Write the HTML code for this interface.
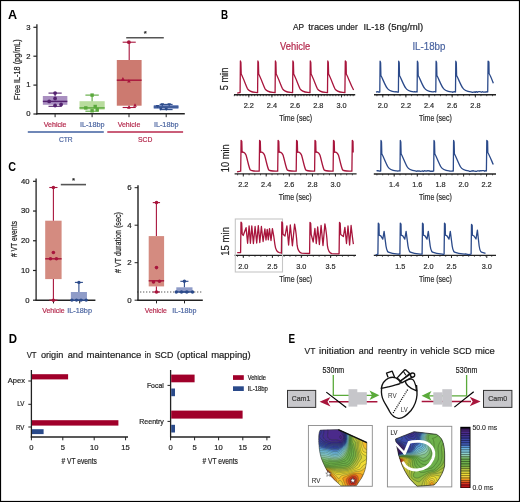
<!DOCTYPE html>
<html><head><meta charset="utf-8"><title>Figure</title>
<style>
html,body{margin:0;padding:0;background:#fff;width:520px;height:502px;overflow:hidden;}
svg{display:block;will-change:transform;}
text{font-family:"Liberation Sans",sans-serif;}
</style></head><body>
<svg width="520" height="502" viewBox="0 0 520 502">
<rect x="0" y="0" width="520" height="502" fill="#fff"/>
<text x="8" y="18.6" font-size="12.8" fill="#000" font-weight="bold" textLength="9.1" lengthAdjust="spacingAndGlyphs" >A</text>
<line x1="36.9" y1="24.3" x2="36.9" y2="114.4" stroke="#222" stroke-width="1.3" />
<line x1="33.4" y1="114" x2="36.9" y2="114" stroke="#222" stroke-width="1.2" />
<text x="30.6" y="116.3" font-size="7.7" fill="#222" stroke="#222" stroke-width="0.2" text-anchor="end" >0</text>
<line x1="33.4" y1="85.1" x2="36.9" y2="85.1" stroke="#222" stroke-width="1.2" />
<text x="30.6" y="87.4" font-size="7.7" fill="#222" stroke="#222" stroke-width="0.2" text-anchor="end" >1</text>
<line x1="33.4" y1="56.2" x2="36.9" y2="56.2" stroke="#222" stroke-width="1.2" />
<text x="30.6" y="58.5" font-size="7.7" fill="#222" stroke="#222" stroke-width="0.2" text-anchor="end" >2</text>
<line x1="33.4" y1="27.3" x2="36.9" y2="27.3" stroke="#222" stroke-width="1.2" />
<text x="30.6" y="29.6" font-size="7.7" fill="#222" stroke="#222" stroke-width="0.2" text-anchor="end" >3</text>
<text transform="translate(20.4,69.6) rotate(-90)" font-size="8.4" fill="#222" stroke="#222" stroke-width="0.2" text-anchor="middle" textLength="60.8" lengthAdjust="spacingAndGlyphs" >Free IL-18 (pg/mL)</text>
<line x1="36.2" y1="113.8" x2="184.8" y2="113.8" stroke="#222" stroke-width="1.5" />
<line x1="55.1" y1="113.8" x2="55.1" y2="117.2" stroke="#222" stroke-width="1" />
<line x1="92.1" y1="113.8" x2="92.1" y2="117.2" stroke="#222" stroke-width="1" />
<line x1="129" y1="113.8" x2="129" y2="117.2" stroke="#222" stroke-width="1" />
<line x1="166.2" y1="113.8" x2="166.2" y2="117.2" stroke="#222" stroke-width="1" />
<rect x="42.85" y="96" width="24.5" height="8.8" fill="#a98fc0" stroke="none" stroke-width="1" />
<line x1="55.1" y1="93.1" x2="55.1" y2="96" stroke="#54226f" stroke-width="1.1" />
<line x1="55.1" y1="104.8" x2="55.1" y2="106.3" stroke="#54226f" stroke-width="1.1" />
<line x1="48.5" y1="93.1" x2="61.7" y2="93.1" stroke="#54226f" stroke-width="1.1" />
<line x1="48.5" y1="106.3" x2="61.7" y2="106.3" stroke="#54226f" stroke-width="1.1" />
<line x1="42.85" y1="101.4" x2="67.35" y2="101.4" stroke="#54226f" stroke-width="1.43" />
<circle cx="55.1" cy="93.1" r="1.9" fill="#54226f"/>
<circle cx="55.1" cy="98.5" r="1.9" fill="#54226f"/>
<circle cx="49.2" cy="101.4" r="1.9" fill="#54226f"/>
<circle cx="55.1" cy="105.5" r="1.9" fill="#54226f"/>
<circle cx="61.1" cy="104.5" r="1.9" fill="#54226f"/>
<rect x="79.5" y="101.2" width="25.2" height="8.4" fill="#b9dc9e" stroke="none" stroke-width="1" />
<line x1="92.1" y1="95.1" x2="92.1" y2="101.2" stroke="#5aa83c" stroke-width="1.1" />
<line x1="92.1" y1="109.6" x2="92.1" y2="111.2" stroke="#5aa83c" stroke-width="1.1" />
<line x1="85.4" y1="95.1" x2="98.8" y2="95.1" stroke="#5aa83c" stroke-width="1.1" />
<line x1="85.4" y1="111.2" x2="98.8" y2="111.2" stroke="#5aa83c" stroke-width="1.1" />
<line x1="79.5" y1="107.9" x2="104.7" y2="107.9" stroke="#5aa83c" stroke-width="1.43" />
<rect x="90.4" y="93.4" width="3.4" height="3.4" fill="#5aa83c" stroke="none" stroke-width="1" />
<rect x="84.1" y="106.2" width="3.4" height="3.4" fill="#5aa83c" stroke="none" stroke-width="1" />
<rect x="93.5" y="104.8" width="3.4" height="3.4" fill="#5aa83c" stroke="none" stroke-width="1" />
<rect x="95.5" y="107.9" width="3.4" height="3.4" fill="#5aa83c" stroke="none" stroke-width="1" />
<rect x="90.4" y="109.1" width="3.4" height="3.4" fill="#5aa83c" stroke="none" stroke-width="1" />
<rect x="116.8" y="60" width="24.8" height="45.7" fill="#cc7a70" stroke="none" stroke-width="1" />
<line x1="129.2" y1="42.2" x2="129.2" y2="60" stroke="#a8153c" stroke-width="1.1" />
<line x1="129.2" y1="105.7" x2="129.2" y2="107.5" stroke="#a8153c" stroke-width="1.1" />
<line x1="122.65" y1="42.2" x2="135.75" y2="42.2" stroke="#a8153c" stroke-width="1.1" />
<line x1="122.65" y1="107.5" x2="135.75" y2="107.5" stroke="#a8153c" stroke-width="1.1" />
<line x1="116.8" y1="80.2" x2="141.6" y2="80.2" stroke="#a8153c" stroke-width="1.43" />
<circle cx="128.9" cy="42.2" r="1.9" fill="#a8153c"/>
<polygon points="121,80.51 124.8,80.51 122.9,77.09" fill="#a8153c"/>
<polygon points="133.1,106.71 136.9,106.71 135,103.29" fill="#a8153c"/>
<polygon points="127.1,82.42 130.7,82.42 128.9,79.18" fill="#a8153c"/>
<polygon points="127.1,108.72 130.7,108.72 128.9,105.48" fill="#a8153c"/>
<rect x="153.75" y="105" width="24.7" height="3.8" fill="#7b8fc4" stroke="none" stroke-width="1" />
<line x1="166.1" y1="104.4" x2="166.1" y2="105" stroke="#2b4a8a" stroke-width="1.1" />
<line x1="166.1" y1="108.8" x2="166.1" y2="109.6" stroke="#2b4a8a" stroke-width="1.1" />
<line x1="159.6" y1="104.4" x2="172.6" y2="104.4" stroke="#2b4a8a" stroke-width="1.1" />
<line x1="159.6" y1="109.6" x2="172.6" y2="109.6" stroke="#2b4a8a" stroke-width="1.1" />
<line x1="153.75" y1="107" x2="178.45" y2="107" stroke="#2b4a8a" stroke-width="1.43" />
<polygon points="160.5,103.18 164.1,103.18 162.3,106.42" fill="#2b4a8a"/>
<polygon points="167.4,103.18 171,103.18 169.2,106.42" fill="#2b4a8a"/>
<polygon points="155.7,104.98 159.3,104.98 157.5,108.22" fill="#2b4a8a"/>
<polygon points="159,107.58 162.6,107.58 160.8,110.82" fill="#2b4a8a"/>
<polygon points="164.4,107.78 168,107.78 166.2,111.02" fill="#2b4a8a"/>
<line x1="126.2" y1="37.7" x2="163.8" y2="37.7" stroke="#555" stroke-width="1.6" />
<text x="145.4" y="36.4" font-size="8" fill="#222" stroke="#222" stroke-width="0.2" text-anchor="middle" >*</text>
<text x="55.1" y="127.3" font-size="7.6" fill="#b4284c" stroke="#b4284c" stroke-width="0.2" text-anchor="middle" textLength="22.7" lengthAdjust="spacingAndGlyphs" >Vehicle</text>
<text x="92.2" y="127.3" font-size="7.6" fill="#4a64a0" stroke="#4a64a0" stroke-width="0.2" text-anchor="middle" textLength="24.6" lengthAdjust="spacingAndGlyphs" >IL-18bp</text>
<text x="129" y="127.3" font-size="7.6" fill="#b4284c" stroke="#b4284c" stroke-width="0.2" text-anchor="middle" textLength="22.7" lengthAdjust="spacingAndGlyphs" >Vehicle</text>
<text x="166.2" y="127.3" font-size="7.6" fill="#4a64a0" stroke="#4a64a0" stroke-width="0.2" text-anchor="middle" textLength="24.6" lengthAdjust="spacingAndGlyphs" >IL-18bp</text>
<line x1="27.8" y1="132" x2="103.8" y2="132" stroke="#3f5f9f" stroke-width="1.3" />
<line x1="107.3" y1="132" x2="183.1" y2="132" stroke="#b8284c" stroke-width="1.3" />
<text x="65.8" y="141.6" font-size="8" fill="#4a64a0" stroke="#4a64a0" stroke-width="0.2" text-anchor="middle" textLength="13.8" lengthAdjust="spacingAndGlyphs" >CTR</text>
<text x="145.2" y="141.6" font-size="8" fill="#b4284c" stroke="#b4284c" stroke-width="0.2" text-anchor="middle" textLength="14.3" lengthAdjust="spacingAndGlyphs" >SCD</text>
<text x="221" y="18.5" font-size="12.8" fill="#000" font-weight="bold" textLength="7.1" lengthAdjust="spacingAndGlyphs" >B</text>
<text x="293" y="29.8" font-size="9" fill="#222" stroke="#222" stroke-width="0.2" textLength="11.1" lengthAdjust="spacingAndGlyphs" >AP</text>
<text x="308.2" y="29.8" font-size="9" fill="#222" stroke="#222" stroke-width="0.2" textLength="25.5" lengthAdjust="spacingAndGlyphs" >traces</text>
<text x="336.4" y="29.8" font-size="9" fill="#222" stroke="#222" stroke-width="0.2" textLength="21.3" lengthAdjust="spacingAndGlyphs" >under</text>
<text x="363.5" y="29.8" font-size="9" fill="#222" stroke="#222" stroke-width="0.2" textLength="21.1" lengthAdjust="spacingAndGlyphs" >IL-18</text>
<text x="388" y="29.8" font-size="9" fill="#222" stroke="#222" stroke-width="0.2" textLength="35.2" lengthAdjust="spacingAndGlyphs" >(5ng/ml)</text>
<text x="295.1" y="50.4" font-size="10" fill="#b4284c" stroke="#b4284c" stroke-width="0.2" text-anchor="middle" textLength="30.1" lengthAdjust="spacingAndGlyphs" >Vehicle</text>
<text x="428.9" y="50.4" font-size="10" fill="#4a64a0" stroke="#4a64a0" stroke-width="0.2" text-anchor="middle" textLength="33" lengthAdjust="spacingAndGlyphs" >IL-18bp</text>
<text transform="translate(228.4,79) rotate(-90)" font-size="10.4" fill="#222" stroke="#222" stroke-width="0.2" text-anchor="middle" textLength="22.7" lengthAdjust="spacingAndGlyphs" >5 min</text>
<text transform="translate(228.5,158.3) rotate(-90)" font-size="10.4" fill="#222" stroke="#222" stroke-width="0.2" text-anchor="middle" textLength="27.9" lengthAdjust="spacingAndGlyphs" >10 min</text>
<text transform="translate(228.6,241.4) rotate(-90)" font-size="10.4" fill="#222" stroke="#222" stroke-width="0.2" text-anchor="middle" textLength="28.8" lengthAdjust="spacingAndGlyphs" >15 min</text>
<line x1="234" y1="94.8" x2="355.2" y2="94.8" stroke="#222" stroke-width="1.4" />
<line x1="234.3" y1="94.8" x2="234.3" y2="96.2" stroke="#222" stroke-width="0.75" />
<line x1="237.2" y1="94.8" x2="237.2" y2="96.2" stroke="#222" stroke-width="0.75" />
<line x1="240.1" y1="94.8" x2="240.1" y2="96.2" stroke="#222" stroke-width="0.75" />
<line x1="243" y1="94.8" x2="243" y2="96.2" stroke="#222" stroke-width="0.75" />
<line x1="245.9" y1="94.8" x2="245.9" y2="96.2" stroke="#222" stroke-width="0.75" />
<line x1="248.8" y1="94.8" x2="248.8" y2="96.2" stroke="#222" stroke-width="0.75" />
<line x1="251.7" y1="94.8" x2="251.7" y2="96.2" stroke="#222" stroke-width="0.75" />
<line x1="254.6" y1="94.8" x2="254.6" y2="96.2" stroke="#222" stroke-width="0.75" />
<line x1="257.5" y1="94.8" x2="257.5" y2="96.2" stroke="#222" stroke-width="0.75" />
<line x1="260.4" y1="94.8" x2="260.4" y2="96.2" stroke="#222" stroke-width="0.75" />
<line x1="263.3" y1="94.8" x2="263.3" y2="96.2" stroke="#222" stroke-width="0.75" />
<line x1="266.2" y1="94.8" x2="266.2" y2="96.2" stroke="#222" stroke-width="0.75" />
<line x1="269.1" y1="94.8" x2="269.1" y2="96.2" stroke="#222" stroke-width="0.75" />
<line x1="272" y1="94.8" x2="272" y2="96.2" stroke="#222" stroke-width="0.75" />
<line x1="274.9" y1="94.8" x2="274.9" y2="96.2" stroke="#222" stroke-width="0.75" />
<line x1="277.8" y1="94.8" x2="277.8" y2="96.2" stroke="#222" stroke-width="0.75" />
<line x1="280.7" y1="94.8" x2="280.7" y2="96.2" stroke="#222" stroke-width="0.75" />
<line x1="283.6" y1="94.8" x2="283.6" y2="96.2" stroke="#222" stroke-width="0.75" />
<line x1="286.5" y1="94.8" x2="286.5" y2="96.2" stroke="#222" stroke-width="0.75" />
<line x1="289.4" y1="94.8" x2="289.4" y2="96.2" stroke="#222" stroke-width="0.75" />
<line x1="292.3" y1="94.8" x2="292.3" y2="96.2" stroke="#222" stroke-width="0.75" />
<line x1="295.2" y1="94.8" x2="295.2" y2="96.2" stroke="#222" stroke-width="0.75" />
<line x1="298.1" y1="94.8" x2="298.1" y2="96.2" stroke="#222" stroke-width="0.75" />
<line x1="301" y1="94.8" x2="301" y2="96.2" stroke="#222" stroke-width="0.75" />
<line x1="303.9" y1="94.8" x2="303.9" y2="96.2" stroke="#222" stroke-width="0.75" />
<line x1="306.8" y1="94.8" x2="306.8" y2="96.2" stroke="#222" stroke-width="0.75" />
<line x1="309.7" y1="94.8" x2="309.7" y2="96.2" stroke="#222" stroke-width="0.75" />
<line x1="312.6" y1="94.8" x2="312.6" y2="96.2" stroke="#222" stroke-width="0.75" />
<line x1="315.5" y1="94.8" x2="315.5" y2="96.2" stroke="#222" stroke-width="0.75" />
<line x1="318.4" y1="94.8" x2="318.4" y2="96.2" stroke="#222" stroke-width="0.75" />
<line x1="321.3" y1="94.8" x2="321.3" y2="96.2" stroke="#222" stroke-width="0.75" />
<line x1="324.2" y1="94.8" x2="324.2" y2="96.2" stroke="#222" stroke-width="0.75" />
<line x1="327.1" y1="94.8" x2="327.1" y2="96.2" stroke="#222" stroke-width="0.75" />
<line x1="330" y1="94.8" x2="330" y2="96.2" stroke="#222" stroke-width="0.75" />
<line x1="332.9" y1="94.8" x2="332.9" y2="96.2" stroke="#222" stroke-width="0.75" />
<line x1="335.8" y1="94.8" x2="335.8" y2="96.2" stroke="#222" stroke-width="0.75" />
<line x1="338.7" y1="94.8" x2="338.7" y2="96.2" stroke="#222" stroke-width="0.75" />
<line x1="341.6" y1="94.8" x2="341.6" y2="96.2" stroke="#222" stroke-width="0.75" />
<line x1="344.5" y1="94.8" x2="344.5" y2="96.2" stroke="#222" stroke-width="0.75" />
<line x1="347.4" y1="94.8" x2="347.4" y2="96.2" stroke="#222" stroke-width="0.75" />
<line x1="350.3" y1="94.8" x2="350.3" y2="96.2" stroke="#222" stroke-width="0.75" />
<line x1="353.2" y1="94.8" x2="353.2" y2="96.2" stroke="#222" stroke-width="0.75" />
<line x1="248.8" y1="94.8" x2="248.8" y2="97.4" stroke="#222" stroke-width="0.9" />
<line x1="271.9" y1="94.8" x2="271.9" y2="97.4" stroke="#222" stroke-width="0.9" />
<line x1="295.1" y1="94.8" x2="295.1" y2="97.4" stroke="#222" stroke-width="0.9" />
<line x1="318.3" y1="94.8" x2="318.3" y2="97.4" stroke="#222" stroke-width="0.9" />
<line x1="341.5" y1="94.8" x2="341.5" y2="97.4" stroke="#222" stroke-width="0.9" />
<text x="248.8" y="108" font-size="8" fill="#2a2a2a" stroke="#2a2a2a" stroke-width="0.2" text-anchor="middle" textLength="10.2" lengthAdjust="spacingAndGlyphs" >2.2</text>
<text x="271.9" y="108" font-size="8" fill="#2a2a2a" stroke="#2a2a2a" stroke-width="0.2" text-anchor="middle" textLength="10.2" lengthAdjust="spacingAndGlyphs" >2.4</text>
<text x="295.1" y="108" font-size="8" fill="#2a2a2a" stroke="#2a2a2a" stroke-width="0.2" text-anchor="middle" textLength="10.2" lengthAdjust="spacingAndGlyphs" >2.6</text>
<text x="318.3" y="108" font-size="8" fill="#2a2a2a" stroke="#2a2a2a" stroke-width="0.2" text-anchor="middle" textLength="10.2" lengthAdjust="spacingAndGlyphs" >2.8</text>
<text x="341.5" y="108" font-size="8" fill="#2a2a2a" stroke="#2a2a2a" stroke-width="0.2" text-anchor="middle" textLength="10.2" lengthAdjust="spacingAndGlyphs" >3.0</text>
<text x="295.7" y="120.6" font-size="8.8" fill="#2a2a2a" stroke="#2a2a2a" stroke-width="0.2" text-anchor="middle" textLength="32.9" lengthAdjust="spacingAndGlyphs" >Time (sec)</text>
<line x1="374" y1="94.8" x2="496" y2="94.8" stroke="#222" stroke-width="1.4" />
<line x1="376.9" y1="94.8" x2="376.9" y2="96.2" stroke="#222" stroke-width="0.75" />
<line x1="382.68" y1="94.8" x2="382.68" y2="96.2" stroke="#222" stroke-width="0.75" />
<line x1="388.46" y1="94.8" x2="388.46" y2="96.2" stroke="#222" stroke-width="0.75" />
<line x1="394.24" y1="94.8" x2="394.24" y2="96.2" stroke="#222" stroke-width="0.75" />
<line x1="400.02" y1="94.8" x2="400.02" y2="96.2" stroke="#222" stroke-width="0.75" />
<line x1="405.8" y1="94.8" x2="405.8" y2="96.2" stroke="#222" stroke-width="0.75" />
<line x1="411.58" y1="94.8" x2="411.58" y2="96.2" stroke="#222" stroke-width="0.75" />
<line x1="417.36" y1="94.8" x2="417.36" y2="96.2" stroke="#222" stroke-width="0.75" />
<line x1="423.14" y1="94.8" x2="423.14" y2="96.2" stroke="#222" stroke-width="0.75" />
<line x1="428.92" y1="94.8" x2="428.92" y2="96.2" stroke="#222" stroke-width="0.75" />
<line x1="434.7" y1="94.8" x2="434.7" y2="96.2" stroke="#222" stroke-width="0.75" />
<line x1="440.48" y1="94.8" x2="440.48" y2="96.2" stroke="#222" stroke-width="0.75" />
<line x1="446.26" y1="94.8" x2="446.26" y2="96.2" stroke="#222" stroke-width="0.75" />
<line x1="452.04" y1="94.8" x2="452.04" y2="96.2" stroke="#222" stroke-width="0.75" />
<line x1="457.82" y1="94.8" x2="457.82" y2="96.2" stroke="#222" stroke-width="0.75" />
<line x1="463.6" y1="94.8" x2="463.6" y2="96.2" stroke="#222" stroke-width="0.75" />
<line x1="469.38" y1="94.8" x2="469.38" y2="96.2" stroke="#222" stroke-width="0.75" />
<line x1="475.16" y1="94.8" x2="475.16" y2="96.2" stroke="#222" stroke-width="0.75" />
<line x1="480.94" y1="94.8" x2="480.94" y2="96.2" stroke="#222" stroke-width="0.75" />
<line x1="486.72" y1="94.8" x2="486.72" y2="96.2" stroke="#222" stroke-width="0.75" />
<line x1="492.5" y1="94.8" x2="492.5" y2="96.2" stroke="#222" stroke-width="0.75" />
<line x1="382.8" y1="94.8" x2="382.8" y2="97.4" stroke="#222" stroke-width="0.9" />
<line x1="405.9" y1="94.8" x2="405.9" y2="97.4" stroke="#222" stroke-width="0.9" />
<line x1="429.1" y1="94.8" x2="429.1" y2="97.4" stroke="#222" stroke-width="0.9" />
<line x1="452.2" y1="94.8" x2="452.2" y2="97.4" stroke="#222" stroke-width="0.9" />
<line x1="475.4" y1="94.8" x2="475.4" y2="97.4" stroke="#222" stroke-width="0.9" />
<text x="382.8" y="108" font-size="8" fill="#2a2a2a" stroke="#2a2a2a" stroke-width="0.2" text-anchor="middle" textLength="10.2" lengthAdjust="spacingAndGlyphs" >2.0</text>
<text x="405.9" y="108" font-size="8" fill="#2a2a2a" stroke="#2a2a2a" stroke-width="0.2" text-anchor="middle" textLength="10.2" lengthAdjust="spacingAndGlyphs" >2.2</text>
<text x="429.1" y="108" font-size="8" fill="#2a2a2a" stroke="#2a2a2a" stroke-width="0.2" text-anchor="middle" textLength="10.2" lengthAdjust="spacingAndGlyphs" >2.4</text>
<text x="452.2" y="108" font-size="8" fill="#2a2a2a" stroke="#2a2a2a" stroke-width="0.2" text-anchor="middle" textLength="10.2" lengthAdjust="spacingAndGlyphs" >2.6</text>
<text x="475.4" y="108" font-size="8" fill="#2a2a2a" stroke="#2a2a2a" stroke-width="0.2" text-anchor="middle" textLength="10.2" lengthAdjust="spacingAndGlyphs" >2.8</text>
<text x="435.4" y="120.6" font-size="8.8" fill="#2a2a2a" stroke="#2a2a2a" stroke-width="0.2" text-anchor="middle" textLength="32.9" lengthAdjust="spacingAndGlyphs" >Time (sec)</text>
<line x1="234.6" y1="173.9" x2="356.6" y2="173.9" stroke="#222" stroke-width="1.4" />
<line x1="237.6" y1="173.9" x2="237.6" y2="175.3" stroke="#222" stroke-width="0.75" />
<line x1="243.34" y1="173.9" x2="243.34" y2="175.3" stroke="#222" stroke-width="0.75" />
<line x1="249.08" y1="173.9" x2="249.08" y2="175.3" stroke="#222" stroke-width="0.75" />
<line x1="254.82" y1="173.9" x2="254.82" y2="175.3" stroke="#222" stroke-width="0.75" />
<line x1="260.56" y1="173.9" x2="260.56" y2="175.3" stroke="#222" stroke-width="0.75" />
<line x1="266.3" y1="173.9" x2="266.3" y2="175.3" stroke="#222" stroke-width="0.75" />
<line x1="272.04" y1="173.9" x2="272.04" y2="175.3" stroke="#222" stroke-width="0.75" />
<line x1="277.78" y1="173.9" x2="277.78" y2="175.3" stroke="#222" stroke-width="0.75" />
<line x1="283.52" y1="173.9" x2="283.52" y2="175.3" stroke="#222" stroke-width="0.75" />
<line x1="289.26" y1="173.9" x2="289.26" y2="175.3" stroke="#222" stroke-width="0.75" />
<line x1="295" y1="173.9" x2="295" y2="175.3" stroke="#222" stroke-width="0.75" />
<line x1="300.74" y1="173.9" x2="300.74" y2="175.3" stroke="#222" stroke-width="0.75" />
<line x1="306.48" y1="173.9" x2="306.48" y2="175.3" stroke="#222" stroke-width="0.75" />
<line x1="312.22" y1="173.9" x2="312.22" y2="175.3" stroke="#222" stroke-width="0.75" />
<line x1="317.96" y1="173.9" x2="317.96" y2="175.3" stroke="#222" stroke-width="0.75" />
<line x1="323.7" y1="173.9" x2="323.7" y2="175.3" stroke="#222" stroke-width="0.75" />
<line x1="329.44" y1="173.9" x2="329.44" y2="175.3" stroke="#222" stroke-width="0.75" />
<line x1="335.18" y1="173.9" x2="335.18" y2="175.3" stroke="#222" stroke-width="0.75" />
<line x1="340.92" y1="173.9" x2="340.92" y2="175.3" stroke="#222" stroke-width="0.75" />
<line x1="346.66" y1="173.9" x2="346.66" y2="175.3" stroke="#222" stroke-width="0.75" />
<line x1="352.4" y1="173.9" x2="352.4" y2="175.3" stroke="#222" stroke-width="0.75" />
<line x1="243.3" y1="173.9" x2="243.3" y2="176.5" stroke="#222" stroke-width="0.9" />
<line x1="266.2" y1="173.9" x2="266.2" y2="176.5" stroke="#222" stroke-width="0.9" />
<line x1="289.3" y1="173.9" x2="289.3" y2="176.5" stroke="#222" stroke-width="0.9" />
<line x1="312.5" y1="173.9" x2="312.5" y2="176.5" stroke="#222" stroke-width="0.9" />
<line x1="335.5" y1="173.9" x2="335.5" y2="176.5" stroke="#222" stroke-width="0.9" />
<text x="243.3" y="186.9" font-size="8" fill="#2a2a2a" stroke="#2a2a2a" stroke-width="0.2" text-anchor="middle" textLength="10.2" lengthAdjust="spacingAndGlyphs" >2.2</text>
<text x="266.2" y="186.9" font-size="8" fill="#2a2a2a" stroke="#2a2a2a" stroke-width="0.2" text-anchor="middle" textLength="10.2" lengthAdjust="spacingAndGlyphs" >2.4</text>
<text x="289.3" y="186.9" font-size="8" fill="#2a2a2a" stroke="#2a2a2a" stroke-width="0.2" text-anchor="middle" textLength="10.2" lengthAdjust="spacingAndGlyphs" >2.6</text>
<text x="312.5" y="186.9" font-size="8" fill="#2a2a2a" stroke="#2a2a2a" stroke-width="0.2" text-anchor="middle" textLength="10.2" lengthAdjust="spacingAndGlyphs" >2.8</text>
<text x="335.5" y="186.9" font-size="8" fill="#2a2a2a" stroke="#2a2a2a" stroke-width="0.2" text-anchor="middle" textLength="10.2" lengthAdjust="spacingAndGlyphs" >3.0</text>
<text x="295.2" y="199.5" font-size="8.8" fill="#2a2a2a" stroke="#2a2a2a" stroke-width="0.2" text-anchor="middle" textLength="32.9" lengthAdjust="spacingAndGlyphs" >Time (sec)</text>
<line x1="373.8" y1="174" x2="496" y2="174" stroke="#222" stroke-width="1.4" />
<line x1="376.9" y1="174" x2="376.9" y2="175.4" stroke="#222" stroke-width="0.75" />
<line x1="382.68" y1="174" x2="382.68" y2="175.4" stroke="#222" stroke-width="0.75" />
<line x1="388.46" y1="174" x2="388.46" y2="175.4" stroke="#222" stroke-width="0.75" />
<line x1="394.24" y1="174" x2="394.24" y2="175.4" stroke="#222" stroke-width="0.75" />
<line x1="400.02" y1="174" x2="400.02" y2="175.4" stroke="#222" stroke-width="0.75" />
<line x1="405.8" y1="174" x2="405.8" y2="175.4" stroke="#222" stroke-width="0.75" />
<line x1="411.58" y1="174" x2="411.58" y2="175.4" stroke="#222" stroke-width="0.75" />
<line x1="417.36" y1="174" x2="417.36" y2="175.4" stroke="#222" stroke-width="0.75" />
<line x1="423.14" y1="174" x2="423.14" y2="175.4" stroke="#222" stroke-width="0.75" />
<line x1="428.92" y1="174" x2="428.92" y2="175.4" stroke="#222" stroke-width="0.75" />
<line x1="434.7" y1="174" x2="434.7" y2="175.4" stroke="#222" stroke-width="0.75" />
<line x1="440.48" y1="174" x2="440.48" y2="175.4" stroke="#222" stroke-width="0.75" />
<line x1="446.26" y1="174" x2="446.26" y2="175.4" stroke="#222" stroke-width="0.75" />
<line x1="452.04" y1="174" x2="452.04" y2="175.4" stroke="#222" stroke-width="0.75" />
<line x1="457.82" y1="174" x2="457.82" y2="175.4" stroke="#222" stroke-width="0.75" />
<line x1="463.6" y1="174" x2="463.6" y2="175.4" stroke="#222" stroke-width="0.75" />
<line x1="469.38" y1="174" x2="469.38" y2="175.4" stroke="#222" stroke-width="0.75" />
<line x1="475.16" y1="174" x2="475.16" y2="175.4" stroke="#222" stroke-width="0.75" />
<line x1="480.94" y1="174" x2="480.94" y2="175.4" stroke="#222" stroke-width="0.75" />
<line x1="486.72" y1="174" x2="486.72" y2="175.4" stroke="#222" stroke-width="0.75" />
<line x1="492.5" y1="174" x2="492.5" y2="175.4" stroke="#222" stroke-width="0.75" />
<line x1="394.2" y1="174" x2="394.2" y2="176.6" stroke="#222" stroke-width="0.9" />
<line x1="417.3" y1="174" x2="417.3" y2="176.6" stroke="#222" stroke-width="0.9" />
<line x1="440.6" y1="174" x2="440.6" y2="176.6" stroke="#222" stroke-width="0.9" />
<line x1="463.6" y1="174" x2="463.6" y2="176.6" stroke="#222" stroke-width="0.9" />
<line x1="486.5" y1="174" x2="486.5" y2="176.6" stroke="#222" stroke-width="0.9" />
<text x="394.2" y="186.9" font-size="8" fill="#2a2a2a" stroke="#2a2a2a" stroke-width="0.2" text-anchor="middle" textLength="10.2" lengthAdjust="spacingAndGlyphs" >1.4</text>
<text x="417.3" y="186.9" font-size="8" fill="#2a2a2a" stroke="#2a2a2a" stroke-width="0.2" text-anchor="middle" textLength="10.2" lengthAdjust="spacingAndGlyphs" >1.6</text>
<text x="440.6" y="186.9" font-size="8" fill="#2a2a2a" stroke="#2a2a2a" stroke-width="0.2" text-anchor="middle" textLength="10.2" lengthAdjust="spacingAndGlyphs" >1.8</text>
<text x="463.6" y="186.9" font-size="8" fill="#2a2a2a" stroke="#2a2a2a" stroke-width="0.2" text-anchor="middle" textLength="10.2" lengthAdjust="spacingAndGlyphs" >2.0</text>
<text x="486.5" y="186.9" font-size="8" fill="#2a2a2a" stroke="#2a2a2a" stroke-width="0.2" text-anchor="middle" textLength="10.2" lengthAdjust="spacingAndGlyphs" >2.2</text>
<text x="435.4" y="199.5" font-size="8.8" fill="#2a2a2a" stroke="#2a2a2a" stroke-width="0.2" text-anchor="middle" textLength="32.9" lengthAdjust="spacingAndGlyphs" >Time (sec)</text>
<line x1="234.6" y1="255.4" x2="356" y2="255.4" stroke="#222" stroke-width="1.4" />
<line x1="237.5" y1="255.4" x2="237.5" y2="256.8" stroke="#222" stroke-width="0.75" />
<line x1="243.33" y1="255.4" x2="243.33" y2="256.8" stroke="#222" stroke-width="0.75" />
<line x1="249.16" y1="255.4" x2="249.16" y2="256.8" stroke="#222" stroke-width="0.75" />
<line x1="254.99" y1="255.4" x2="254.99" y2="256.8" stroke="#222" stroke-width="0.75" />
<line x1="260.82" y1="255.4" x2="260.82" y2="256.8" stroke="#222" stroke-width="0.75" />
<line x1="266.65" y1="255.4" x2="266.65" y2="256.8" stroke="#222" stroke-width="0.75" />
<line x1="272.48" y1="255.4" x2="272.48" y2="256.8" stroke="#222" stroke-width="0.75" />
<line x1="278.31" y1="255.4" x2="278.31" y2="256.8" stroke="#222" stroke-width="0.75" />
<line x1="284.14" y1="255.4" x2="284.14" y2="256.8" stroke="#222" stroke-width="0.75" />
<line x1="289.97" y1="255.4" x2="289.97" y2="256.8" stroke="#222" stroke-width="0.75" />
<line x1="295.8" y1="255.4" x2="295.8" y2="256.8" stroke="#222" stroke-width="0.75" />
<line x1="301.63" y1="255.4" x2="301.63" y2="256.8" stroke="#222" stroke-width="0.75" />
<line x1="307.46" y1="255.4" x2="307.46" y2="256.8" stroke="#222" stroke-width="0.75" />
<line x1="313.29" y1="255.4" x2="313.29" y2="256.8" stroke="#222" stroke-width="0.75" />
<line x1="319.12" y1="255.4" x2="319.12" y2="256.8" stroke="#222" stroke-width="0.75" />
<line x1="324.95" y1="255.4" x2="324.95" y2="256.8" stroke="#222" stroke-width="0.75" />
<line x1="330.78" y1="255.4" x2="330.78" y2="256.8" stroke="#222" stroke-width="0.75" />
<line x1="336.61" y1="255.4" x2="336.61" y2="256.8" stroke="#222" stroke-width="0.75" />
<line x1="342.44" y1="255.4" x2="342.44" y2="256.8" stroke="#222" stroke-width="0.75" />
<line x1="348.27" y1="255.4" x2="348.27" y2="256.8" stroke="#222" stroke-width="0.75" />
<line x1="354.1" y1="255.4" x2="354.1" y2="256.8" stroke="#222" stroke-width="0.75" />
<line x1="243.3" y1="255.4" x2="243.3" y2="258" stroke="#222" stroke-width="0.9" />
<line x1="272.4" y1="255.4" x2="272.4" y2="258" stroke="#222" stroke-width="0.9" />
<line x1="301.3" y1="255.4" x2="301.3" y2="258" stroke="#222" stroke-width="0.9" />
<line x1="330.6" y1="255.4" x2="330.6" y2="258" stroke="#222" stroke-width="0.9" />
<text x="243.3" y="268.6" font-size="8" fill="#2a2a2a" stroke="#2a2a2a" stroke-width="0.2" text-anchor="middle" textLength="10.2" lengthAdjust="spacingAndGlyphs" >2.0</text>
<text x="272.4" y="268.6" font-size="8" fill="#2a2a2a" stroke="#2a2a2a" stroke-width="0.2" text-anchor="middle" textLength="10.2" lengthAdjust="spacingAndGlyphs" >2.5</text>
<text x="301.3" y="268.6" font-size="8" fill="#2a2a2a" stroke="#2a2a2a" stroke-width="0.2" text-anchor="middle" textLength="10.2" lengthAdjust="spacingAndGlyphs" >3.0</text>
<text x="330.6" y="268.6" font-size="8" fill="#2a2a2a" stroke="#2a2a2a" stroke-width="0.2" text-anchor="middle" textLength="10.2" lengthAdjust="spacingAndGlyphs" >3.5</text>
<text x="295.7" y="281.6" font-size="8.8" fill="#2a2a2a" stroke="#2a2a2a" stroke-width="0.2" text-anchor="middle" textLength="32.9" lengthAdjust="spacingAndGlyphs" >Time (sec)</text>
<line x1="373.8" y1="255.4" x2="496" y2="255.4" stroke="#222" stroke-width="1.4" />
<line x1="376.7" y1="255.4" x2="376.7" y2="256.8" stroke="#222" stroke-width="0.75" />
<line x1="382.45" y1="255.4" x2="382.45" y2="256.8" stroke="#222" stroke-width="0.75" />
<line x1="388.2" y1="255.4" x2="388.2" y2="256.8" stroke="#222" stroke-width="0.75" />
<line x1="393.95" y1="255.4" x2="393.95" y2="256.8" stroke="#222" stroke-width="0.75" />
<line x1="399.7" y1="255.4" x2="399.7" y2="256.8" stroke="#222" stroke-width="0.75" />
<line x1="405.45" y1="255.4" x2="405.45" y2="256.8" stroke="#222" stroke-width="0.75" />
<line x1="411.2" y1="255.4" x2="411.2" y2="256.8" stroke="#222" stroke-width="0.75" />
<line x1="416.95" y1="255.4" x2="416.95" y2="256.8" stroke="#222" stroke-width="0.75" />
<line x1="422.7" y1="255.4" x2="422.7" y2="256.8" stroke="#222" stroke-width="0.75" />
<line x1="428.45" y1="255.4" x2="428.45" y2="256.8" stroke="#222" stroke-width="0.75" />
<line x1="434.2" y1="255.4" x2="434.2" y2="256.8" stroke="#222" stroke-width="0.75" />
<line x1="439.95" y1="255.4" x2="439.95" y2="256.8" stroke="#222" stroke-width="0.75" />
<line x1="445.7" y1="255.4" x2="445.7" y2="256.8" stroke="#222" stroke-width="0.75" />
<line x1="451.45" y1="255.4" x2="451.45" y2="256.8" stroke="#222" stroke-width="0.75" />
<line x1="457.2" y1="255.4" x2="457.2" y2="256.8" stroke="#222" stroke-width="0.75" />
<line x1="462.95" y1="255.4" x2="462.95" y2="256.8" stroke="#222" stroke-width="0.75" />
<line x1="468.7" y1="255.4" x2="468.7" y2="256.8" stroke="#222" stroke-width="0.75" />
<line x1="474.45" y1="255.4" x2="474.45" y2="256.8" stroke="#222" stroke-width="0.75" />
<line x1="480.2" y1="255.4" x2="480.2" y2="256.8" stroke="#222" stroke-width="0.75" />
<line x1="485.95" y1="255.4" x2="485.95" y2="256.8" stroke="#222" stroke-width="0.75" />
<line x1="491.7" y1="255.4" x2="491.7" y2="256.8" stroke="#222" stroke-width="0.75" />
<line x1="400.3" y1="255.4" x2="400.3" y2="258" stroke="#222" stroke-width="0.9" />
<line x1="428.5" y1="255.4" x2="428.5" y2="258" stroke="#222" stroke-width="0.9" />
<line x1="451.5" y1="255.4" x2="451.5" y2="258" stroke="#222" stroke-width="0.9" />
<line x1="486.8" y1="255.4" x2="486.8" y2="258" stroke="#222" stroke-width="0.9" />
<text x="400.3" y="268.6" font-size="8" fill="#2a2a2a" stroke="#2a2a2a" stroke-width="0.2" text-anchor="middle" textLength="10.2" lengthAdjust="spacingAndGlyphs" >1.5</text>
<text x="428.5" y="268.6" font-size="8" fill="#2a2a2a" stroke="#2a2a2a" stroke-width="0.2" text-anchor="middle" textLength="10.2" lengthAdjust="spacingAndGlyphs" >2.0</text>
<text x="451.5" y="268.6" font-size="8" fill="#2a2a2a" stroke="#2a2a2a" stroke-width="0.2" text-anchor="middle" textLength="10.2" lengthAdjust="spacingAndGlyphs" >2.5</text>
<text x="486.8" y="268.6" font-size="8" fill="#2a2a2a" stroke="#2a2a2a" stroke-width="0.2" text-anchor="middle" textLength="10.2" lengthAdjust="spacingAndGlyphs" >3.0</text>
<text x="435.4" y="281.6" font-size="8.8" fill="#2a2a2a" stroke="#2a2a2a" stroke-width="0.2" text-anchor="middle" textLength="32.9" lengthAdjust="spacingAndGlyphs" >Time (sec)</text>
<rect x="235.3" y="219" width="47.2" height="53" fill="none" stroke="#c6c6c6" stroke-width="1.1" />
<path d="M237.2,93.2 L239.5,92.6 L240.1,92.6 L240.4,61 L240.9,62.5 L241.2,74 C242.9,77 245.4,84 247.4,88.6 C248.9,91.4 250.9,92 255.4,92.4 L257.6,92.6 L257.9,61 L258.4,62.5 L258.7,74 C260.4,77 262.9,84 264.9,88.6 C266.4,91.4 268.4,92 272.9,92.4 L275.1,92.6 L275.4,61 L275.9,62.5 L276.2,74 C277.9,77 280.4,84 282.4,88.6 C283.9,91.4 285.9,92 290.4,92.4 L292.6,92.6 L292.9,61 L293.4,62.5 L293.7,74 C295.4,77 297.9,84 299.9,88.6 C301.4,91.4 303.4,92 307.9,92.4 L310,92.6 L310.3,61 L310.8,62.5 L311.1,74 C312.8,77 315.3,84 317.3,88.6 C318.8,91.4 320.8,92 325.3,92.4 L327.5,92.6 L327.8,61 L328.3,62.5 L328.6,74 C330.3,77 332.8,84 334.8,88.6 C336.3,91.4 338.3,92 342.8,92.4 L344.9,92.6 L345.3,61 L346.1,62 L346.3,74 C348.3,77.5 350.3,84 353.6,90" stroke="#a8153c" stroke-width="1.3" fill="none" stroke-linejoin="round"/>
<path d="M376,92 L376.9,91.84 L377.8,91.69 L378.7,92.14 L379.8,92 L380.1,61.1 L380.6,62.6 L380.9,75.5 C382.6,78.5 385.1,85.5 387.1,88 C388.6,90.8 390.6,91.4 395.1,91.8 L396,91.62 L396.9,92.03 L397.8,91.88 L398.4,92 L398.7,61.1 L399.2,62.6 L399.5,75.5 C401.2,78.5 403.7,85.5 405.7,88 C407.2,90.8 409.2,91.4 413.7,91.8 L414.6,91.6 L415.5,92.01 L416.4,91.58 L417.1,92 L417.4,61.1 L417.9,62.6 L418.2,75.5 C419.9,78.5 422.4,85.5 424.4,88 C425.9,90.8 427.9,91.4 432.4,91.8 L433.3,91.94 L434.2,91.61 L435.1,91.63 L435.8,92 L436.1,61.1 L436.6,62.6 L436.9,75.5 C438.6,78.5 441.1,85.5 443.1,88 C444.6,90.8 446.6,91.4 451.1,91.8 L452,91.93 L452.9,92.29 L453.8,91.66 L454.7,91.75 L455.5,92 L455.8,61.1 L456.3,62.6 L456.6,75.5 C458.3,78.5 460.8,85.5 462.8,88 C464.3,90.8 466.3,91.4 470.8,91.8 L471.7,92.11 L472.6,92.4 L473.5,92.07 L474.4,91.91 L475.3,92.43 L476.2,91.59 L477.1,92.32 L478,91.81 L478.9,91.68 L479.8,91.66 L480.7,91.83 L481.6,92.28 L482.5,91.71 L483.4,92.07 L484.3,92.13 L485.2,91.89 L486.1,92.04 L487,91.61 L487.7,92 L488.1,61.1 L488.9,62 L489.1,73.5 C490.6,76 492.1,80 493.4,83.3" stroke="#2b4a8a" stroke-width="1.3" fill="none" stroke-linejoin="round"/>
<path d="M237.0,171.8 L240.7,171.2 L240.7,171.2 L241.1,140.3 L241.8,141.3 L242.1,152.3 C243.6,151.8 245.1,152.8 246.1,155.3 C247.6,160.3 248.6,166.2 250.1,169.7 C251.1,170.8 253.1,171 257.1,171.2 L259.2,171.2 L259.6,140.3 L260.3,141.3 L260.6,152.3 C262.1,151.8 263.6,152.8 264.6,155.3 C266.1,160.3 267.1,166.2 268.6,169.7 C269.6,170.8 271.6,171 275.6,171.2 L277.7,171.2 L278.1,140.3 L278.8,141.3 L279.1,152.3 C280.6,151.8 282.1,152.8 283.1,155.3 C284.6,160.3 285.6,166.2 287.1,169.7 C288.1,170.8 290.1,171 294.1,171.2 L296.2,171.2 L296.6,140.3 L297.3,141.3 L297.6,152.3 C299.1,151.8 300.6,152.8 301.6,155.3 C303.1,160.3 304.1,166.2 305.6,169.7 C306.6,170.8 308.6,171 312.6,171.2 L314.6,171.2 L315,140.3 L315.7,141.3 L316,152.3 C317.5,151.8 319,152.8 320,155.3 C321.5,160.3 322.5,166.2 324,169.7 C325,170.8 327,171 331,171.2 L333.1,171.2 L333.5,140.3 L334.2,141.3 L334.5,152.3 C336,151.8 337.5,152.8 338.5,155.3 C340,160.3 341,166.2 342.5,169.7 C343.5,170.8 345.5,171 349.5,171.2 L351.9,171.2 L352.3,140.4 L353,141.4 L353.2,152.5" stroke="#a8153c" stroke-width="1.3" fill="none" stroke-linejoin="round"/>
<path d="M376.5,171 L377.4,170.6 L378.3,170.74 L379.2,171.16 L380.1,170.93 L380.7,171 L381,140.4 L381.5,141.9 L381.8,153.8 C383.5,156.8 386,163.8 388,167 C389.5,169.8 391.5,170.4 396,170.8 L396.9,170.83 L397.8,171.08 L398.7,170.96 L399.6,170.82 L400,171 L400.3,140.4 L400.8,141.9 L401.1,153.8 C402.8,156.8 405.3,163.8 407.3,167 C408.8,169.8 410.8,170.4 415.3,170.8 L416.2,171.26 L417.1,171.18 L418,170.77 L418.9,171.07 L419.8,171.02 L420.7,171.34 L421.6,171.21 L422.5,170.81 L423.4,171.43 L424.3,170.66 L425.2,170.93 L426.1,171.23 L427,170.69 L427.9,170.99 L428.8,170.59 L429.7,171.15 L430.6,171.24 L431.5,171.07 L432.4,171.34 L433.3,170.83 L433.7,171 L434,140.4 L434.5,141.9 L434.8,153.8 C436.5,156.8 439,163.8 441,167 C442.5,169.8 444.5,170.4 449,170.8 L449.9,171.18 L450.8,171.08 L451.7,171.07 L452.6,170.96 L453.3,171 L453.6,140.4 L454.1,141.9 L454.4,153.8 C456.1,156.8 458.6,163.8 460.6,167 C462.1,169.8 464.1,170.4 468.6,170.8 L469.5,171.31 L470.4,171.4 L471.3,170.98 L472.2,171.15 L473.1,170.6 L474,171.18 L474.9,171.13 L475.8,171.44 L476.7,171.29 L477.6,170.81 L478.5,170.9 L479.4,171.15 L480.3,170.57 L481.2,170.97 L482.1,170.7 L483,170.66 L483.9,170.6 L484.8,171.24 L485.7,170.67 L486.4,171 L486.8,140.4 L487.6,141.4 L487.8,152.5 C489.3,155 491.3,160 493.3,164.6" stroke="#2b4a8a" stroke-width="1.3" fill="none" stroke-linejoin="round"/>
<path d="M237.2,252.6 L240.6,252.4 L240.6,252.6 L241,222.2 L241.7,223.2 L242.2,234 L243.2,235.5 L246.1,227.7 L247.6,243.3 L249.1,226 L250.4,243.3 L251.8,226 L253.4,243.5 L255.1,226.5 L256.7,243 L258.3,225.6 L259.8,242.5 L261.4,226.5 L263.1,241.5 L264.9,228.8 L266,240 L267.2,229.4 L268.3,239.8 L269.5,228.6 L271,240.5 L272.4,228.6 C273.4,233.6 274.2,238.6 274.9,244.6 C275.7,250.6 276.9,252.1 279.4,252.6 L281.2,252.9 L281.4,253.2 L281.8,221.9 L282.5,222.9 L283,234.2 L285,236 L286.9,225.8 L288.6,245 L290.3,225 L292.4,245.8 L294.6,224.2 C295.6,229.2 296.4,234.2 297.1,245.2 C297.9,251.2 299.1,252.7 301.6,253.2 L309.6,253.5 L309.6,253.6 L310,222.4 L310.7,223.4 L311.2,234.5 L313.2,242 L314.9,228.5 L316.3,243.5 L317.7,227 L319.4,244.5 L321.1,225.5 L323,245.5 L324.9,223.9 C325.9,228.9 326.7,233.9 327.4,245.6 C328.2,251.6 329.4,253.1 331.9,253.6 L338.9,253.9 L339.1,253.6 L339.5,222.4 L340.2,223.4 L340.7,234.5 L343.4,236.5 L344.9,227.3 L346.5,243.5 L348.0,226.0 L349.6,245 L351.1,225.5 C351.8,232 352.6,239 353.4,244.2" stroke="#a8153c" stroke-width="1.3" fill="none" stroke-linejoin="round"/>
<path d="M375.5,255 L377.9,254.2 L377.9,254.2 L378.3,223.1 L379,224.1 L379.2,235.1 L380.8,235.9 L382.8,239.1 L384.1,231.4 L385.5,242.1 C386.1,248.2 386.8,251.2 388.3,252.2 C390.3,253 393.3,253.7 398.3,254.2 L399.2,253.97 L399.9,254.2 L400.3,223.1 L401,224.1 L401.2,235.1 L402.8,235.9 L404.8,239.1 L406.1,231.4 L407.5,242.1 C408.1,248.2 408.8,251.2 410.3,252.2 C412.3,253 415.3,253.7 420.3,254.2 L421.2,254.1 L422.1,254.2 L422.5,223.1 L423.2,224.1 L423.4,235.1 L425,235.9 L427,239.1 L428.3,231.4 L429.7,242.1 C430.3,248.2 431,251.2 432.5,252.2 C434.5,253 437.5,253.7 442.5,254.2 L443.4,254.53 L444.1,254.2 L444.5,223.1 L445.2,224.1 L445.4,235.1 L447,235.9 L449,239.1 L450.3,231.4 L451.7,242.1 C452.3,248.2 453,251.2 454.5,252.2 C456.5,253 459.5,253.7 464.5,254.2 L465.4,253.82 L466.3,254.15 L467.2,254.24 L468.1,254.55 L469,254.49 L469.9,254.53 L470.8,254 L471.1,254 L471.5,224.4 L472.2,225.4 L472.4,235.2 L474,236 L476,239 L477.4,230.1 L478.7,242 C479.3,249 480,251.5 481.5,252.2 L485.5,253.4" stroke="#2b4a8a" stroke-width="1.3" fill="none" stroke-linejoin="round"/>
<text x="8.2" y="170.8" font-size="12.8" fill="#000" font-weight="bold" textLength="7.8" lengthAdjust="spacingAndGlyphs" >C</text>
<line x1="36.1" y1="178.4" x2="36.1" y2="300.8" stroke="#222" stroke-width="1.3" />
<line x1="33" y1="300.2" x2="36.1" y2="300.2" stroke="#222" stroke-width="1.2" />
<text x="29.6" y="302.6" font-size="7.7" fill="#222" stroke="#222" stroke-width="0.2" text-anchor="end" >0</text>
<line x1="33" y1="270.48" x2="36.1" y2="270.48" stroke="#222" stroke-width="1.2" />
<text x="29.6" y="272.88" font-size="7.7" fill="#222" stroke="#222" stroke-width="0.2" text-anchor="end" >10</text>
<line x1="33" y1="240.76" x2="36.1" y2="240.76" stroke="#222" stroke-width="1.2" />
<text x="29.6" y="243.16" font-size="7.7" fill="#222" stroke="#222" stroke-width="0.2" text-anchor="end" >20</text>
<line x1="33" y1="211.04" x2="36.1" y2="211.04" stroke="#222" stroke-width="1.2" />
<text x="29.6" y="213.44" font-size="7.7" fill="#222" stroke="#222" stroke-width="0.2" text-anchor="end" >30</text>
<line x1="33" y1="181.32" x2="36.1" y2="181.32" stroke="#222" stroke-width="1.2" />
<text x="29.6" y="183.72" font-size="7.7" fill="#222" stroke="#222" stroke-width="0.2" text-anchor="end" >40</text>
<text transform="translate(16.5,239.1) rotate(-90)" font-size="8.5" fill="#222" stroke="#222" stroke-width="0.2" text-anchor="middle" textLength="36" lengthAdjust="spacingAndGlyphs" ># VT events</text>
<line x1="35.5" y1="300.2" x2="95.4" y2="300.2" stroke="#222" stroke-width="1.4" />
<line x1="53.5" y1="300.2" x2="53.5" y2="303.4" stroke="#222" stroke-width="1" />
<line x1="79.7" y1="300.2" x2="79.7" y2="303.4" stroke="#222" stroke-width="1" />
<rect x="45.2" y="220.7" width="16.4" height="58.4" fill="#d48b80" stroke="none" stroke-width="1" />
<line x1="53.4" y1="187.5" x2="53.4" y2="220.7" stroke="#a8153c" stroke-width="1.1" />
<line x1="53.4" y1="279.1" x2="53.4" y2="300.2" stroke="#a8153c" stroke-width="1.1" />
<line x1="49.3" y1="187.5" x2="57.5" y2="187.5" stroke="#a8153c" stroke-width="1.1" />
<line x1="49.3" y1="300.2" x2="57.5" y2="300.2" stroke="#a8153c" stroke-width="1.1" />
<line x1="45.2" y1="258.8" x2="61.6" y2="258.8" stroke="#a8153c" stroke-width="1.43" />
<circle cx="53.4" cy="187.5" r="1.8" fill="#a8153c"/>
<circle cx="53.4" cy="252.5" r="1.8" fill="#a8153c"/>
<circle cx="50.5" cy="258.8" r="1.8" fill="#a8153c"/>
<circle cx="56.4" cy="258.8" r="1.8" fill="#a8153c"/>
<circle cx="53.4" cy="300.2" r="1.8" fill="#a8153c"/>
<rect x="70.85" y="292" width="16.1" height="8.2" fill="#8f9cc8" stroke="none" stroke-width="1" />
<line x1="78.9" y1="282.4" x2="78.9" y2="292" stroke="#2b4a8a" stroke-width="1.1" />
<line x1="78.9" y1="300.2" x2="78.9" y2="300.2" stroke="#2b4a8a" stroke-width="1.1" />
<line x1="74.9" y1="282.4" x2="82.9" y2="282.4" stroke="#2b4a8a" stroke-width="1.1" />
<line x1="74.9" y1="300.2" x2="82.9" y2="300.2" stroke="#2b4a8a" stroke-width="1.1" />
<line x1="70.85" y1="300.2" x2="86.95" y2="300.2" stroke="#2b4a8a" stroke-width="1.43" />
<circle cx="78.9" cy="282.4" r="1.7" fill="#2b4a8a"/>
<circle cx="71.9" cy="300.1" r="1.7" fill="#2b4a8a"/>
<circle cx="76.5" cy="300.1" r="1.7" fill="#2b4a8a"/>
<circle cx="81" cy="300.1" r="1.7" fill="#2b4a8a"/>
<circle cx="86.2" cy="300.1" r="1.7" fill="#2b4a8a"/>
<line x1="60.8" y1="184.6" x2="86" y2="184.6" stroke="#555" stroke-width="1.6" />
<text x="73.6" y="183.4" font-size="8" fill="#222" stroke="#222" stroke-width="0.2" text-anchor="middle" >*</text>
<text x="53.4" y="313.3" font-size="7.6" fill="#b4284c" stroke="#b4284c" stroke-width="0.2" text-anchor="middle" textLength="22.3" lengthAdjust="spacingAndGlyphs" >Vehicle</text>
<text x="79.6" y="313.3" font-size="7.6" fill="#4a64a0" stroke="#4a64a0" stroke-width="0.2" text-anchor="middle" textLength="24.7" lengthAdjust="spacingAndGlyphs" >IL-18bp</text>
<line x1="138" y1="185.2" x2="138" y2="300.8" stroke="#222" stroke-width="1.4" />
<line x1="134.6" y1="300.2" x2="138" y2="300.2" stroke="#222" stroke-width="1" />
<text x="131.6" y="302.9" font-size="7.9" fill="#222" stroke="#222" stroke-width="0.2" text-anchor="end" >0</text>
<line x1="134.6" y1="262.7" x2="138" y2="262.7" stroke="#222" stroke-width="1" />
<text x="131.6" y="265.4" font-size="7.9" fill="#222" stroke="#222" stroke-width="0.2" text-anchor="end" >2</text>
<line x1="134.6" y1="225.2" x2="138" y2="225.2" stroke="#222" stroke-width="1" />
<text x="131.6" y="227.9" font-size="7.9" fill="#222" stroke="#222" stroke-width="0.2" text-anchor="end" >4</text>
<line x1="134.6" y1="187.7" x2="138" y2="187.7" stroke="#222" stroke-width="1" />
<text x="131.6" y="190.4" font-size="7.9" fill="#222" stroke="#222" stroke-width="0.2" text-anchor="end" >6</text>
<text transform="translate(121.3,242.5) rotate(-90)" font-size="8.5" fill="#222" stroke="#222" stroke-width="0.2" text-anchor="middle" textLength="60.8" lengthAdjust="spacingAndGlyphs" ># VT duration (sec)</text>
<line x1="137.4" y1="300.2" x2="202.8" y2="300.2" stroke="#222" stroke-width="1.4" />
<line x1="156.5" y1="300.2" x2="156.5" y2="303.4" stroke="#222" stroke-width="1" />
<line x1="184.5" y1="300.2" x2="184.5" y2="303.4" stroke="#222" stroke-width="1" />
<line x1="137.1" y1="292" x2="202.8" y2="292" stroke="#333" stroke-width="0.9" stroke-dasharray="1.2,1.8"/>
<rect x="148.7" y="236.1" width="15.4" height="50.3" fill="#d48b80" stroke="none" stroke-width="1" />
<line x1="156.4" y1="202.6" x2="156.4" y2="236.1" stroke="#a8153c" stroke-width="1.1" />
<line x1="156.4" y1="286.4" x2="156.4" y2="292" stroke="#a8153c" stroke-width="1.1" />
<line x1="152.75" y1="202.6" x2="160.05" y2="202.6" stroke="#a8153c" stroke-width="1.1" />
<line x1="152.75" y1="292" x2="160.05" y2="292" stroke="#a8153c" stroke-width="1.1" />
<line x1="148.7" y1="280.8" x2="164.1" y2="280.8" stroke="#a8153c" stroke-width="1.43" />
<circle cx="156.5" cy="202.6" r="1.8" fill="#a8153c"/>
<circle cx="156.5" cy="267.6" r="1.8" fill="#a8153c"/>
<circle cx="153.5" cy="282" r="1.8" fill="#a8153c"/>
<circle cx="159.5" cy="281.2" r="1.8" fill="#a8153c"/>
<circle cx="156.5" cy="292" r="1.8" fill="#a8153c"/>
<rect x="176.3" y="287.3" width="16.2" height="4.7" fill="#8f9cc8" stroke="none" stroke-width="1" />
<line x1="184.4" y1="281.3" x2="184.4" y2="287.3" stroke="#2b4a8a" stroke-width="1.1" />
<line x1="184.4" y1="292" x2="184.4" y2="292" stroke="#2b4a8a" stroke-width="1.1" />
<line x1="180.35" y1="281.3" x2="188.45" y2="281.3" stroke="#2b4a8a" stroke-width="1.1" />
<line x1="180.35" y1="292" x2="188.45" y2="292" stroke="#2b4a8a" stroke-width="1.1" />
<line x1="176.3" y1="292" x2="192.5" y2="292" stroke="#2b4a8a" stroke-width="1.43" />
<circle cx="184.4" cy="281.3" r="1.7" fill="#2b4a8a"/>
<circle cx="176.3" cy="292" r="1.7" fill="#2b4a8a"/>
<circle cx="181.5" cy="292" r="1.7" fill="#2b4a8a"/>
<circle cx="186.8" cy="292" r="1.7" fill="#2b4a8a"/>
<circle cx="192.5" cy="292" r="1.7" fill="#2b4a8a"/>
<text x="155.8" y="313.4" font-size="7.6" fill="#b4284c" stroke="#b4284c" stroke-width="0.2" text-anchor="middle" textLength="22.2" lengthAdjust="spacingAndGlyphs" >Vehicle</text>
<text x="184.4" y="313.4" font-size="7.6" fill="#4a64a0" stroke="#4a64a0" stroke-width="0.2" text-anchor="middle" textLength="24.2" lengthAdjust="spacingAndGlyphs" >IL-18bp</text>
<text x="8.8" y="343" font-size="12.8" fill="#000" font-weight="bold" textLength="8.3" lengthAdjust="spacingAndGlyphs" >D</text>
<text x="26.7" y="357.8" font-size="9.4" fill="#222" stroke="#222" stroke-width="0.2" textLength="9.9" lengthAdjust="spacingAndGlyphs" >VT</text>
<text x="40.9" y="357.8" font-size="9.4" fill="#222" stroke="#222" stroke-width="0.2" textLength="22.4" lengthAdjust="spacingAndGlyphs" >origin</text>
<text x="67.7" y="357.8" font-size="9.4" fill="#222" stroke="#222" stroke-width="0.2" textLength="15.4" lengthAdjust="spacingAndGlyphs" >and</text>
<text x="86.6" y="357.8" font-size="9.4" fill="#222" stroke="#222" stroke-width="0.2" textLength="54.7" lengthAdjust="spacingAndGlyphs" >maintenance</text>
<text x="144.8" y="357.8" font-size="9.4" fill="#222" stroke="#222" stroke-width="0.2" textLength="6.4" lengthAdjust="spacingAndGlyphs" >in</text>
<text x="154.7" y="357.8" font-size="9.4" fill="#222" stroke="#222" stroke-width="0.2" textLength="18.6" lengthAdjust="spacingAndGlyphs" >SCD</text>
<text x="176.8" y="357.8" font-size="9.4" fill="#222" stroke="#222" stroke-width="0.2" textLength="30.8" lengthAdjust="spacingAndGlyphs" >(optical</text>
<text x="211.2" y="357.8" font-size="9.4" fill="#222" stroke="#222" stroke-width="0.2" textLength="39.5" lengthAdjust="spacingAndGlyphs" >mapping)</text>
<line x1="31.4" y1="370" x2="31.4" y2="437.6" stroke="#222" stroke-width="1.3" />
<line x1="30.8" y1="437" x2="128" y2="437" stroke="#222" stroke-width="1.3" />
<line x1="28.3" y1="381" x2="31.4" y2="381" stroke="#222" stroke-width="1" />
<text x="25.1" y="382.9" font-size="7.4" fill="#222" stroke="#222" stroke-width="0.2" text-anchor="end" textLength="17.3" lengthAdjust="spacingAndGlyphs" >Apex</text>
<line x1="28.3" y1="404.3" x2="31.4" y2="404.3" stroke="#222" stroke-width="1" />
<text x="24.4" y="406.2" font-size="7.4" fill="#222" stroke="#222" stroke-width="0.2" text-anchor="end" textLength="7.1" lengthAdjust="spacingAndGlyphs" >LV</text>
<line x1="28.3" y1="427" x2="31.4" y2="427" stroke="#222" stroke-width="1" />
<text x="24.4" y="429.5" font-size="7.4" fill="#222" stroke="#222" stroke-width="0.2" text-anchor="end" textLength="8.4" lengthAdjust="spacingAndGlyphs" >RV</text>
<line x1="31.4" y1="437" x2="31.4" y2="440.3" stroke="#222" stroke-width="1" />
<text x="31.4" y="450" font-size="7.6" fill="#222" stroke="#222" stroke-width="0.2" text-anchor="middle" >0</text>
<line x1="62.8" y1="437" x2="62.8" y2="440.3" stroke="#222" stroke-width="1" />
<text x="62.8" y="450" font-size="7.6" fill="#222" stroke="#222" stroke-width="0.2" text-anchor="middle" >5</text>
<line x1="94.2" y1="437" x2="94.2" y2="440.3" stroke="#222" stroke-width="1" />
<text x="94.2" y="450" font-size="7.6" fill="#222" stroke="#222" stroke-width="0.2" text-anchor="middle" >10</text>
<line x1="125.6" y1="437" x2="125.6" y2="440.3" stroke="#222" stroke-width="1" />
<text x="125.6" y="450" font-size="7.6" fill="#222" stroke="#222" stroke-width="0.2" text-anchor="middle" >15</text>
<text x="79.2" y="463.6" font-size="8.8" fill="#222" stroke="#222" stroke-width="0.2" text-anchor="middle" textLength="35.3" lengthAdjust="spacingAndGlyphs" ># VT events</text>
<rect x="32" y="374.2" width="36.1" height="5.2" fill="#a0002a" stroke="none" stroke-width="1" />
<rect x="32" y="420.2" width="86.4" height="5.4" fill="#a0002a" stroke="none" stroke-width="1" />
<rect x="32" y="429.2" width="11.6" height="4.9" fill="#2a4a8a" stroke="none" stroke-width="1" />
<line x1="170.6" y1="370" x2="170.6" y2="437.6" stroke="#222" stroke-width="1.3" />
<line x1="170" y1="437" x2="270.2" y2="437" stroke="#222" stroke-width="1.3" />
<line x1="167.5" y1="385.4" x2="170.6" y2="385.4" stroke="#222" stroke-width="1" />
<text x="163.8" y="387.6" font-size="7.4" fill="#222" stroke="#222" stroke-width="0.2" text-anchor="end" textLength="16.9" lengthAdjust="spacingAndGlyphs" >Focal</text>
<line x1="167.5" y1="421.4" x2="170.6" y2="421.4" stroke="#222" stroke-width="1" />
<text x="163.8" y="423.8" font-size="7.4" fill="#222" stroke="#222" stroke-width="0.2" text-anchor="end" textLength="24.5" lengthAdjust="spacingAndGlyphs" >Reentry</text>
<line x1="170.6" y1="437" x2="170.6" y2="440.3" stroke="#222" stroke-width="1" />
<text x="170.6" y="450.1" font-size="7.6" fill="#222" stroke="#222" stroke-width="0.2" text-anchor="middle" >0</text>
<line x1="194.6" y1="437" x2="194.6" y2="440.3" stroke="#222" stroke-width="1" />
<text x="194.6" y="450.1" font-size="7.6" fill="#222" stroke="#222" stroke-width="0.2" text-anchor="middle" >5</text>
<line x1="218.6" y1="437" x2="218.6" y2="440.3" stroke="#222" stroke-width="1" />
<text x="218.6" y="450.1" font-size="7.6" fill="#222" stroke="#222" stroke-width="0.2" text-anchor="middle" >10</text>
<line x1="242.8" y1="437" x2="242.8" y2="440.3" stroke="#222" stroke-width="1" />
<text x="242.8" y="450.1" font-size="7.6" fill="#222" stroke="#222" stroke-width="0.2" text-anchor="middle" >15</text>
<line x1="266.9" y1="437" x2="266.9" y2="440.3" stroke="#222" stroke-width="1" />
<text x="266.9" y="450.1" font-size="7.6" fill="#222" stroke="#222" stroke-width="0.2" text-anchor="middle" >20</text>
<text x="220.2" y="463.6" font-size="8.8" fill="#222" stroke="#222" stroke-width="0.2" text-anchor="middle" textLength="35.3" lengthAdjust="spacingAndGlyphs" ># VT events</text>
<rect x="171.2" y="374.6" width="23.4" height="7.7" fill="#a0002a" stroke="none" stroke-width="1" />
<rect x="171.2" y="388.5" width="3.8" height="7.7" fill="#2a4a8a" stroke="none" stroke-width="1" />
<rect x="171.2" y="410.6" width="71.4" height="8" fill="#a0002a" stroke="none" stroke-width="1" />
<rect x="171.2" y="424.8" width="3.8" height="7.7" fill="#2a4a8a" stroke="none" stroke-width="1" />
<rect x="233" y="375.2" width="10.8" height="4.7" fill="#a0002a" stroke="none" stroke-width="1" />
<rect x="233" y="386.3" width="10.8" height="4.7" fill="#2a4a8a" stroke="none" stroke-width="1" />
<text x="247.7" y="380.1" font-size="6.6" fill="#222" stroke="#222" stroke-width="0.2" textLength="18.3" lengthAdjust="spacingAndGlyphs" >Vehicle</text>
<text x="247.7" y="391.2" font-size="6.6" fill="#222" stroke="#222" stroke-width="0.2" textLength="20.2" lengthAdjust="spacingAndGlyphs" >IL-18bp</text>
<text x="288.4" y="342.9" font-size="12.8" fill="#000" font-weight="bold" textLength="6.6" lengthAdjust="spacingAndGlyphs" >E</text>
<text x="304.6" y="354.4" font-size="9.6" fill="#222" stroke="#222" stroke-width="0.2" textLength="10.8" lengthAdjust="spacingAndGlyphs" >VT</text>
<text x="319" y="354.4" font-size="9.6" fill="#222" stroke="#222" stroke-width="0.2" textLength="35.8" lengthAdjust="spacingAndGlyphs" >initiation</text>
<text x="358.7" y="354.4" font-size="9.6" fill="#222" stroke="#222" stroke-width="0.2" textLength="14.9" lengthAdjust="spacingAndGlyphs" >and</text>
<text x="377.9" y="354.4" font-size="9.6" fill="#222" stroke="#222" stroke-width="0.2" textLength="29.3" lengthAdjust="spacingAndGlyphs" >reentry</text>
<text x="410.6" y="354.4" font-size="9.6" fill="#222" stroke="#222" stroke-width="0.2" textLength="6.4" lengthAdjust="spacingAndGlyphs" >in</text>
<text x="420.2" y="354.4" font-size="9.6" fill="#222" stroke="#222" stroke-width="0.2" textLength="29.5" lengthAdjust="spacingAndGlyphs" >vehicle</text>
<text x="453.1" y="354.4" font-size="9.6" fill="#222" stroke="#222" stroke-width="0.2" textLength="18.5" lengthAdjust="spacingAndGlyphs" >SCD</text>
<text x="474.9" y="354.4" font-size="9.6" fill="#222" stroke="#222" stroke-width="0.2" textLength="19.9" lengthAdjust="spacingAndGlyphs" >mice</text>
<text x="333.4" y="373.1" font-size="8.2" fill="#222" stroke="#222" stroke-width="0.2" text-anchor="middle" textLength="21.6" lengthAdjust="spacingAndGlyphs" >530nm</text>
<text x="466.6" y="373.1" font-size="8.2" fill="#222" stroke="#222" stroke-width="0.2" text-anchor="middle" textLength="21.6" lengthAdjust="spacingAndGlyphs" >530nm</text>
<rect x="287.5" y="390.4" width="28.2" height="17" fill="#c8c8cc" stroke="#333" stroke-width="1" />
<text x="301" y="400.9" font-size="6.9" fill="#3a3a3a" stroke="#3a3a3a" stroke-width="0.2" text-anchor="middle" textLength="18.5" lengthAdjust="spacingAndGlyphs" >Cam1</text>
<rect x="483.5" y="390.4" width="28.4" height="17" fill="#c8c8cc" stroke="#333" stroke-width="1" />
<text x="497.7" y="400.9" font-size="6.9" fill="#3a3a3a" stroke="#3a3a3a" stroke-width="0.2" text-anchor="middle" textLength="19" lengthAdjust="spacingAndGlyphs" >Cam0</text>
<line x1="333.3" y1="375" x2="333.3" y2="395.3" stroke="#5aaa3a" stroke-width="1.3" />
<line x1="332.7" y1="395.3" x2="372" y2="395.3" stroke="#5aaa3a" stroke-width="1.3" />
<polygon points="379.4,395.3 369.5,390.6 372,395.3 369.5,400" fill="#5aaa3a"/>
<line x1="329" y1="401.7" x2="377.4" y2="401.7" stroke="#a8153c" stroke-width="1.6" />
<polygon points="319.6,401.7 330.5,397 327.5,401.7 330.5,406.4" fill="#a8153c"/>
<rect x="348.5" y="389.2" width="8.8" height="17.4" fill="#c6c6ca" stroke="none" stroke-width="1" />
<rect x="357" y="392.2" width="9.8" height="12.4" fill="#c6c6ca" stroke="none" stroke-width="1" />
<line x1="326.3" y1="392.1" x2="346.2" y2="407.5" stroke="#000" stroke-width="1.2" />
<line x1="466.6" y1="375" x2="466.6" y2="395.8" stroke="#5aaa3a" stroke-width="1.3" />
<line x1="467.2" y1="395.8" x2="428" y2="395.8" stroke="#5aaa3a" stroke-width="1.3" />
<polygon points="421.6,395.8 431.5,391.1 429,395.8 431.5,400.5" fill="#5aaa3a"/>
<line x1="421.7" y1="401.5" x2="471" y2="401.5" stroke="#a8153c" stroke-width="1.6" />
<polygon points="480.6,401.5 469.7,396.8 472.7,401.5 469.7,406.2" fill="#a8153c"/>
<rect x="442.3" y="389.2" width="9.6" height="17.5" fill="#c6c6ca" stroke="none" stroke-width="1" />
<rect x="433.3" y="392.3" width="9.2" height="12.3" fill="#c6c6ca" stroke="none" stroke-width="1" />
<line x1="454.4" y1="407.1" x2="473.7" y2="391.7" stroke="#000" stroke-width="1.2" />
<path d="M381.6,388.4 C381.2,392 381.4,396.5 383.6,400.8 C385.5,404.5 387.8,407.5 389.6,411.5 C391.3,414.8 394.5,417.6 398.5,418.3 C403,418.8 407.5,414.5 411,410.5 C414.5,406 416.6,400.5 417,395 C417.2,391 416.8,388 416.5,385" stroke="#111" stroke-width="1.35" fill="#fff" stroke-linejoin="round"/>
<path d="M388,377.2 L386.5,373.1 L392.2,371.2 L394.6,377.2" stroke="#111" stroke-width="1.35" fill="#fff" stroke-linejoin="round"/>
<path d="M381.3,388.4 C382,384 385,380 388.5,378.2 C392,376.8 396,377.3 398.5,379.8 C400,381.2 400.6,382.8 399.9,383.7 C397,384.9 392,386 388,386.9 C385.5,387.5 383.5,388 381.3,388.4 Z" stroke="#111" stroke-width="1.35" fill="#fff" stroke-linejoin="round"/>
<path d="M397.2,377.9 L404.2,370.2 Q405,369.3 405.9,370 L409.7,373.4 L400.8,381.2 Z" stroke="#111" stroke-width="1.35" fill="#fff" stroke-linejoin="round"/>
<path d="M403.3,371.3 L405.9,375.3" stroke="#111" stroke-width="1.1" fill="none"/>
<path d="M400.6,380.9 L411.2,373.4 L413.3,376.6 L401.7,382.8 Z" stroke="#111" stroke-width="1.35" fill="#fff" stroke-linejoin="round"/>
<circle cx="412.6" cy="375.1" r="2.1" stroke="#111" stroke-width="1.35" fill="#fff" stroke-linejoin="round"/>
<path d="M405.3,381.3 C407,380 409,379 411,378.8 C413.5,378.8 415.7,383 416.6,390.8 C413,389.6 410,388 407.8,385.8 C406.5,384.5 405.6,383 405.3,381.3 Z" stroke="#111" stroke-width="1.35" fill="#fff" stroke-linejoin="round"/>
<path d="M407.6,389.6 L392.8,413.6" stroke="#111" stroke-width="1.3" stroke-dasharray="1.1,1.1" fill="none"/>
<text x="392.3" y="397.7" font-size="7.6" fill="#333" text-anchor="middle" textLength="8.6" lengthAdjust="spacingAndGlyphs" >RV</text>
<text x="404.3" y="411.7" font-size="7.6" fill="#333" text-anchor="middle" textLength="6.9" lengthAdjust="spacingAndGlyphs" >LV</text>
<rect x="308.4" y="425.5" width="63.9" height="60.8" fill="#fff" stroke="#8a8a8a" stroke-width="0.9" />
<clipPath id="clipL"><path d="M320.2,430.1 L338.3,429.6 L366.9,442.6 L366.6,460 C366.3,467 364.5,473 361.7,477.8 L356.5,485.6 L340.9,485.8 C336.5,481.5 332.5,478.5 330.5,475.8 C326.5,470.5 323,463 321.2,458 C319.3,452 318.6,444 318.7,437 C318.8,434 319.3,431.5 320.2,430.1 Z"/></clipPath>
<g clip-path="url(#clipL)">
<path d="M320.2,430.1 L338.3,429.6 L366.9,442.6 L366.6,460 C366.3,467 364.5,473 361.7,477.8 L356.5,485.6 L340.9,485.8 C336.5,481.5 332.5,478.5 330.5,475.8 C326.5,470.5 323,463 321.2,458 C319.3,452 318.6,444 318.7,437 C318.8,434 319.3,431.5 320.2,430.1 Z" fill="#6fb04a"/>
<path d="M324.7,471.2L325.6,470.9L326.6,470.8L327.3,471.4L327.6,471.8L327.9,472.5L328.1,473.6L328.1,474.7L327.8,475.8L327.6,476.2L326.9,476.9L326.6,477.1L325.6,477.4L324.7,477.3L323.7,476.9L323.7,476.9L322.7,476.2L322.3,475.8L321.8,475.1L321.5,474.7L321.4,473.6L321.8,473.1L322.3,472.5L322.7,472.2L323.7,471.7L324.2,471.4ZM352.6,479.8L353.6,480.1L353.7,480.2L353.7,481.3L353.6,481.5L352.6,481.9L351.9,481.3L352.1,480.2Z" fill="#bd151a" stroke="#7c0d11" stroke-width="0.45"/>
<path d="M325.6,470.2L326.6,470.1L327.0,470.3L327.6,470.7L328.2,471.4L328.5,472.0L328.8,472.5L329.1,473.6L329.2,474.7L329.2,475.8L329.1,476.9L328.7,478.0L328.5,478.4L327.6,479.1L327.6,479.2L326.6,479.4L325.6,479.3L324.9,479.1L324.7,479.1L323.7,478.7L322.7,478.1L322.6,478.0L321.8,477.4L321.2,476.9L320.8,476.5L320.1,475.8L319.9,475.5L319.2,474.7L318.9,473.8L318.8,473.6L318.9,473.4L319.4,472.5L319.9,472.3L320.8,471.9L321.8,471.5L322.0,471.4L322.7,471.2L323.7,470.9L324.7,470.5L325.4,470.3ZM324.2,471.4L323.7,471.7L322.7,472.2L322.3,472.5L321.8,473.1L321.4,473.6L321.5,474.7L321.8,475.1L322.3,475.8L322.7,476.2L323.7,476.9L323.7,476.9L324.7,477.3L325.6,477.4L326.6,477.1L326.9,476.9L327.6,476.2L327.8,475.8L328.1,474.7L328.1,473.6L327.9,472.5L327.6,471.8L327.3,471.4L326.6,470.8L325.6,470.9L324.7,471.2ZM351.7,478.0L352.6,477.7L353.6,477.6L354.4,478.0L354.5,478.1L355.2,479.1L355.5,480.2L355.4,481.3L355.0,482.5L354.5,483.2L354.2,483.6L353.6,484.0L352.6,484.2L351.7,484.0L351.1,483.6L350.7,483.2L350.2,482.5L349.9,481.3L349.9,480.2L350.4,479.1L350.7,478.8L351.6,478.0ZM352.1,480.2L351.9,481.3L352.6,481.9L353.6,481.5L353.7,481.3L353.7,480.2L353.6,480.1L352.6,479.8Z" fill="#c61e1f" stroke="#821314" stroke-width="0.45"/>
<path d="M323.7,470.2L324.7,470.1L325.6,469.9L326.6,469.8L327.6,470.1L327.8,470.3L328.5,471.0L328.9,471.4L329.5,472.4L329.6,472.5L330.0,473.6L330.3,474.7L330.5,475.7L330.5,475.8L330.7,476.9L331.1,478.0L331.4,479.1L331.3,480.2L330.5,481.1L330.1,481.3L329.5,481.5L328.5,481.7L327.6,481.7L326.6,481.6L325.8,481.3L325.6,481.3L324.7,480.9L323.7,480.4L323.5,480.2L322.7,479.8L321.9,479.1L321.8,479.1L320.8,478.3L320.5,478.0L319.9,477.5L319.1,476.9L318.9,476.7L317.9,476.0L317.6,475.8L317.0,475.2L316.2,474.7L316.0,474.4L316.0,473.6L316.0,472.5L316.0,471.4L316.0,471.0L317.0,470.8L317.9,470.8L318.9,470.8L319.9,470.8L320.8,470.7L321.8,470.6L322.7,470.5L323.6,470.3ZM325.4,470.3L324.7,470.5L323.7,470.9L322.7,471.2L322.0,471.4L321.8,471.5L320.8,471.9L319.9,472.3L319.4,472.5L318.9,473.4L318.8,473.6L318.9,473.8L319.2,474.7L319.9,475.5L320.1,475.8L320.8,476.5L321.2,476.9L321.8,477.4L322.6,478.0L322.7,478.1L323.7,478.7L324.7,479.1L324.9,479.1L325.6,479.3L326.6,479.4L327.6,479.2L327.6,479.1L328.5,478.4L328.7,478.0L329.1,476.9L329.2,475.8L329.2,474.7L329.1,473.6L328.8,472.5L328.5,472.0L328.2,471.4L327.6,470.7L327.0,470.3L326.6,470.1L325.6,470.2ZM350.7,476.8L351.7,476.4L352.6,476.1L353.6,476.0L354.5,476.1L355.5,476.6L355.9,476.9L356.5,477.8L356.6,478.0L356.9,479.1L356.9,480.2L356.8,481.3L356.5,482.5L356.5,482.6L356.1,483.6L355.6,484.7L355.5,484.9L354.7,485.8L354.5,486.0L353.6,486.4L352.6,486.5L351.7,486.3L350.7,485.8L350.6,485.8L349.7,484.9L349.6,484.7L348.9,483.6L348.8,483.2L348.5,482.5L348.2,481.3L348.2,480.2L348.5,479.1L348.8,478.8L349.3,478.0L349.7,477.6L350.6,476.9ZM351.6,478.0L350.7,478.8L350.4,479.1L349.9,480.2L349.9,481.3L350.2,482.5L350.7,483.2L351.1,483.6L351.7,484.0L352.6,484.2L353.6,484.0L354.2,483.6L354.5,483.2L355.0,482.5L355.4,481.3L355.5,480.2L355.2,479.1L354.5,478.1L354.4,478.0L353.6,477.6L352.6,477.7L351.7,478.0Z" fill="#d53920" stroke="#8c2515" stroke-width="0.45"/>
<path d="M317.0,469.4L317.9,469.5L318.9,469.7L319.9,469.8L320.8,469.9L321.8,469.9L322.7,469.9L323.7,469.8L324.7,469.7L325.6,469.5L326.6,469.4L327.6,469.7L328.5,470.3L328.5,470.3L329.5,471.3L329.6,471.4L330.4,472.5L330.5,472.6L331.0,473.6L331.4,474.6L331.5,474.7L332.0,475.8L332.4,476.4L332.8,476.9L333.3,477.6L333.7,478.0L334.3,479.1L334.3,479.1L334.7,480.2L334.9,481.3L334.4,482.5L334.3,482.6L333.3,483.3L332.9,483.6L332.4,483.8L331.4,484.1L330.5,484.2L329.5,484.3L328.5,484.2L327.6,484.1L326.6,483.8L326.0,483.6L325.6,483.4L324.7,482.9L323.9,482.5L323.7,482.3L322.7,481.6L322.4,481.3L321.8,480.8L321.2,480.2L320.8,479.9L319.9,479.1L319.9,479.1L318.9,478.3L318.4,478.0L317.9,477.7L317.0,477.2L316.3,476.9L316.0,476.8L316.0,475.8L316.0,474.7L316.0,474.4L316.2,474.7L317.0,475.2L317.6,475.8L317.9,476.0L318.9,476.7L319.1,476.9L319.9,477.5L320.5,478.0L320.8,478.3L321.8,479.1L321.9,479.1L322.7,479.8L323.5,480.2L323.7,480.4L324.7,480.9L325.6,481.3L325.8,481.3L326.6,481.6L327.6,481.7L328.5,481.7L329.5,481.5L330.1,481.3L330.5,481.1L331.3,480.2L331.4,479.1L331.1,478.0L330.7,476.9L330.5,475.8L330.5,475.7L330.3,474.7L330.0,473.6L329.6,472.5L329.5,472.4L328.9,471.4L328.5,471.0L327.8,470.3L327.6,470.1L326.6,469.8L325.6,469.9L324.7,470.1L323.7,470.2L323.6,470.3L322.7,470.5L321.8,470.6L320.8,470.7L319.9,470.8L318.9,470.8L317.9,470.8L317.0,470.8L316.0,471.0L316.0,470.3L316.0,469.3ZM353.6,474.5L354.5,474.5L355.5,474.6L355.7,474.7L356.5,475.0L357.4,475.7L357.5,475.8L358.1,476.9L358.4,478.0L358.4,478.5L358.5,479.1L358.5,480.2L358.4,480.9L358.3,481.3L358.1,482.5L357.9,483.6L357.8,484.7L357.7,485.8L357.4,486.7L357.4,486.9L356.9,488.0L356.5,488.0L355.5,488.0L354.5,488.0L353.6,488.0L352.6,488.0L351.7,488.0L350.7,488.0L349.7,488.0L349.7,488.0L348.8,487.0L348.7,486.9L347.9,485.8L347.8,485.5L347.4,484.7L346.9,483.6L346.8,483.5L346.4,482.5L346.1,481.3L346.0,480.2L346.3,479.1L346.8,478.4L347.1,478.0L347.8,477.4L348.2,476.9L348.8,476.5L349.7,475.9L349.9,475.8L350.7,475.4L351.7,475.0L352.6,474.7L352.8,474.7ZM350.6,476.9L349.7,477.6L349.3,478.0L348.8,478.8L348.5,479.1L348.2,480.2L348.2,481.3L348.5,482.5L348.8,483.2L348.9,483.6L349.6,484.7L349.7,484.9L350.6,485.8L350.7,485.8L351.7,486.3L352.6,486.5L353.6,486.4L354.5,486.0L354.7,485.8L355.5,484.9L355.6,484.7L356.1,483.6L356.5,482.6L356.5,482.5L356.8,481.3L356.9,480.2L356.9,479.1L356.6,478.0L356.5,477.8L355.9,476.9L355.5,476.6L354.5,476.1L353.6,476.0L352.6,476.1L351.7,476.4L350.7,476.8ZM369.0,486.8L369.0,486.9L369.0,488.0L368.2,488.0L368.9,486.9Z" fill="#e36020" stroke="#953f15" stroke-width="0.45"/>
<path d="M317.0,468.3L317.9,468.6L318.9,468.8L319.9,469.0L320.6,469.1L320.8,469.2L321.8,469.3L322.7,469.4L323.7,469.4L324.7,469.3L325.6,469.2L325.8,469.1L326.6,469.1L327.0,469.1L327.6,469.3L328.5,469.8L329.1,470.3L329.5,470.6L330.3,471.4L330.5,471.5L331.3,472.5L331.4,472.7L332.1,473.6L332.4,474.0L333.0,474.7L333.3,475.2L333.9,475.8L334.3,476.2L334.9,476.9L335.3,477.4L335.7,478.0L336.2,479.1L336.2,479.1L336.7,480.2L336.9,481.3L336.7,482.5L336.2,483.4L336.1,483.6L335.3,484.6L335.2,484.7L334.3,485.3L333.5,485.8L333.3,485.9L332.4,486.3L331.4,486.6L330.5,486.7L329.5,486.7L328.5,486.6L327.6,486.4L326.6,486.1L325.8,485.8L325.6,485.7L324.7,485.2L323.9,484.7L323.7,484.6L322.7,483.8L322.5,483.6L321.8,482.9L321.3,482.5L320.8,482.0L320.3,481.3L319.9,480.9L319.2,480.2L318.9,480.0L317.9,479.3L317.6,479.1L317.0,478.9L316.0,478.5L316.0,478.0L316.0,476.9L316.0,476.8L316.3,476.9L317.0,477.2L317.9,477.7L318.4,478.0L318.9,478.3L319.9,479.1L319.9,479.1L320.8,479.9L321.2,480.2L321.8,480.8L322.4,481.3L322.7,481.6L323.7,482.3L323.9,482.5L324.7,482.9L325.6,483.4L326.0,483.6L326.6,483.8L327.6,484.1L328.5,484.2L329.5,484.3L330.5,484.2L331.4,484.1L332.4,483.8L332.9,483.6L333.3,483.3L334.3,482.6L334.4,482.5L334.9,481.3L334.7,480.2L334.3,479.1L334.3,479.1L333.7,478.0L333.3,477.6L332.8,476.9L332.4,476.4L332.0,475.8L331.5,474.7L331.4,474.6L331.0,473.6L330.5,472.6L330.4,472.5L329.6,471.4L329.5,471.3L328.5,470.3L328.5,470.3L327.6,469.7L326.6,469.4L325.6,469.5L324.7,469.7L323.7,469.8L322.7,469.9L321.8,469.9L320.8,469.9L319.9,469.8L318.9,469.7L317.9,469.5L317.0,469.4L316.0,469.3L316.0,469.1L316.0,468.2ZM352.6,473.5L353.6,473.2L354.5,473.1L355.5,473.1L356.5,473.1L357.4,473.2L358.4,473.3L359.4,473.4L360.3,473.5L360.7,473.6L361.3,473.9L362.3,474.4L363.2,474.7L363.2,474.7L363.2,474.7L363.1,475.8L362.3,476.5L362.1,476.9L361.5,478.0L361.5,479.1L361.7,480.2L362.0,481.3L362.3,481.9L363.2,482.0L364.2,481.3L364.2,481.3L364.8,480.2L365.1,479.4L365.2,479.1L365.3,478.0L365.2,476.9L365.1,476.7L364.6,475.8L365.1,474.7L365.1,474.7L366.1,474.5L367.1,474.3L368.0,474.0L369.0,473.8L369.0,474.7L369.0,475.8L369.0,476.9L369.0,478.0L369.0,479.1L369.0,480.2L369.0,481.3L369.0,482.5L369.0,483.6L369.0,484.7L369.0,485.8L369.0,486.8L368.9,486.9L368.2,488.0L368.0,488.0L367.1,488.0L366.1,488.0L365.1,488.0L364.2,488.0L363.2,488.0L362.3,488.0L361.3,488.0L360.3,488.0L359.4,488.0L358.4,488.0L357.4,488.0L356.9,488.0L357.4,486.9L357.4,486.7L357.7,485.8L357.8,484.7L357.9,483.6L358.1,482.5L358.3,481.3L358.4,480.9L358.5,480.2L358.5,479.1L358.4,478.5L358.4,478.0L358.1,476.9L357.5,475.8L357.4,475.7L356.5,475.0L355.7,474.7L355.5,474.6L354.5,474.5L353.6,474.5L352.8,474.7L352.6,474.7L351.7,475.0L350.7,475.4L349.9,475.8L349.7,475.9L348.8,476.5L348.2,476.9L347.8,477.4L347.1,478.0L346.8,478.4L346.3,479.1L346.0,480.2L346.1,481.3L346.4,482.5L346.8,483.5L346.9,483.6L347.4,484.7L347.8,485.5L347.9,485.8L348.7,486.9L348.8,487.0L349.7,488.0L348.8,488.0L347.8,488.0L346.8,488.0L346.7,488.0L346.1,486.9L345.9,486.5L345.6,485.8L345.0,484.7L344.9,484.4L344.5,483.6L344.1,482.5L343.9,482.1L343.7,481.3L343.2,480.2L343.0,479.7L342.7,479.1L342.7,478.0L343.0,477.8L343.9,477.2L344.5,476.9L344.9,476.8L345.9,476.4L346.8,475.9L347.1,475.8L347.8,475.5L348.8,475.0L349.4,474.7L349.7,474.5L350.7,474.1L351.7,473.8L352.2,473.6Z" fill="#f19520" stroke="#9f6215" stroke-width="0.45"/>
<path d="M368.0,436.6L369.0,436.3L369.0,437.0L369.0,438.1L369.0,439.2L369.0,440.3L369.0,441.4L369.0,442.5L369.0,443.6L369.0,444.7L369.0,445.9L369.0,447.0L369.0,448.1L369.0,449.2L369.0,450.3L369.0,450.5L368.5,450.3L368.0,450.1L367.1,449.8L366.1,449.5L365.6,449.2L365.1,448.9L364.4,448.1L364.2,447.8L363.8,447.0L363.3,445.9L363.2,445.6L362.9,444.7L362.6,443.6L362.4,442.5L362.5,441.4L362.9,440.3L363.2,439.9L363.8,439.2L364.2,438.8L365.0,438.1L365.1,438.0L366.1,437.4L367.1,437.0L367.1,437.0ZM369.0,466.9L369.0,466.9L369.0,468.0L369.0,469.1L369.0,470.3L369.0,471.4L369.0,472.5L369.0,473.6L369.0,473.8L368.0,474.0L367.1,474.3L366.1,474.5L365.1,474.7L365.1,474.7L364.6,475.8L365.1,476.7L365.2,476.9L365.3,478.0L365.2,479.1L365.1,479.4L364.8,480.2L364.2,481.3L364.2,481.3L363.2,482.0L362.3,481.9L362.0,481.3L361.7,480.2L361.5,479.1L361.5,478.0L362.1,476.9L362.3,476.5L363.1,475.8L363.2,474.7L363.2,474.7L363.2,474.7L362.3,474.4L361.3,473.9L360.7,473.6L360.3,473.5L359.4,473.4L358.4,473.3L357.4,473.2L356.5,473.1L355.5,473.1L354.5,473.1L353.6,473.2L352.6,473.5L352.2,473.6L351.7,473.8L350.7,474.1L349.7,474.5L349.4,474.7L348.8,475.0L347.8,475.5L347.1,475.8L346.8,475.9L345.9,476.4L344.9,476.8L344.5,476.9L343.9,477.2L343.0,477.8L342.7,478.0L342.7,479.1L343.0,479.7L343.2,480.2L343.7,481.3L343.9,482.1L344.1,482.5L344.5,483.6L344.9,484.4L345.0,484.7L345.6,485.8L345.9,486.5L346.1,486.9L346.7,488.0L345.9,488.0L344.9,488.0L343.9,488.0L343.8,488.0L343.5,486.9L343.1,485.8L343.0,485.2L342.8,484.7L342.5,483.6L342.0,482.5L342.0,482.4L341.2,481.3L341.1,481.1L340.1,480.5L339.1,480.6L338.8,481.3L338.3,482.5L338.2,482.9L337.9,483.6L337.5,484.7L337.2,485.3L336.9,485.8L336.2,486.6L335.9,486.9L335.3,487.4L334.4,488.0L334.3,488.0L333.3,488.0L332.4,488.0L331.4,488.0L330.5,488.0L329.5,488.0L328.5,488.0L327.6,488.0L326.6,488.0L325.6,488.0L324.9,488.0L324.7,487.9L323.7,487.3L323.2,486.9L322.7,486.6L321.9,485.8L321.8,485.7L320.8,484.7L320.8,484.7L319.9,483.6L319.8,483.6L318.9,482.5L318.9,482.5L317.9,481.5L317.8,481.3L317.0,480.8L316.0,480.5L316.0,480.2L316.0,479.1L316.0,478.5L317.0,478.9L317.6,479.1L317.9,479.3L318.9,480.0L319.2,480.2L319.9,480.9L320.3,481.3L320.8,482.0L321.3,482.5L321.8,482.9L322.5,483.6L322.7,483.8L323.7,484.6L323.9,484.7L324.7,485.2L325.6,485.7L325.8,485.8L326.6,486.1L327.6,486.4L328.5,486.6L329.5,486.7L330.5,486.7L331.4,486.6L332.4,486.3L333.3,485.9L333.5,485.8L334.3,485.3L335.2,484.7L335.3,484.6L336.1,483.6L336.2,483.4L336.7,482.5L336.9,481.3L336.7,480.2L336.2,479.1L336.2,479.1L335.7,478.0L335.3,477.4L334.9,476.9L334.3,476.2L333.9,475.8L333.3,475.2L333.0,474.7L332.4,474.0L332.1,473.6L331.4,472.7L331.3,472.5L330.5,471.5L330.3,471.4L329.5,470.6L329.1,470.3L328.5,469.8L327.6,469.3L327.0,469.1L326.6,469.1L325.8,469.1L325.6,469.2L324.7,469.3L323.7,469.4L322.7,469.4L321.8,469.3L320.8,469.2L320.6,469.1L319.9,469.0L318.9,468.8L317.9,468.6L317.0,468.3L316.0,468.2L316.0,468.0L316.0,467.2L317.0,467.4L317.9,467.7L318.9,468.0L319.0,468.0L319.9,468.3L320.8,468.5L321.8,468.7L322.7,468.9L323.7,468.9L324.7,469.0L325.6,468.9L326.6,468.8L327.6,469.0L328.0,469.1L328.5,469.4L329.5,470.0L329.9,470.3L330.5,470.8L331.2,471.4L331.4,471.6L332.4,472.5L332.4,472.5L333.3,473.4L333.6,473.6L334.3,474.3L334.9,474.7L335.3,475.1L336.1,475.8L336.2,476.0L337.1,476.9L337.2,477.1L337.9,478.0L338.2,478.4L339.1,478.5L339.3,478.0L340.1,476.9L340.1,476.9L341.1,476.1L341.4,475.8L342.0,475.5L343.0,475.2L343.9,475.0L344.9,474.8L345.5,474.7L345.9,474.6L346.8,474.4L347.8,474.1L348.8,473.7L349.0,473.6L349.7,473.3L350.7,472.9L351.7,472.6L351.9,472.5L352.6,472.2L353.6,472.0L354.5,471.8L355.5,471.6L356.5,471.5L357.4,471.4L357.7,471.4L358.4,471.3L359.4,471.1L360.3,470.9L361.3,470.6L361.9,470.3L362.3,470.0L363.2,469.3L363.4,469.1L364.2,468.4L364.9,468.0L365.1,467.9L366.1,467.6L367.1,467.3L368.0,467.1L368.7,466.9Z" fill="#f4bb2b" stroke="#a17b1c" stroke-width="0.45"/>
<path d="M368.0,432.4L369.0,431.9L369.0,432.5L369.0,433.7L369.0,434.8L369.0,435.9L369.0,436.3L368.0,436.6L367.1,437.0L367.1,437.0L366.1,437.4L365.1,438.0L365.0,438.1L364.2,438.8L363.8,439.2L363.2,439.9L362.9,440.3L362.5,441.4L362.4,442.5L362.6,443.6L362.9,444.7L363.2,445.6L363.3,445.9L363.8,447.0L364.2,447.8L364.4,448.1L365.1,448.9L365.6,449.2L366.1,449.5L367.1,449.8L368.0,450.1L368.5,450.3L369.0,450.5L369.0,451.4L369.0,452.5L369.0,453.6L369.0,454.3L368.1,453.6L368.0,453.6L367.1,453.1L366.1,452.7L365.6,452.5L365.1,452.4L364.2,452.0L363.2,451.4L363.2,451.4L362.6,450.3L362.3,449.5L362.2,449.2L361.9,448.1L361.6,447.0L361.4,445.9L361.3,445.5L361.1,444.7L360.9,443.6L360.8,442.5L360.8,441.4L360.9,440.3L361.2,439.2L361.3,439.0L361.7,438.1L362.3,437.1L362.4,437.0L363.2,435.9L363.3,435.9L364.2,435.0L364.5,434.8L365.1,434.2L366.0,433.7L366.1,433.6L367.1,433.0L367.8,432.5ZM369.0,462.0L369.0,462.5L369.0,463.6L369.0,464.7L369.0,465.8L369.0,466.9L368.7,466.9L368.0,467.1L367.1,467.3L366.1,467.6L365.1,467.9L364.9,468.0L364.2,468.4L363.4,469.1L363.2,469.3L362.3,470.0L361.9,470.3L361.3,470.6L360.3,470.9L359.4,471.1L358.4,471.3L357.7,471.4L357.4,471.4L356.5,471.5L355.5,471.6L354.5,471.8L353.6,472.0L352.6,472.2L351.9,472.5L351.7,472.6L350.7,472.9L349.7,473.3L349.0,473.6L348.8,473.7L347.8,474.1L346.8,474.4L345.9,474.6L345.5,474.7L344.9,474.8L343.9,475.0L343.0,475.2L342.0,475.5L341.4,475.8L341.1,476.1L340.1,476.9L340.1,476.9L339.3,478.0L339.1,478.5L338.2,478.4L337.9,478.0L337.2,477.1L337.1,476.9L336.2,476.0L336.1,475.8L335.3,475.1L334.9,474.7L334.3,474.3L333.6,473.6L333.3,473.4L332.4,472.5L332.4,472.5L331.4,471.6L331.2,471.4L330.5,470.8L329.9,470.3L329.5,470.0L328.5,469.4L328.0,469.1L327.6,469.0L326.6,468.8L325.6,468.9L324.7,469.0L323.7,468.9L322.7,468.9L321.8,468.7L320.8,468.5L319.9,468.3L319.0,468.0L318.9,468.0L317.9,467.7L317.0,467.4L316.0,467.2L316.0,466.9L316.0,466.3L317.0,466.6L317.9,466.9L318.1,466.9L318.9,467.2L319.9,467.6L320.8,467.9L321.3,468.0L321.8,468.2L322.7,468.4L323.7,468.5L324.7,468.6L325.6,468.7L326.6,468.6L327.6,468.7L328.5,469.0L328.8,469.1L329.5,469.5L330.5,470.1L330.7,470.3L331.4,470.8L332.3,471.4L332.4,471.4L333.3,472.1L333.9,472.5L334.3,472.8L335.3,473.4L335.7,473.6L336.2,473.9L337.2,474.3L338.2,474.5L339.1,474.5L340.1,474.3L341.1,474.0L342.0,473.7L343.0,473.6L343.0,473.6L343.9,473.5L344.9,473.4L345.9,473.2L346.8,473.1L347.8,472.8L348.8,472.5L348.8,472.5L349.7,472.1L350.7,471.8L351.7,471.4L351.7,471.4L352.6,471.0L353.6,470.7L354.5,470.5L355.4,470.3L355.5,470.2L356.5,470.0L357.4,469.7L358.4,469.5L359.4,469.3L359.7,469.1L360.3,468.8L361.3,468.0L361.3,468.0L362.0,466.9L362.3,466.6L362.9,465.8L363.2,465.4L364.2,464.7L364.2,464.7L365.1,464.2L366.1,463.7L366.4,463.6L367.1,463.3L368.0,462.7L368.4,462.5ZM317.0,480.8L317.8,481.3L317.9,481.5L318.9,482.5L318.9,482.5L319.8,483.6L319.9,483.6L320.8,484.7L320.8,484.7L321.8,485.7L321.9,485.8L322.7,486.6L323.2,486.9L323.7,487.3L324.7,487.9L324.9,488.0L324.7,488.0L323.7,488.0L322.7,488.0L321.8,488.0L320.8,488.0L320.4,488.0L319.9,487.4L319.4,486.9L318.9,486.4L318.3,485.8L317.9,485.3L317.3,484.7L317.0,484.4L316.0,483.7L316.0,483.6L316.0,482.5L316.0,481.3L316.0,480.5ZM339.1,480.6L340.1,480.5L341.1,481.1L341.2,481.3L342.0,482.4L342.0,482.5L342.5,483.6L342.8,484.7L343.0,485.2L343.1,485.8L343.5,486.9L343.8,488.0L343.0,488.0L342.0,488.0L341.1,488.0L340.1,488.0L339.1,488.0L338.2,488.0L337.2,488.0L336.2,488.0L335.3,488.0L334.4,488.0L335.3,487.4L335.9,486.9L336.2,486.6L336.9,485.8L337.2,485.3L337.5,484.7L337.9,483.6L338.2,482.9L338.3,482.5L338.8,481.3Z" fill="#ecd040" stroke="#9b892a" stroke-width="0.45"/>
<path d="M368.0,429.1L369.0,428.5L369.0,429.2L369.0,430.3L369.0,431.4L369.0,431.9L368.0,432.4L367.8,432.5L367.1,433.0L366.1,433.6L366.0,433.7L365.1,434.2L364.5,434.8L364.2,435.0L363.3,435.9L363.2,435.9L362.4,437.0L362.3,437.1L361.7,438.1L361.3,439.0L361.2,439.2L360.9,440.3L360.8,441.4L360.8,442.5L360.9,443.6L361.1,444.7L361.3,445.5L361.4,445.9L361.6,447.0L361.9,448.1L362.2,449.2L362.3,449.5L362.6,450.3L363.2,451.4L363.2,451.4L364.2,452.0L365.1,452.4L365.6,452.5L366.1,452.7L367.1,453.1L368.0,453.6L368.1,453.6L369.0,454.3L369.0,454.7L369.0,455.8L369.0,456.9L369.0,458.1L369.0,459.2L369.0,460.3L369.0,461.4L369.0,462.0L368.4,462.5L368.0,462.7L367.1,463.3L366.4,463.6L366.1,463.7L365.1,464.2L364.2,464.7L364.2,464.7L363.2,465.4L362.9,465.8L362.3,466.6L362.0,466.9L361.3,468.0L361.3,468.0L360.3,468.8L359.7,469.1L359.4,469.3L358.4,469.5L357.4,469.7L356.5,470.0L355.5,470.2L355.4,470.3L354.5,470.5L353.6,470.7L352.6,471.0L351.7,471.4L351.7,471.4L350.7,471.8L349.7,472.1L348.8,472.5L348.8,472.5L347.8,472.8L346.8,473.1L345.9,473.2L344.9,473.4L343.9,473.5L343.0,473.6L343.0,473.6L342.0,473.7L341.1,474.0L340.1,474.3L339.1,474.5L338.2,474.5L337.2,474.3L336.2,473.9L335.7,473.6L335.3,473.4L334.3,472.8L333.9,472.5L333.3,472.1L332.4,471.4L332.3,471.4L331.4,470.8L330.7,470.3L330.5,470.1L329.5,469.5L328.8,469.1L328.5,469.0L327.6,468.7L326.6,468.6L325.6,468.7L324.7,468.6L323.7,468.5L322.7,468.4L321.8,468.2L321.3,468.0L320.8,467.9L319.9,467.6L318.9,467.2L318.1,466.9L317.9,466.9L317.0,466.6L316.0,466.3L316.0,465.8L316.0,465.5L317.0,465.7L317.2,465.8L317.9,466.1L318.9,466.5L319.9,466.9L320.0,466.9L320.8,467.2L321.8,467.6L322.7,467.9L323.2,468.0L323.7,468.2L324.7,468.3L325.6,468.4L326.6,468.4L327.6,468.4L328.5,468.6L329.5,469.1L329.7,469.1L330.5,469.6L331.4,470.1L331.9,470.3L332.4,470.6L333.3,471.1L334.0,471.4L334.3,471.6L335.3,472.0L336.2,472.4L336.7,472.5L337.2,472.6L338.2,472.8L339.1,472.8L340.1,472.6L341.1,472.5L341.1,472.5L342.0,472.3L343.0,472.3L343.9,472.2L344.9,472.1L345.9,472.0L346.8,471.8L347.8,471.6L348.5,471.4L348.8,471.3L349.7,470.9L350.7,470.6L351.5,470.3L351.7,470.2L352.6,469.8L353.6,469.4L354.3,469.1L354.5,469.1L355.5,468.7L356.5,468.3L357.0,468.0L357.4,467.8L358.4,467.2L358.8,466.9L359.4,466.1L359.5,465.8L359.9,464.7L360.3,463.6L360.3,463.6L361.3,462.5L361.3,462.5L362.3,461.9L363.1,461.4L363.2,461.3L364.2,460.7L364.9,460.3L365.1,460.1L366.1,459.2L366.2,459.2L366.7,458.1L366.6,456.9L366.1,456.3L365.6,455.8L365.1,455.6L364.2,455.1L363.7,454.7L363.2,454.5L362.3,453.7L362.2,453.6L361.3,452.5L361.3,452.5L360.9,451.4L360.6,450.3L360.4,449.2L360.3,448.7L360.2,448.1L360.1,447.0L359.9,445.9L359.8,444.7L359.7,443.6L359.6,442.5L359.5,441.4L359.5,440.3L359.5,439.2L359.6,438.1L359.9,437.0L360.3,436.1L360.4,435.9L361.1,434.8L361.3,434.5L362.0,433.7L362.3,433.4L363.1,432.5L363.2,432.5L364.2,431.7L364.5,431.4L365.1,431.0L366.1,430.3L366.1,430.3L367.1,429.7L367.8,429.2ZM317.0,484.4L317.3,484.7L317.9,485.3L318.3,485.8L318.9,486.4L319.4,486.9L319.9,487.4L320.4,488.0L319.9,488.0L318.9,488.0L317.9,488.0L317.0,488.0L316.0,488.0L316.0,486.9L316.0,485.8L316.0,484.7L316.0,483.7Z" fill="#f2dc34" stroke="#9f9122" stroke-width="0.45"/>
<path d="M366.1,427.6L366.9,427.0L367.1,427.0L368.0,427.0L369.0,427.0L369.0,428.1L369.0,428.5L368.0,429.1L367.8,429.2L367.1,429.7L366.1,430.3L366.1,430.3L365.1,431.0L364.5,431.4L364.2,431.7L363.2,432.5L363.1,432.5L362.3,433.4L362.0,433.7L361.3,434.5L361.1,434.8L360.4,435.9L360.3,436.1L359.9,437.0L359.6,438.1L359.5,439.2L359.5,440.3L359.5,441.4L359.6,442.5L359.7,443.6L359.8,444.7L359.9,445.9L360.1,447.0L360.2,448.1L360.3,448.7L360.4,449.2L360.6,450.3L360.9,451.4L361.3,452.5L361.3,452.5L362.2,453.6L362.3,453.7L363.2,454.5L363.7,454.7L364.2,455.1L365.1,455.6L365.6,455.8L366.1,456.3L366.6,456.9L366.7,458.1L366.2,459.2L366.1,459.2L365.1,460.1L364.9,460.3L364.2,460.7L363.2,461.3L363.1,461.4L362.3,461.9L361.3,462.5L361.3,462.5L360.3,463.6L360.3,463.6L359.9,464.7L359.5,465.8L359.4,466.1L358.8,466.9L358.4,467.2L357.4,467.8L357.0,468.0L356.5,468.3L355.5,468.7L354.5,469.1L354.3,469.1L353.6,469.4L352.6,469.8L351.7,470.2L351.5,470.3L350.7,470.6L349.7,470.9L348.8,471.3L348.5,471.4L347.8,471.6L346.8,471.8L345.9,472.0L344.9,472.1L343.9,472.2L343.0,472.3L342.0,472.3L341.1,472.5L341.1,472.5L340.1,472.6L339.1,472.8L338.2,472.8L337.2,472.6L336.7,472.5L336.2,472.4L335.3,472.0L334.3,471.6L334.0,471.4L333.3,471.1L332.4,470.6L331.9,470.3L331.4,470.1L330.5,469.6L329.7,469.1L329.5,469.1L328.5,468.6L327.6,468.4L326.6,468.4L325.6,468.4L324.7,468.3L323.7,468.2L323.2,468.0L322.7,467.9L321.8,467.6L320.8,467.2L320.0,466.9L319.9,466.9L318.9,466.5L317.9,466.1L317.2,465.8L317.0,465.7L316.0,465.5L316.0,464.7L316.0,464.6L316.4,464.7L317.0,464.9L317.9,465.3L318.9,465.7L319.2,465.8L319.9,466.1L320.8,466.6L321.6,466.9L321.8,467.0L322.7,467.4L323.7,467.7L324.7,468.0L324.9,468.0L325.6,468.1L326.6,468.1L327.6,468.1L328.5,468.3L329.5,468.6L330.5,469.0L330.8,469.1L331.4,469.4L332.4,469.8L333.3,470.1L333.7,470.3L334.3,470.5L335.3,470.8L336.2,471.1L337.2,471.2L338.2,471.3L339.1,471.3L340.1,471.3L341.1,471.2L342.0,471.1L343.0,471.1L343.9,471.0L344.9,470.9L345.9,470.8L346.8,470.6L347.8,470.4L348.3,470.3L348.8,470.1L349.7,469.7L350.7,469.3L351.1,469.1L351.7,468.9L352.6,468.4L353.4,468.0L353.6,467.9L354.5,467.3L355.2,466.9L355.5,466.6L356.4,465.8L356.5,465.7L357.2,464.7L357.4,464.2L357.7,463.6L358.3,462.5L358.4,462.3L359.1,461.4L359.4,460.9L359.9,460.3L360.3,459.7L360.8,459.2L361.3,458.1L361.3,458.1L361.4,456.9L361.3,456.6L361.1,455.8L360.6,454.7L360.3,454.2L360.1,453.6L359.7,452.5L359.4,451.4L359.4,451.2L359.2,450.3L359.0,449.2L358.8,448.1L358.7,447.0L358.6,445.9L358.5,444.7L358.5,443.6L358.4,442.5L358.4,442.1L358.3,441.4L358.1,440.3L357.8,439.2L357.5,438.1L357.5,437.0L357.7,435.9L358.2,434.8L358.4,434.6L359.0,433.7L359.4,433.3L360.0,432.5L360.3,432.2L361.1,431.4L361.3,431.3L362.3,430.5L362.4,430.3L363.2,429.7L363.8,429.2L364.2,429.0L365.1,428.3L365.4,428.1Z" fill="#ded438" stroke="#928b24" stroke-width="0.45"/>
<path d="M362.3,428.1L363.2,427.3L363.6,427.0L364.2,427.0L365.1,427.0L366.1,427.0L366.9,427.0L366.1,427.6L365.4,428.1L365.1,428.3L364.2,429.0L363.8,429.2L363.2,429.7L362.4,430.3L362.3,430.5L361.3,431.3L361.1,431.4L360.3,432.2L360.0,432.5L359.4,433.3L359.0,433.7L358.4,434.6L358.2,434.8L357.7,435.9L357.5,437.0L357.5,438.1L357.8,439.2L358.1,440.3L358.3,441.4L358.4,442.1L358.4,442.5L358.5,443.6L358.5,444.7L358.6,445.9L358.7,447.0L358.8,448.1L359.0,449.2L359.2,450.3L359.4,451.2L359.4,451.4L359.7,452.5L360.1,453.6L360.3,454.2L360.6,454.7L361.1,455.8L361.3,456.6L361.4,456.9L361.3,458.1L361.3,458.1L360.8,459.2L360.3,459.7L359.9,460.3L359.4,460.9L359.1,461.4L358.4,462.3L358.3,462.5L357.7,463.6L357.4,464.2L357.2,464.7L356.5,465.7L356.4,465.8L355.5,466.6L355.2,466.9L354.5,467.3L353.6,467.9L353.4,468.0L352.6,468.4L351.7,468.9L351.1,469.1L350.7,469.3L349.7,469.7L348.8,470.1L348.3,470.3L347.8,470.4L346.8,470.6L345.9,470.8L344.9,470.9L343.9,471.0L343.0,471.1L342.0,471.1L341.1,471.2L340.1,471.3L339.1,471.3L338.2,471.3L337.2,471.2L336.2,471.1L335.3,470.8L334.3,470.5L333.7,470.3L333.3,470.1L332.4,469.8L331.4,469.4L330.8,469.1L330.5,469.0L329.5,468.6L328.5,468.3L327.6,468.1L326.6,468.1L325.6,468.1L324.9,468.0L324.7,468.0L323.7,467.7L322.7,467.4L321.8,467.0L321.6,466.9L320.8,466.6L319.9,466.1L319.2,465.8L318.9,465.7L317.9,465.3L317.0,464.9L316.4,464.7L316.0,464.6L316.0,463.7L317.0,464.0L317.9,464.4L318.6,464.7L318.9,464.9L319.9,465.3L320.7,465.8L320.8,465.9L321.8,466.4L322.7,466.8L322.9,466.9L323.7,467.2L324.7,467.6L325.6,467.8L326.6,467.8L327.6,467.7L328.5,467.9L329.0,468.0L329.5,468.2L330.5,468.5L331.4,468.8L332.4,469.0L332.8,469.1L333.3,469.3L334.3,469.5L335.3,469.7L336.2,469.9L337.2,470.0L338.2,470.0L339.1,470.1L340.1,470.0L341.1,470.0L342.0,469.9L343.0,469.9L343.9,469.8L344.9,469.7L345.9,469.6L346.8,469.4L347.8,469.2L347.9,469.1L348.8,468.9L349.7,468.4L350.6,468.0L350.7,468.0L351.7,467.4L352.4,466.9L352.6,466.8L353.6,466.0L353.8,465.8L354.5,465.0L354.8,464.7L355.5,463.6L355.5,463.6L356.2,462.5L356.5,462.0L356.9,461.4L357.4,460.4L357.5,460.3L358.2,459.2L358.4,458.7L358.7,458.1L358.9,456.9L358.9,455.8L358.8,454.7L358.5,453.6L358.4,453.1L358.3,452.5L358.0,451.4L357.8,450.3L357.6,449.2L357.4,448.1L357.4,448.1L357.3,447.0L357.2,445.9L357.2,444.7L357.3,443.6L357.2,442.5L357.0,441.4L356.5,440.3L356.5,440.3L355.7,439.2L355.5,438.9L355.0,438.1L354.8,437.0L355.1,435.9L355.5,435.0L355.6,434.8L356.4,433.7L356.5,433.6L357.4,432.5L357.4,432.5L358.4,431.5L358.5,431.4L359.4,430.6L359.7,430.3L360.3,429.7L360.9,429.2L361.3,428.9L362.2,428.1Z" fill="#c2c640" stroke="#80822a" stroke-width="0.45"/>
<path d="M360.3,427.6L361.1,427.0L361.3,427.0L362.3,427.0L363.2,427.0L363.6,427.0L363.2,427.3L362.3,428.1L362.2,428.1L361.3,428.9L360.9,429.2L360.3,429.7L359.7,430.3L359.4,430.6L358.5,431.4L358.4,431.5L357.4,432.5L357.4,432.5L356.5,433.6L356.4,433.7L355.6,434.8L355.5,435.0L355.1,435.9L354.8,437.0L355.0,438.1L355.5,438.9L355.7,439.2L356.5,440.3L356.5,440.3L357.0,441.4L357.2,442.5L357.3,443.6L357.2,444.7L357.2,445.9L357.3,447.0L357.4,448.1L357.4,448.1L357.6,449.2L357.8,450.3L358.0,451.4L358.3,452.5L358.4,453.1L358.5,453.6L358.8,454.7L358.9,455.8L358.9,456.9L358.7,458.1L358.4,458.7L358.2,459.2L357.5,460.3L357.4,460.4L356.9,461.4L356.5,462.0L356.2,462.5L355.5,463.6L355.5,463.6L354.8,464.7L354.5,465.0L353.8,465.8L353.6,466.0L352.6,466.8L352.4,466.9L351.7,467.4L350.7,468.0L350.6,468.0L349.7,468.4L348.8,468.9L347.9,469.1L347.8,469.2L346.8,469.4L345.9,469.6L344.9,469.7L343.9,469.8L343.0,469.9L342.0,469.9L341.1,470.0L340.1,470.0L339.1,470.1L338.2,470.0L337.2,470.0L336.2,469.9L335.3,469.7L334.3,469.5L333.3,469.3L332.8,469.1L332.4,469.0L331.4,468.8L330.5,468.5L329.5,468.2L329.0,468.0L328.5,467.9L327.6,467.7L326.6,467.8L325.6,467.8L324.7,467.6L323.7,467.2L322.9,466.9L322.7,466.8L321.8,466.4L320.8,465.9L320.7,465.8L319.9,465.3L318.9,464.9L318.6,464.7L317.9,464.4L317.0,464.0L316.0,463.7L316.0,463.6L316.0,462.7L317.0,463.1L317.9,463.5L318.1,463.6L318.9,464.0L319.9,464.5L320.2,464.7L320.8,465.1L321.8,465.6L322.0,465.8L322.7,466.2L323.7,466.7L324.1,466.9L324.7,467.1L325.6,467.4L326.6,467.4L327.6,467.3L328.5,467.4L329.5,467.7L330.5,468.0L330.9,468.0L331.4,468.1L332.4,468.3L333.3,468.4L334.3,468.5L335.3,468.6L336.2,468.7L337.2,468.7L338.2,468.8L339.1,468.8L340.1,468.8L341.1,468.7L342.0,468.7L343.0,468.6L343.9,468.5L344.9,468.4L345.9,468.3L346.8,468.1L347.2,468.0L347.8,467.9L348.8,467.5L349.7,467.0L349.8,466.9L350.7,466.3L351.4,465.8L351.7,465.6L352.5,464.7L352.6,464.6L353.4,463.6L353.6,463.3L354.1,462.5L354.5,461.8L354.8,461.4L355.5,460.3L355.5,460.3L356.1,459.2L356.5,458.5L356.7,458.1L357.0,456.9L357.1,455.8L357.1,454.7L357.0,453.6L356.9,452.5L356.7,451.4L356.5,450.5L356.4,450.3L356.2,449.2L355.9,448.1L355.8,447.0L355.7,445.9L355.6,444.7L355.7,443.6L355.6,442.5L355.5,442.2L354.9,441.4L354.5,441.1L353.7,440.3L353.6,440.1L353.1,439.2L352.9,438.1L352.9,437.0L353.2,435.9L353.6,435.2L353.8,434.8L354.5,433.7L354.5,433.6L355.4,432.5L355.5,432.4L356.4,431.4L356.5,431.4L357.4,430.4L357.5,430.3L358.4,429.4L358.6,429.2L359.4,428.5L359.8,428.1Z" fill="#b1c040" stroke="#747e2a" stroke-width="0.45"/>
<path d="M358.4,427.6L359.0,427.0L359.4,427.0L360.3,427.0L361.1,427.0L360.3,427.6L359.8,428.1L359.4,428.5L358.6,429.2L358.4,429.4L357.5,430.3L357.4,430.4L356.5,431.4L356.4,431.4L355.5,432.4L355.4,432.5L354.5,433.6L354.5,433.7L353.8,434.8L353.6,435.2L353.2,435.9L352.9,437.0L352.9,438.1L353.1,439.2L353.6,440.1L353.7,440.3L354.5,441.1L354.9,441.4L355.5,442.2L355.6,442.5L355.7,443.6L355.6,444.7L355.7,445.9L355.8,447.0L355.9,448.1L356.2,449.2L356.4,450.3L356.5,450.5L356.7,451.4L356.9,452.5L357.0,453.6L357.1,454.7L357.1,455.8L357.0,456.9L356.7,458.1L356.5,458.5L356.1,459.2L355.5,460.3L355.5,460.3L354.8,461.4L354.5,461.8L354.1,462.5L353.6,463.3L353.4,463.6L352.6,464.6L352.5,464.7L351.7,465.6L351.4,465.8L350.7,466.3L349.8,466.9L349.7,467.0L348.8,467.5L347.8,467.9L347.2,468.0L346.8,468.1L345.9,468.3L344.9,468.4L343.9,468.5L343.0,468.6L342.0,468.7L341.1,468.7L340.1,468.8L339.1,468.8L338.2,468.8L337.2,468.7L336.2,468.7L335.3,468.6L334.3,468.5L333.3,468.4L332.4,468.3L331.4,468.1L330.9,468.0L330.5,468.0L329.5,467.7L328.5,467.4L327.6,467.3L326.6,467.4L325.6,467.4L324.7,467.1L324.1,466.9L323.7,466.7L322.7,466.2L322.0,465.8L321.8,465.6L320.8,465.1L320.2,464.7L319.9,464.5L318.9,464.0L318.1,463.6L317.9,463.5L317.0,463.1L316.0,462.7L316.0,462.5L316.0,461.8L317.0,462.2L317.7,462.5L317.9,462.6L318.9,463.1L319.8,463.6L319.9,463.6L320.8,464.2L321.6,464.7L321.8,464.8L322.7,465.5L323.2,465.8L323.7,466.1L324.7,466.6L325.4,466.9L325.6,467.0L326.6,467.0L327.6,467.0L328.5,467.0L329.5,467.1L330.5,467.3L331.4,467.3L332.4,467.4L333.3,467.4L334.3,467.4L335.3,467.4L336.2,467.4L337.2,467.4L338.2,467.4L339.1,467.4L340.1,467.4L341.1,467.3L342.0,467.3L343.0,467.2L343.9,467.1L344.9,467.0L345.3,466.9L345.9,466.8L346.8,466.6L347.8,466.3L348.8,465.8L348.8,465.8L349.7,465.2L350.3,464.7L350.7,464.3L351.3,463.6L351.7,463.1L352.1,462.5L352.6,461.7L352.8,461.4L353.5,460.3L353.6,460.1L354.1,459.2L354.5,458.3L354.7,458.1L355.1,456.9L355.3,455.8L355.4,454.7L355.4,453.6L355.3,452.5L355.1,451.4L354.8,450.3L354.6,449.2L354.5,449.1L354.3,448.1L354.1,447.0L353.8,445.9L353.6,444.9L353.6,444.7L353.2,443.6L352.6,442.5L352.6,442.5L352.2,441.4L351.9,440.3L351.7,439.2L351.7,438.5L351.6,438.1L351.7,437.4L351.7,437.0L352.0,435.9L352.5,434.8L352.6,434.6L353.2,433.7L353.6,433.0L353.9,432.5L354.5,431.7L354.8,431.4L355.5,430.6L355.8,430.3L356.5,429.5L356.8,429.2L357.4,428.5L357.9,428.1Z" fill="#92b840" stroke="#60792a" stroke-width="0.45"/>
<path d="M356.5,427.9L357.3,427.0L357.4,427.0L358.4,427.0L359.0,427.0L358.4,427.6L357.9,428.1L357.4,428.5L356.8,429.2L356.5,429.5L355.8,430.3L355.5,430.6L354.8,431.4L354.5,431.7L353.9,432.5L353.6,433.0L353.2,433.7L352.6,434.6L352.5,434.8L352.0,435.9L351.7,437.0L351.7,437.4L351.6,438.1L351.7,438.5L351.7,439.2L351.9,440.3L352.2,441.4L352.6,442.5L352.6,442.5L353.2,443.6L353.6,444.7L353.6,444.9L353.8,445.9L354.1,447.0L354.3,448.1L354.5,449.1L354.6,449.2L354.8,450.3L355.1,451.4L355.3,452.5L355.4,453.6L355.4,454.7L355.3,455.8L355.1,456.9L354.7,458.1L354.5,458.3L354.1,459.2L353.6,460.1L353.5,460.3L352.8,461.4L352.6,461.7L352.1,462.5L351.7,463.1L351.3,463.6L350.7,464.3L350.3,464.7L349.7,465.2L348.8,465.8L348.8,465.8L347.8,466.3L346.8,466.6L345.9,466.8L345.3,466.9L344.9,467.0L343.9,467.1L343.0,467.2L342.0,467.3L341.1,467.3L340.1,467.4L339.1,467.4L338.2,467.4L337.2,467.4L336.2,467.4L335.3,467.4L334.3,467.4L333.3,467.4L332.4,467.4L331.4,467.3L330.5,467.3L329.5,467.1L328.5,467.0L327.6,467.0L326.6,467.0L325.6,467.0L325.4,466.9L324.7,466.6L323.7,466.1L323.2,465.8L322.7,465.5L321.8,464.8L321.6,464.7L320.8,464.2L319.9,463.6L319.8,463.6L318.9,463.1L317.9,462.6L317.7,462.5L317.0,462.2L316.0,461.8L316.0,461.4L316.0,460.8L317.0,461.2L317.4,461.4L317.9,461.6L318.9,462.1L319.6,462.5L319.9,462.6L320.8,463.2L321.4,463.6L321.8,463.9L322.7,464.6L322.9,464.7L323.7,465.2L324.5,465.8L324.7,465.9L325.6,466.3L326.6,466.4L327.6,466.3L328.5,466.3L329.5,466.3L330.5,466.4L331.4,466.4L332.4,466.3L333.3,466.3L334.3,466.2L335.3,466.1L336.2,466.1L337.2,466.0L338.2,465.9L339.1,465.8L339.4,465.8L340.1,465.8L341.1,465.7L342.0,465.6L343.0,465.5L343.9,465.4L344.9,465.2L345.9,465.1L346.8,464.8L347.1,464.7L347.8,464.4L348.8,463.8L349.0,463.6L349.7,462.8L350.0,462.5L350.7,461.5L350.7,461.4L351.4,460.3L351.7,459.7L351.9,459.2L352.5,458.1L352.6,457.7L352.9,456.9L353.2,455.8L353.4,454.7L353.5,453.6L353.5,452.5L353.3,451.4L353.1,450.3L352.9,449.2L352.6,448.1L352.6,448.0L352.4,447.0L352.2,445.9L351.9,444.7L351.7,444.1L351.5,443.6L351.2,442.5L351.0,441.4L351.0,440.3L350.9,439.2L350.8,438.1L350.9,437.0L351.2,435.9L351.6,434.8L351.7,434.6L352.2,433.7L352.6,432.8L352.8,432.5L353.5,431.4L353.6,431.4L354.4,430.3L354.5,430.1L355.3,429.2L355.5,429.0L356.3,428.1Z" fill="#7ab247" stroke="#50752e" stroke-width="0.45"/>
<path d="M355.5,427.4L355.8,427.0L356.5,427.0L357.3,427.0L356.5,427.9L356.3,428.1L355.5,429.0L355.3,429.2L354.5,430.1L354.4,430.3L353.6,431.4L353.5,431.4L352.8,432.5L352.6,432.8L352.2,433.7L351.7,434.6L351.6,434.8L351.2,435.9L350.9,437.0L350.8,438.1L350.9,439.2L351.0,440.3L351.0,441.4L351.2,442.5L351.5,443.6L351.7,444.1L351.9,444.7L352.2,445.9L352.4,447.0L352.6,448.0L352.6,448.1L352.9,449.2L353.1,450.3L353.3,451.4L353.5,452.5L353.5,453.6L353.4,454.7L353.2,455.8L352.9,456.9L352.6,457.7L352.5,458.1L351.9,459.2L351.7,459.7L351.4,460.3L350.7,461.4L350.7,461.5L350.0,462.5L349.7,462.8L349.0,463.6L348.8,463.8L347.8,464.4L347.1,464.7L346.8,464.8L345.9,465.1L344.9,465.2L343.9,465.4L343.0,465.5L342.0,465.6L341.1,465.7L340.1,465.8L339.4,465.8L339.1,465.8L338.2,465.9L337.2,466.0L336.2,466.1L335.3,466.1L334.3,466.2L333.3,466.3L332.4,466.3L331.4,466.4L330.5,466.4L329.5,466.3L328.5,466.3L327.6,466.3L326.6,466.4L325.6,466.3L324.7,465.9L324.5,465.8L323.7,465.2L322.9,464.7L322.7,464.6L321.8,463.9L321.4,463.6L320.8,463.2L319.9,462.6L319.6,462.5L318.9,462.1L317.9,461.6L317.4,461.4L317.0,461.2L316.0,460.8L316.0,460.3L316.0,459.7L317.0,460.1L317.3,460.3L317.9,460.6L318.9,461.0L319.5,461.4L319.9,461.5L320.8,462.1L321.4,462.5L321.8,462.7L322.7,463.4L323.0,463.6L323.7,464.2L324.4,464.7L324.7,464.9L325.6,465.4L326.6,465.6L327.6,465.5L328.5,465.4L329.5,465.2L330.5,465.1L331.4,465.0L332.4,464.9L333.3,464.8L334.3,464.7L334.5,464.7L335.3,464.6L336.2,464.5L337.2,464.4L338.2,464.3L339.1,464.2L340.1,464.0L341.1,463.8L341.9,463.6L342.0,463.6L343.0,463.5L343.9,463.4L344.9,463.2L345.9,463.0L346.8,462.6L347.1,462.5L347.8,461.9L348.3,461.4L348.8,460.8L349.1,460.3L349.7,459.2L349.7,459.1L350.2,458.1L350.7,456.9L350.7,456.9L351.1,455.8L351.4,454.7L351.5,453.6L351.6,452.5L351.6,451.4L351.5,450.3L351.4,449.2L351.2,448.1L351.1,447.0L350.9,445.9L350.7,444.7L350.7,444.6L350.5,443.6L350.3,442.5L350.3,441.4L350.3,440.3L350.3,439.2L350.2,438.1L350.3,437.0L350.5,435.9L350.7,435.2L350.9,434.8L351.3,433.7L351.7,432.9L351.9,432.5L352.5,431.4L352.6,431.3L353.3,430.3L353.6,429.9L354.1,429.2L354.5,428.6L354.9,428.1Z" fill="#6fb04a" stroke="#497430" stroke-width="0.45"/>
<path d="M354.5,427.1L354.6,427.0L355.5,427.0L355.8,427.0L355.5,427.4L354.9,428.1L354.5,428.6L354.1,429.2L353.6,429.9L353.3,430.3L352.6,431.3L352.5,431.4L351.9,432.5L351.7,432.9L351.3,433.7L350.9,434.8L350.7,435.2L350.5,435.9L350.3,437.0L350.2,438.1L350.3,439.2L350.3,440.3L350.3,441.4L350.3,442.5L350.5,443.6L350.7,444.6L350.7,444.7L350.9,445.9L351.1,447.0L351.2,448.1L351.4,449.2L351.5,450.3L351.6,451.4L351.6,452.5L351.5,453.6L351.4,454.7L351.1,455.8L350.7,456.9L350.7,456.9L350.2,458.1L349.7,459.1L349.7,459.2L349.1,460.3L348.8,460.8L348.3,461.4L347.8,461.9L347.1,462.5L346.8,462.6L345.9,463.0L344.9,463.2L343.9,463.4L343.0,463.5L342.0,463.6L341.9,463.6L341.1,463.8L340.1,464.0L339.1,464.2L338.2,464.3L337.2,464.4L336.2,464.5L335.3,464.6L334.5,464.7L334.3,464.7L333.3,464.8L332.4,464.9L331.4,465.0L330.5,465.1L329.5,465.2L328.5,465.4L327.6,465.5L326.6,465.6L325.6,465.4L324.7,464.9L324.4,464.7L323.7,464.2L323.0,463.6L322.7,463.4L321.8,462.7L321.4,462.5L320.8,462.1L319.9,461.5L319.5,461.4L318.9,461.0L317.9,460.6L317.3,460.3L317.0,460.1L316.0,459.7L316.0,459.2L316.0,458.6L317.0,459.1L317.2,459.2L317.9,459.5L318.9,459.9L319.6,460.3L319.9,460.4L320.8,460.9L321.7,461.4L321.8,461.5L322.7,462.1L323.4,462.5L323.7,462.7L324.7,463.4L324.9,463.6L325.6,464.0L326.6,464.2L327.6,464.1L328.5,463.8L328.9,463.6L329.5,463.3L330.5,463.0L331.4,463.0L332.4,463.1L333.3,463.1L334.3,463.1L335.3,463.0L336.2,462.9L337.2,462.8L338.2,462.7L339.1,462.5L339.2,462.5L340.1,462.3L341.1,462.0L342.0,461.8L343.0,461.6L343.7,461.4L343.9,461.3L344.9,461.0L345.9,460.5L346.1,460.3L346.8,459.6L347.2,459.2L347.8,458.3L347.9,458.1L348.5,456.9L348.8,456.3L349.0,455.8L349.4,454.7L349.7,453.6L349.7,453.3L349.9,452.5L350.0,451.4L350.0,450.3L350.0,449.2L350.0,448.1L350.0,447.0L350.0,445.9L349.9,444.7L349.8,443.6L349.7,443.2L349.7,442.5L349.7,441.4L349.7,440.3L349.7,439.2L349.7,438.1L349.7,437.0L349.7,436.9L350.0,435.9L350.3,434.8L350.6,433.7L350.7,433.5L351.1,432.5L351.6,431.4L351.7,431.4L352.3,430.3L352.6,429.8L353.0,429.2L353.6,428.4L353.8,428.1Z" fill="#6eb04b" stroke="#487431" stroke-width="0.45"/>
<path d="M353.6,427.0L354.5,427.0L354.6,427.0L354.5,427.1L353.8,428.1L353.6,428.4L353.0,429.2L352.6,429.8L352.3,430.3L351.7,431.4L351.6,431.4L351.1,432.5L350.7,433.5L350.6,433.7L350.3,434.8L350.0,435.9L349.7,436.9L349.7,437.0L349.7,438.1L349.7,439.2L349.7,440.3L349.7,441.4L349.7,442.5L349.7,443.2L349.8,443.6L349.9,444.7L350.0,445.9L350.0,447.0L350.0,448.1L350.0,449.2L350.0,450.3L350.0,451.4L349.9,452.5L349.7,453.3L349.7,453.6L349.4,454.7L349.0,455.8L348.8,456.3L348.5,456.9L347.9,458.1L347.8,458.3L347.2,459.2L346.8,459.6L346.1,460.3L345.9,460.5L344.9,461.0L343.9,461.3L343.7,461.4L343.0,461.6L342.0,461.8L341.1,462.0L340.1,462.3L339.2,462.5L339.1,462.5L338.2,462.7L337.2,462.8L336.2,462.9L335.3,463.0L334.3,463.1L333.3,463.1L332.4,463.1L331.4,463.0L330.5,463.0L329.5,463.3L328.9,463.6L328.5,463.8L327.6,464.1L326.6,464.2L325.6,464.0L324.9,463.6L324.7,463.4L323.7,462.7L323.4,462.5L322.7,462.1L321.8,461.5L321.7,461.4L320.8,460.9L319.9,460.4L319.6,460.3L318.9,459.9L317.9,459.5L317.2,459.2L317.0,459.1L316.0,458.6L316.0,458.1L316.0,457.5L317.0,457.9L317.3,458.1L317.9,458.3L318.9,458.7L319.9,459.2L319.9,459.2L320.8,459.6L321.8,460.0L322.2,460.3L322.7,460.5L323.7,461.0L324.4,461.4L324.7,461.5L325.6,461.9L326.6,462.1L327.6,462.0L328.5,461.7L329.5,461.4L329.8,461.4L330.5,461.3L331.4,461.3L332.1,461.4L332.4,461.4L333.3,461.5L334.3,461.5L335.3,461.5L336.2,461.4L336.7,461.4L337.2,461.3L338.2,461.2L339.1,461.0L340.1,460.7L341.1,460.4L341.6,460.3L342.0,460.1L343.0,459.7L343.9,459.3L344.1,459.2L344.9,458.6L345.5,458.1L345.9,457.6L346.3,456.9L346.8,456.1L347.0,455.8L347.5,454.7L347.8,453.9L347.9,453.6L348.3,452.5L348.5,451.4L348.7,450.3L348.8,450.1L348.9,449.2L349.0,448.1L349.1,447.0L349.2,445.9L349.2,444.7L349.2,443.6L349.2,442.5L349.2,441.4L349.2,440.3L349.3,439.2L349.3,438.1L349.3,437.0L349.5,435.9L349.7,434.8L349.7,434.8L350.1,433.7L350.4,432.5L350.7,431.9L350.9,431.4L351.5,430.3L351.7,430.0L352.1,429.2L352.6,428.4L352.8,428.1L353.5,427.0Z" fill="#6cb04c" stroke="#477432" stroke-width="0.45"/>
<path d="M352.6,427.0L353.5,427.0L352.8,428.1L352.6,428.4L352.1,429.2L351.7,430.0L351.5,430.3L350.9,431.4L350.7,431.9L350.4,432.5L350.1,433.7L349.7,434.8L349.7,434.8L349.5,435.9L349.3,437.0L349.3,438.1L349.3,439.2L349.2,440.3L349.2,441.4L349.2,442.5L349.2,443.6L349.2,444.7L349.2,445.9L349.1,447.0L349.0,448.1L348.9,449.2L348.8,450.1L348.7,450.3L348.5,451.4L348.3,452.5L347.9,453.6L347.8,453.9L347.5,454.7L347.0,455.8L346.8,456.1L346.3,456.9L345.9,457.6L345.5,458.1L344.9,458.6L344.1,459.2L343.9,459.3L343.0,459.7L342.0,460.1L341.6,460.3L341.1,460.4L340.1,460.7L339.1,461.0L338.2,461.2L337.2,461.3L336.7,461.4L336.2,461.4L335.3,461.5L334.3,461.5L333.3,461.5L332.4,461.4L332.1,461.4L331.4,461.3L330.5,461.3L329.8,461.4L329.5,461.4L328.5,461.7L327.6,462.0L326.6,462.1L325.6,461.9L324.7,461.5L324.4,461.4L323.7,461.0L322.7,460.5L322.2,460.3L321.8,460.0L320.8,459.6L319.9,459.2L319.9,459.2L318.9,458.7L317.9,458.3L317.3,458.1L317.0,457.9L316.0,457.5L316.0,456.9L316.0,456.3L317.0,456.7L317.6,456.9L317.9,457.1L318.9,457.5L319.9,457.9L320.4,458.1L320.8,458.2L321.8,458.6L322.7,458.9L323.5,459.2L323.7,459.2L324.7,459.5L325.6,459.7L326.6,459.9L327.6,459.9L328.5,459.8L329.5,459.8L330.5,459.8L331.4,459.8L332.4,459.9L333.3,460.0L334.3,460.0L335.3,460.1L336.2,460.0L337.2,459.9L338.2,459.8L339.1,459.5L340.1,459.2L340.3,459.2L341.1,458.9L342.0,458.4L342.6,458.1L343.0,457.8L343.9,457.0L344.0,456.9L344.9,455.9L345.0,455.8L345.7,454.7L345.9,454.3L346.2,453.6L346.7,452.5L346.8,452.3L347.2,451.4L347.5,450.3L347.8,449.4L347.8,449.2L348.1,448.1L348.3,447.0L348.5,445.9L348.6,444.7L348.6,443.6L348.7,442.5L348.7,441.4L348.8,440.8L348.8,440.3L348.8,439.2L348.9,438.1L348.9,437.0L349.1,435.9L349.3,434.8L349.5,433.7L349.7,432.9L349.8,432.5L350.2,431.4L350.7,430.4L350.7,430.3L351.3,429.2L351.7,428.5L351.9,428.1L352.5,427.0Z" fill="#74b55e" stroke="#4c773e" stroke-width="0.45"/>
<path d="M351.7,427.0L351.7,427.0L352.5,427.0L351.9,428.1L351.7,428.5L351.3,429.2L350.7,430.3L350.7,430.4L350.2,431.4L349.8,432.5L349.7,432.9L349.5,433.7L349.3,434.8L349.1,435.9L348.9,437.0L348.9,438.1L348.8,439.2L348.8,440.3L348.8,440.8L348.7,441.4L348.7,442.5L348.6,443.6L348.6,444.7L348.5,445.9L348.3,447.0L348.1,448.1L347.8,449.2L347.8,449.4L347.5,450.3L347.2,451.4L346.8,452.3L346.7,452.5L346.2,453.6L345.9,454.3L345.7,454.7L345.0,455.8L344.9,455.9L344.0,456.9L343.9,457.0L343.0,457.8L342.6,458.1L342.0,458.4L341.1,458.9L340.3,459.2L340.1,459.2L339.1,459.5L338.2,459.8L337.2,459.9L336.2,460.0L335.3,460.1L334.3,460.0L333.3,460.0L332.4,459.9L331.4,459.8L330.5,459.8L329.5,459.8L328.5,459.8L327.6,459.9L326.6,459.9L325.6,459.7L324.7,459.5L323.7,459.2L323.5,459.2L322.7,458.9L321.8,458.6L320.8,458.2L320.4,458.1L319.9,457.9L318.9,457.5L317.9,457.1L317.6,456.9L317.0,456.7L316.0,456.3L316.0,455.8L316.0,455.0L317.0,455.4L317.9,455.8L318.0,455.8L318.9,456.2L319.9,456.5L320.8,456.8L321.5,456.9L321.8,457.0L322.7,457.2L323.7,457.4L324.7,457.5L325.6,457.7L326.6,457.8L327.6,457.9L328.5,458.1L328.5,458.1L329.5,458.2L330.5,458.3L331.4,458.4L332.4,458.5L333.3,458.6L334.3,458.7L335.3,458.7L336.2,458.7L337.2,458.6L338.2,458.4L339.1,458.1L339.3,458.1L340.1,457.7L341.1,457.2L341.5,456.9L342.0,456.6L342.9,455.8L343.0,455.8L343.8,454.7L343.9,454.6L344.6,453.6L344.9,453.1L345.2,452.5L345.8,451.4L345.9,451.3L346.4,450.3L346.8,449.2L346.8,449.2L347.2,448.1L347.5,447.0L347.8,445.9L347.8,445.9L348.0,444.7L348.1,443.6L348.2,442.5L348.3,441.4L348.4,440.3L348.5,439.2L348.5,438.1L348.5,437.0L348.7,435.9L348.8,435.1L348.8,434.8L349.1,433.7L349.3,432.5L349.6,431.4L349.7,431.1L350.1,430.3L350.5,429.2L350.7,428.9L351.1,428.1Z" fill="#84c083" stroke="#577e56" stroke-width="0.45"/>
<path d="M350.7,427.3L350.8,427.0L351.7,427.0L351.7,427.0L351.7,427.0L351.1,428.1L350.7,428.9L350.5,429.2L350.1,430.3L349.7,431.1L349.6,431.4L349.3,432.5L349.1,433.7L348.8,434.8L348.8,435.1L348.7,435.9L348.5,437.0L348.5,438.1L348.5,439.2L348.4,440.3L348.3,441.4L348.2,442.5L348.1,443.6L348.0,444.7L347.8,445.9L347.8,445.9L347.5,447.0L347.2,448.1L346.8,449.2L346.8,449.2L346.4,450.3L345.9,451.3L345.8,451.4L345.2,452.5L344.9,453.1L344.6,453.6L343.9,454.6L343.8,454.7L343.0,455.8L342.9,455.8L342.0,456.6L341.5,456.9L341.1,457.2L340.1,457.7L339.3,458.1L339.1,458.1L338.2,458.4L337.2,458.6L336.2,458.7L335.3,458.7L334.3,458.7L333.3,458.6L332.4,458.5L331.4,458.4L330.5,458.3L329.5,458.2L328.5,458.1L328.5,458.1L327.6,457.9L326.6,457.8L325.6,457.7L324.7,457.5L323.7,457.4L322.7,457.2L321.8,457.0L321.5,456.9L320.8,456.8L319.9,456.5L318.9,456.2L318.0,455.8L317.9,455.8L317.0,455.4L316.0,455.0L316.0,454.7L316.0,453.6L316.0,453.6L316.0,453.6L317.0,454.0L317.9,454.4L318.7,454.7L318.9,454.8L319.9,455.1L320.8,455.3L321.8,455.4L322.7,455.5L323.7,455.6L324.7,455.6L325.6,455.7L326.3,455.8L326.6,455.9L327.6,456.1L328.5,456.3L329.5,456.5L330.5,456.8L331.4,456.9L331.4,457.0L332.4,457.1L333.3,457.2L334.3,457.3L335.3,457.3L336.2,457.3L337.2,457.2L338.2,457.0L338.3,456.9L339.1,456.7L340.1,456.2L340.6,455.8L341.1,455.5L342.0,454.7L342.0,454.7L342.9,453.6L343.0,453.6L343.7,452.5L343.9,452.2L344.5,451.4L344.9,450.8L345.2,450.3L345.8,449.2L345.9,449.1L346.4,448.1L346.8,447.0L346.8,446.9L347.2,445.9L347.4,444.7L347.6,443.6L347.8,442.5L347.8,442.5L347.9,441.4L348.0,440.3L348.1,439.2L348.1,438.1L348.2,437.0L348.3,435.9L348.4,434.8L348.6,433.7L348.8,432.7L348.8,432.5L349.1,431.4L349.4,430.3L349.7,429.5L349.8,429.2L350.3,428.1Z" fill="#90cbb0" stroke="#5f8574" stroke-width="0.45"/>
<path d="M349.7,427.8L350.1,427.0L350.7,427.0L350.8,427.0L350.7,427.3L350.3,428.1L349.8,429.2L349.7,429.5L349.4,430.3L349.1,431.4L348.8,432.5L348.8,432.7L348.6,433.7L348.4,434.8L348.3,435.9L348.2,437.0L348.1,438.1L348.1,439.2L348.0,440.3L347.9,441.4L347.8,442.5L347.8,442.5L347.6,443.6L347.4,444.7L347.2,445.9L346.8,446.9L346.8,447.0L346.4,448.1L345.9,449.1L345.8,449.2L345.2,450.3L344.9,450.8L344.5,451.4L343.9,452.2L343.7,452.5L343.0,453.6L342.9,453.6L342.0,454.7L342.0,454.7L341.1,455.5L340.6,455.8L340.1,456.2L339.1,456.7L338.3,456.9L338.2,457.0L337.2,457.2L336.2,457.3L335.3,457.3L334.3,457.3L333.3,457.2L332.4,457.1L331.4,457.0L331.4,456.9L330.5,456.8L329.5,456.5L328.5,456.3L327.6,456.1L326.6,455.9L326.3,455.8L325.6,455.7L324.7,455.6L323.7,455.6L322.7,455.5L321.8,455.4L320.8,455.3L319.9,455.1L318.9,454.8L318.7,454.7L317.9,454.4L317.0,454.0L316.0,453.6L316.0,453.6L316.0,452.5L316.0,452.1L316.9,452.5L317.0,452.6L317.9,453.0L318.9,453.3L319.9,453.6L319.9,453.6L320.8,453.8L321.8,453.8L322.7,453.8L323.7,453.8L324.7,453.8L325.6,453.9L326.6,454.0L327.6,454.3L328.5,454.6L328.9,454.7L329.5,454.9L330.5,455.2L331.4,455.5L332.4,455.7L333.3,455.8L333.4,455.8L334.3,455.9L335.3,456.0L336.2,455.9L336.9,455.8L337.2,455.8L338.2,455.5L339.1,455.1L339.8,454.7L340.1,454.6L341.1,453.8L341.2,453.6L342.0,452.8L342.2,452.5L343.0,451.6L343.1,451.4L343.9,450.4L344.0,450.3L344.8,449.2L344.9,449.0L345.5,448.1L345.9,447.4L346.1,447.0L346.5,445.9L346.8,445.0L346.9,444.7L347.2,443.6L347.4,442.5L347.5,441.4L347.6,440.3L347.7,439.2L347.8,438.1L347.8,437.7L347.8,437.0L347.9,435.9L348.0,434.8L348.1,433.7L348.3,432.5L348.5,431.4L348.8,430.6L348.8,430.3L349.2,429.2L349.6,428.1Z" fill="#8ccecc" stroke="#5c8786" stroke-width="0.45"/>
<path d="M349.7,427.0L350.1,427.0L349.7,427.8L349.6,428.1L349.2,429.2L348.8,430.3L348.8,430.6L348.5,431.4L348.3,432.5L348.1,433.7L348.0,434.8L347.9,435.9L347.8,437.0L347.8,437.7L347.8,438.1L347.7,439.2L347.6,440.3L347.5,441.4L347.4,442.5L347.2,443.6L346.9,444.7L346.8,445.0L346.5,445.9L346.1,447.0L345.9,447.4L345.5,448.1L344.9,449.0L344.8,449.2L344.0,450.3L343.9,450.4L343.1,451.4L343.0,451.6L342.2,452.5L342.0,452.8L341.2,453.6L341.1,453.8L340.1,454.6L339.8,454.7L339.1,455.1L338.2,455.5L337.2,455.8L336.9,455.8L336.2,455.9L335.3,456.0L334.3,455.9L333.4,455.8L333.3,455.8L332.4,455.7L331.4,455.5L330.5,455.2L329.5,454.9L328.9,454.7L328.5,454.6L327.6,454.3L326.6,454.0L325.6,453.9L324.7,453.8L323.7,453.8L322.7,453.8L321.8,453.8L320.8,453.8L319.9,453.6L319.9,453.6L318.9,453.3L317.9,453.0L317.0,452.6L316.9,452.5L316.0,452.1L316.0,451.4L316.0,450.5L317.0,450.9L317.9,451.3L318.0,451.4L318.9,451.7L319.9,452.0L320.8,452.2L321.8,452.2L322.7,452.2L323.7,452.2L324.7,452.1L325.6,452.1L326.6,452.3L327.3,452.5L327.6,452.6L328.5,453.0L329.5,453.3L330.3,453.6L330.5,453.7L331.4,454.0L332.4,454.2L333.3,454.4L334.3,454.5L335.3,454.5L336.2,454.5L337.2,454.4L338.2,454.1L339.1,453.6L339.1,453.6L340.1,452.9L340.6,452.5L341.1,452.1L341.7,451.4L342.0,451.1L342.7,450.3L343.0,450.0L343.7,449.2L343.9,448.9L344.5,448.1L344.9,447.6L345.3,447.0L345.9,445.9L345.9,445.9L346.4,444.7L346.7,443.6L346.8,443.1L347.0,442.5L347.1,441.4L347.3,440.3L347.4,439.2L347.4,438.1L347.5,437.0L347.5,435.9L347.6,434.8L347.7,433.7L347.8,432.8L347.8,432.5L348.0,431.4L348.3,430.3L348.6,429.2L348.8,428.6L348.9,428.1L349.3,427.0Z" fill="#7fc7d9" stroke="#53838f" stroke-width="0.45"/>
<path d="M348.8,427.0L349.3,427.0L348.9,428.1L348.8,428.6L348.6,429.2L348.3,430.3L348.0,431.4L347.8,432.5L347.8,432.8L347.7,433.7L347.6,434.8L347.5,435.9L347.5,437.0L347.4,438.1L347.4,439.2L347.3,440.3L347.1,441.4L347.0,442.5L346.8,443.1L346.7,443.6L346.4,444.7L345.9,445.9L345.9,445.9L345.3,447.0L344.9,447.6L344.5,448.1L343.9,448.9L343.7,449.2L343.0,450.0L342.7,450.3L342.0,451.1L341.7,451.4L341.1,452.1L340.6,452.5L340.1,452.9L339.1,453.6L339.1,453.6L338.2,454.1L337.2,454.4L336.2,454.5L335.3,454.5L334.3,454.5L333.3,454.4L332.4,454.2L331.4,454.0L330.5,453.7L330.3,453.6L329.5,453.3L328.5,453.0L327.6,452.6L327.3,452.5L326.6,452.3L325.6,452.1L324.7,452.1L323.7,452.2L322.7,452.2L321.8,452.2L320.8,452.2L319.9,452.0L318.9,451.7L318.0,451.4L317.9,451.3L317.0,450.9L316.0,450.5L316.0,450.3L316.0,449.2L316.0,448.7L317.0,449.1L317.1,449.2L317.9,449.5L318.9,449.9L319.9,450.2L320.1,450.3L320.8,450.4L321.8,450.6L322.7,450.6L323.7,450.6L324.7,450.7L325.6,450.7L326.6,450.9L327.6,451.1L328.4,451.4L328.5,451.4L329.5,451.8L330.5,452.1L331.4,452.5L331.5,452.5L332.4,452.7L333.3,452.9L334.3,453.0L335.3,453.1L336.2,453.0L337.2,452.9L338.2,452.6L338.3,452.5L339.1,452.0L340.0,451.4L340.1,451.3L341.1,450.5L341.3,450.3L342.0,449.7L342.5,449.2L343.0,448.7L343.5,448.1L343.9,447.6L344.4,447.0L344.9,446.3L345.2,445.9L345.8,444.7L345.9,444.6L346.2,443.6L346.5,442.5L346.8,441.4L346.8,440.9L346.9,440.3L347.0,439.2L347.1,438.1L347.2,437.0L347.2,435.9L347.2,434.8L347.3,433.7L347.4,432.5L347.5,431.4L347.7,430.3L347.8,429.9L348.0,429.2L348.3,428.1L348.6,427.0Z" fill="#7ac2de" stroke="#508092" stroke-width="0.45"/>
<path d="M347.8,427.4L347.9,427.0L348.6,427.0L348.3,428.1L348.0,429.2L347.8,429.9L347.7,430.3L347.5,431.4L347.4,432.5L347.3,433.7L347.2,434.8L347.2,435.9L347.2,437.0L347.1,438.1L347.0,439.2L346.9,440.3L346.8,440.9L346.8,441.4L346.5,442.5L346.2,443.6L345.9,444.6L345.8,444.7L345.2,445.9L344.9,446.3L344.4,447.0L343.9,447.6L343.5,448.1L343.0,448.7L342.5,449.2L342.0,449.7L341.3,450.3L341.1,450.5L340.1,451.3L340.0,451.4L339.1,452.0L338.3,452.5L338.2,452.6L337.2,452.9L336.2,453.0L335.3,453.1L334.3,453.0L333.3,452.9L332.4,452.7L331.5,452.5L331.4,452.5L330.5,452.1L329.5,451.8L328.5,451.4L328.4,451.4L327.6,451.1L326.6,450.9L325.6,450.7L324.7,450.7L323.7,450.6L322.7,450.6L321.8,450.6L320.8,450.4L320.1,450.3L319.9,450.2L318.9,449.9L317.9,449.5L317.1,449.2L317.0,449.1L316.0,448.7L316.0,448.1L316.0,447.0L316.0,446.9L316.0,447.0L317.0,447.3L317.9,447.7L318.9,448.0L319.0,448.1L319.9,448.4L320.8,448.7L321.8,448.9L322.7,449.1L323.4,449.2L323.7,449.2L324.7,449.4L325.6,449.5L326.6,449.6L327.6,449.9L328.5,450.1L329.2,450.3L329.5,450.4L330.5,450.7L331.4,451.0L332.4,451.2L333.3,451.4L333.3,451.4L334.3,451.5L335.3,451.6L336.2,451.5L337.0,451.4L337.2,451.4L338.2,451.0L339.1,450.5L339.4,450.3L340.1,449.9L341.0,449.2L341.1,449.2L342.0,448.4L342.3,448.1L343.0,447.5L343.5,447.0L343.9,446.5L344.5,445.9L344.9,445.2L345.2,444.7L345.7,443.6L345.9,443.3L346.1,442.5L346.4,441.4L346.5,440.3L346.7,439.2L346.8,438.1L346.8,437.0L346.8,435.9L346.8,435.9L346.8,434.8L346.9,433.7L346.9,432.5L347.0,431.4L347.1,430.3L347.4,429.2L347.6,428.1Z" fill="#6bb3e0" stroke="#467693" stroke-width="0.45"/>
<path d="M347.8,427.0L347.9,427.0L347.8,427.4L347.6,428.1L347.4,429.2L347.1,430.3L347.0,431.4L346.9,432.5L346.9,433.7L346.8,434.8L346.8,435.9L346.8,435.9L346.8,437.0L346.8,438.1L346.7,439.2L346.5,440.3L346.4,441.4L346.1,442.5L345.9,443.3L345.7,443.6L345.2,444.7L344.9,445.2L344.5,445.9L343.9,446.5L343.5,447.0L343.0,447.5L342.3,448.1L342.0,448.4L341.1,449.2L341.0,449.2L340.1,449.9L339.4,450.3L339.1,450.5L338.2,451.0L337.2,451.4L337.0,451.4L336.2,451.5L335.3,451.6L334.3,451.5L333.3,451.4L333.3,451.4L332.4,451.2L331.4,451.0L330.5,450.7L329.5,450.4L329.2,450.3L328.5,450.1L327.6,449.9L326.6,449.6L325.6,449.5L324.7,449.4L323.7,449.2L323.4,449.2L322.7,449.1L321.8,448.9L320.8,448.7L319.9,448.4L319.0,448.1L318.9,448.0L317.9,447.7L317.0,447.3L316.0,447.0L316.0,446.9L316.0,445.9L316.0,445.2L317.0,445.6L317.5,445.9L317.9,446.0L318.9,446.4L319.9,446.7L320.6,447.0L320.8,447.0L321.8,447.4L322.7,447.7L323.7,447.9L324.5,448.1L324.7,448.1L325.6,448.3L326.6,448.5L327.6,448.6L328.5,448.8L329.5,449.0L330.2,449.2L330.5,449.2L331.4,449.5L332.4,449.7L333.3,449.9L334.3,450.0L335.3,450.0L336.2,450.0L337.2,449.8L338.2,449.5L338.8,449.2L339.1,449.0L340.1,448.5L340.8,448.1L341.1,447.9L342.0,447.3L342.4,447.0L343.0,446.5L343.6,445.9L343.9,445.5L344.5,444.7L344.9,444.2L345.2,443.6L345.7,442.5L345.9,441.8L346.0,441.4L346.2,440.3L346.3,439.2L346.4,438.1L346.5,437.0L346.5,435.9L346.4,434.8L346.4,433.7L346.4,432.5L346.5,431.4L346.6,430.3L346.7,429.2L346.8,428.7L347.0,428.1L347.2,427.0Z" fill="#5893d4" stroke="#3a618b" stroke-width="0.45"/>
<path d="M346.8,427.0L347.2,427.0L347.0,428.1L346.8,428.7L346.7,429.2L346.6,430.3L346.5,431.4L346.4,432.5L346.4,433.7L346.4,434.8L346.5,435.9L346.5,437.0L346.4,438.1L346.3,439.2L346.2,440.3L346.0,441.4L345.9,441.8L345.7,442.5L345.2,443.6L344.9,444.2L344.5,444.7L343.9,445.5L343.6,445.9L343.0,446.5L342.4,447.0L342.0,447.3L341.1,447.9L340.8,448.1L340.1,448.5L339.1,449.0L338.8,449.2L338.2,449.5L337.2,449.8L336.2,450.0L335.3,450.0L334.3,450.0L333.3,449.9L332.4,449.7L331.4,449.5L330.5,449.2L330.2,449.2L329.5,449.0L328.5,448.8L327.6,448.6L326.6,448.5L325.6,448.3L324.7,448.1L324.5,448.1L323.7,447.9L322.7,447.7L321.8,447.4L320.8,447.0L320.6,447.0L319.9,446.7L318.9,446.4L317.9,446.0L317.5,445.9L317.0,445.6L316.0,445.2L316.0,444.7L316.0,443.6L316.0,443.5L316.2,443.6L317.0,444.0L317.9,444.4L318.7,444.7L318.9,444.8L319.9,445.2L320.8,445.6L321.4,445.9L321.8,446.0L322.7,446.4L323.7,446.7L324.7,446.9L325.0,447.0L325.6,447.1L326.6,447.3L327.6,447.5L328.5,447.6L329.5,447.8L330.5,447.9L331.4,448.1L331.6,448.1L332.4,448.2L333.3,448.4L334.3,448.5L335.3,448.5L336.2,448.5L337.2,448.3L338.1,448.1L338.2,448.1L339.1,447.7L340.1,447.4L340.8,447.0L341.1,446.9L342.0,446.3L342.6,445.9L343.0,445.6L343.8,444.7L343.9,444.6L344.7,443.6L344.9,443.2L345.2,442.5L345.6,441.4L345.8,440.3L345.9,439.8L346.0,439.2L346.1,438.1L346.1,437.0L346.1,435.9L346.0,434.8L346.0,433.7L345.9,432.5L345.9,431.4L346.0,430.3L346.1,429.2L346.3,428.1L346.5,427.0Z" fill="#4363b8" stroke="#2c4179" stroke-width="0.45"/>
<path d="M345.9,427.0L346.5,427.0L346.3,428.1L346.1,429.2L346.0,430.3L345.9,431.4L345.9,432.5L346.0,433.7L346.0,434.8L346.1,435.9L346.1,437.0L346.1,438.1L346.0,439.2L345.9,439.8L345.8,440.3L345.6,441.4L345.2,442.5L344.9,443.2L344.7,443.6L343.9,444.6L343.8,444.7L343.0,445.6L342.6,445.9L342.0,446.3L341.1,446.9L340.8,447.0L340.1,447.4L339.1,447.7L338.2,448.1L338.1,448.1L337.2,448.3L336.2,448.5L335.3,448.5L334.3,448.5L333.3,448.4L332.4,448.2L331.6,448.1L331.4,448.1L330.5,447.9L329.5,447.8L328.5,447.6L327.6,447.5L326.6,447.3L325.6,447.1L325.0,447.0L324.7,446.9L323.7,446.7L322.7,446.4L321.8,446.0L321.4,445.9L320.8,445.6L319.9,445.2L318.9,444.8L318.7,444.7L317.9,444.4L317.0,444.0L316.2,443.6L316.0,443.5L316.0,442.5L316.0,441.6L317.0,442.3L317.4,442.5L317.9,442.8L318.9,443.3L319.5,443.6L319.9,443.8L320.8,444.2L321.8,444.7L322.0,444.7L322.7,445.1L323.7,445.4L324.7,445.7L325.2,445.9L325.6,446.0L326.6,446.2L327.6,446.3L328.5,446.5L329.5,446.6L330.5,446.7L331.4,446.8L332.4,446.9L333.1,447.0L333.3,447.0L334.3,447.1L335.3,447.1L336.2,447.1L337.2,447.0L337.2,447.0L338.2,446.8L339.1,446.6L340.1,446.3L341.1,445.9L341.1,445.9L342.0,445.4L342.9,444.7L343.0,444.7L343.9,443.7L344.0,443.6L344.7,442.5L344.9,442.1L345.1,441.4L345.4,440.3L345.6,439.2L345.7,438.1L345.8,437.0L345.7,435.9L345.6,434.8L345.5,433.7L345.4,432.5L345.4,431.4L345.4,430.3L345.5,429.2L345.6,428.1L345.8,427.0Z" fill="#3c52ad" stroke="#273672" stroke-width="0.45"/>
<path d="M345.6,428.1L345.5,429.2L345.4,430.3L345.4,431.4L345.4,432.5L345.5,433.7L345.6,434.8L345.7,435.9L345.8,437.0L345.7,438.1L345.6,439.2L345.4,440.3L345.1,441.4L344.9,442.1L344.7,442.5L344.0,443.6L343.9,443.7L343.0,444.7L342.9,444.7L342.0,445.4L341.1,445.9L341.1,445.9L340.1,446.3L339.1,446.6L338.2,446.8L337.2,447.0L337.2,447.0L336.2,447.1L335.3,447.1L334.3,447.1L333.3,447.0L333.1,447.0L332.4,446.9L331.4,446.8L330.5,446.7L329.5,446.6L328.5,446.5L327.6,446.3L326.6,446.2L325.6,446.0L325.2,445.9L324.7,445.7L323.7,445.4L322.7,445.1L322.0,444.7L321.8,444.7L320.8,444.2L319.9,443.8L319.5,443.6L318.9,443.3L317.9,442.8L317.4,442.5L317.0,442.3L316.0,441.6L316.0,441.4L316.0,440.3L316.0,439.3L317.0,440.3L317.0,440.3L317.9,441.0L318.5,441.4L318.9,441.7L319.9,442.2L320.3,442.5L320.8,442.8L321.8,443.3L322.5,443.6L322.7,443.7L323.7,444.2L324.7,444.5L325.4,444.7L325.6,444.8L326.6,445.0L327.6,445.2L328.5,445.3L329.5,445.5L330.5,445.5L331.4,445.6L332.4,445.7L333.3,445.8L334.3,445.8L335.3,445.8L336.2,445.8L337.2,445.8L338.2,445.6L339.1,445.5L340.1,445.3L341.1,444.9L341.5,444.7L342.0,444.5L343.0,443.8L343.2,443.6L343.9,442.9L344.2,442.5L344.6,441.4L344.9,440.5L345.0,440.3L345.2,439.2L345.3,438.1L345.4,437.0L345.3,435.9L345.2,434.8L345.0,433.7L344.9,432.9L344.9,432.5L344.8,431.4L344.7,430.3L344.8,429.2L344.9,428.3L344.9,428.1L345.1,427.0L345.8,427.0Z" fill="#3c4aa8" stroke="#27306e" stroke-width="0.45"/>
<path d="M344.9,427.0L345.1,427.0L344.9,428.1L344.9,428.3L344.8,429.2L344.7,430.3L344.8,431.4L344.9,432.5L344.9,432.9L345.0,433.7L345.2,434.8L345.3,435.9L345.4,437.0L345.3,438.1L345.2,439.2L345.0,440.3L344.9,440.5L344.6,441.4L344.2,442.5L343.9,442.9L343.2,443.6L343.0,443.8L342.0,444.5L341.5,444.7L341.1,444.9L340.1,445.3L339.1,445.5L338.2,445.6L337.2,445.8L336.2,445.8L335.3,445.8L334.3,445.8L333.3,445.8L332.4,445.7L331.4,445.6L330.5,445.5L329.5,445.5L328.5,445.3L327.6,445.2L326.6,445.0L325.6,444.8L325.4,444.7L324.7,444.5L323.7,444.2L322.7,443.7L322.5,443.6L321.8,443.3L320.8,442.8L320.3,442.5L319.9,442.2L318.9,441.7L318.5,441.4L317.9,441.0L317.0,440.3L317.0,440.3L316.0,439.3L316.0,439.2L316.0,438.1L316.0,437.0L316.0,435.9L316.0,434.8L316.0,433.7L316.0,432.5L316.0,431.5L316.5,432.5L316.5,433.7L316.5,434.8L316.7,435.9L317.0,437.0L317.0,437.0L317.5,438.1L317.9,438.7L318.3,439.2L318.9,439.7L319.6,440.3L319.9,440.5L320.8,441.1L321.3,441.4L321.8,441.7L322.7,442.3L323.2,442.5L323.7,442.8L324.7,443.2L325.6,443.6L325.8,443.6L326.6,443.8L327.6,444.0L328.5,444.2L329.5,444.3L330.5,444.4L331.4,444.5L332.4,444.5L333.3,444.6L334.3,444.6L335.3,444.6L336.2,444.6L337.2,444.6L338.2,444.5L339.1,444.4L340.1,444.3L341.1,444.0L341.9,443.6L342.0,443.6L343.0,442.9L343.4,442.5L343.9,441.8L344.1,441.4L344.4,440.3L344.7,439.2L344.9,438.2L344.9,438.1L345.0,437.0L344.9,435.9L344.9,435.9L344.7,434.8L344.4,433.7L344.2,432.5L344.1,431.4L344.0,430.3L344.1,429.2L344.2,428.1L344.3,427.0Z" fill="#3b42a1" stroke="#262b6a" stroke-width="0.45"/>
<path d="M317.0,427.0L317.8,427.0L317.9,427.0L318.9,427.7L319.4,428.1L319.9,428.6L320.4,429.2L320.8,429.9L321.0,430.3L321.3,431.4L321.1,432.5L320.8,433.2L320.6,433.7L319.9,434.8L319.9,434.9L319.5,435.9L319.4,437.0L319.9,437.8L320.0,438.1L320.8,438.9L321.1,439.2L321.8,439.7L322.5,440.3L322.7,440.4L323.7,441.1L324.2,441.4L324.7,441.7L325.6,442.2L326.6,442.5L326.6,442.5L327.6,442.7L328.5,442.9L329.5,443.0L330.5,443.1L331.4,443.2L332.4,443.3L333.3,443.3L334.3,443.3L335.3,443.3L336.2,443.3L337.2,443.3L338.2,443.3L339.1,443.3L340.1,443.2L341.1,443.0L342.0,442.7L342.2,442.5L343.0,441.9L343.4,441.4L343.9,440.3L343.9,440.2L344.2,439.2L344.4,438.1L344.5,437.0L344.4,435.9L344.1,434.8L343.9,434.1L343.8,433.7L343.5,432.5L343.3,431.4L343.2,430.3L343.2,429.2L343.3,428.1L343.5,427.0L343.9,427.0L344.3,427.0L344.2,428.1L344.1,429.2L344.0,430.3L344.1,431.4L344.2,432.5L344.4,433.7L344.7,434.8L344.9,435.9L344.9,435.9L345.0,437.0L344.9,438.1L344.9,438.2L344.7,439.2L344.4,440.3L344.1,441.4L343.9,441.8L343.4,442.5L343.0,442.9L342.0,443.6L341.9,443.6L341.1,444.0L340.1,444.3L339.1,444.4L338.2,444.5L337.2,444.6L336.2,444.6L335.3,444.6L334.3,444.6L333.3,444.6L332.4,444.5L331.4,444.5L330.5,444.4L329.5,444.3L328.5,444.2L327.6,444.0L326.6,443.8L325.8,443.6L325.6,443.6L324.7,443.2L323.7,442.8L323.2,442.5L322.7,442.3L321.8,441.7L321.3,441.4L320.8,441.1L319.9,440.5L319.6,440.3L318.9,439.7L318.3,439.2L317.9,438.7L317.5,438.1L317.0,437.0L317.0,437.0L316.7,435.9L316.5,434.8L316.5,433.7L316.5,432.5L316.0,431.5L316.0,431.4L316.0,430.3L316.0,429.2L316.0,428.1L316.0,427.0Z" fill="#3b3a9a" stroke="#262665" stroke-width="0.45"/>
<path d="M317.9,427.0L318.9,427.0L319.9,427.0L320.8,427.0L321.8,427.0L322.7,427.0L322.7,427.1L323.4,428.1L323.7,429.0L323.8,429.2L324.0,430.3L324.1,431.4L323.9,432.5L323.7,433.7L323.7,433.7L323.4,434.8L323.2,435.9L323.2,437.0L323.7,438.0L323.8,438.1L324.7,439.2L324.7,439.2L325.6,440.0L326.1,440.3L326.6,440.6L327.6,441.0L328.5,441.3L329.1,441.4L329.5,441.5L330.5,441.7L331.4,441.8L332.4,441.8L333.3,441.8L334.3,441.8L335.3,441.8L336.2,441.8L337.2,441.8L338.2,441.9L339.1,442.0L340.1,442.1L341.1,441.9L342.0,441.6L342.2,441.4L343.0,440.6L343.1,440.3L343.6,439.2L343.9,438.1L343.9,438.0L344.1,437.0L343.9,436.3L343.8,435.9L343.4,434.8L343.0,433.7L343.0,433.6L342.5,432.5L342.3,431.4L342.2,430.3L342.2,429.2L342.4,428.1L342.5,427.0L343.0,427.0L343.5,427.0L343.3,428.1L343.2,429.2L343.2,430.3L343.3,431.4L343.5,432.5L343.8,433.7L343.9,434.1L344.1,434.8L344.4,435.9L344.5,437.0L344.4,438.1L344.2,439.2L343.9,440.2L343.9,440.3L343.4,441.4L343.0,441.9L342.2,442.5L342.0,442.7L341.1,443.0L340.1,443.2L339.1,443.3L338.2,443.3L337.2,443.3L336.2,443.3L335.3,443.3L334.3,443.3L333.3,443.3L332.4,443.3L331.4,443.2L330.5,443.1L329.5,443.0L328.5,442.9L327.6,442.7L326.6,442.5L326.6,442.5L325.6,442.2L324.7,441.7L324.2,441.4L323.7,441.1L322.7,440.4L322.5,440.3L321.8,439.7L321.1,439.2L320.8,438.9L320.0,438.1L319.9,437.8L319.4,437.0L319.5,435.9L319.9,434.9L319.9,434.8L320.6,433.7L320.8,433.2L321.1,432.5L321.3,431.4L321.0,430.3L320.8,429.9L320.4,429.2L319.9,428.6L319.4,428.1L318.9,427.7L317.9,427.0L317.8,427.0Z" fill="#3e3391" stroke="#28215f" stroke-width="0.45"/>
<path d="M322.7,427.0L323.7,427.0L324.7,427.0L325.6,427.0L326.6,427.0L326.6,427.0L327.2,428.1L327.6,429.0L327.7,429.2L328.0,430.3L328.2,431.4L328.1,432.5L327.8,433.7L327.6,434.8L327.6,435.9L327.8,437.0L328.4,438.1L328.5,438.2L329.5,439.0L329.9,439.2L330.5,439.4L331.4,439.6L332.4,439.7L333.3,439.7L334.3,439.7L335.3,439.6L336.2,439.7L337.2,439.9L338.2,440.2L338.4,440.3L339.1,440.5L340.1,440.7L341.1,440.6L341.6,440.3L342.0,440.1L342.6,439.2L343.0,438.6L343.1,438.1L343.3,437.0L343.0,435.9L343.0,435.8L342.4,434.8L342.0,434.1L341.7,433.7L341.1,432.6L341.0,432.5L340.5,431.4L340.5,430.3L340.9,429.2L341.1,428.7L341.2,428.1L341.4,427.0L342.0,427.0L342.5,427.0L342.4,428.1L342.2,429.2L342.2,430.3L342.3,431.4L342.5,432.5L343.0,433.6L343.0,433.7L343.4,434.8L343.8,435.9L343.9,436.3L344.1,437.0L343.9,438.0L343.9,438.1L343.6,439.2L343.1,440.3L343.0,440.6L342.2,441.4L342.0,441.6L341.1,441.9L340.1,442.1L339.1,442.0L338.2,441.9L337.2,441.8L336.2,441.8L335.3,441.8L334.3,441.8L333.3,441.8L332.4,441.8L331.4,441.8L330.5,441.7L329.5,441.5L329.1,441.4L328.5,441.3L327.6,441.0L326.6,440.6L326.1,440.3L325.6,440.0L324.7,439.2L324.7,439.2L323.8,438.1L323.7,438.0L323.2,437.0L323.2,435.9L323.4,434.8L323.7,433.7L323.7,433.7L323.9,432.5L324.1,431.4L324.0,430.3L323.8,429.2L323.7,429.0L323.4,428.1L322.7,427.1L322.7,427.0Z" fill="#452d8d" stroke="#2d1d5d" stroke-width="0.45"/>
<path d="M327.6,427.0L328.5,427.0L329.5,427.0L330.5,427.0L331.4,427.0L332.4,427.0L332.7,427.0L333.3,427.4L334.3,427.9L335.1,428.1L335.3,428.2L336.2,428.3L337.2,428.4L338.2,428.2L338.5,428.1L339.1,427.8L339.7,427.0L340.1,427.0L341.1,427.0L341.4,427.0L341.2,428.1L341.1,428.7L340.9,429.2L340.5,430.3L340.5,431.4L341.0,432.5L341.1,432.6L341.7,433.7L342.0,434.1L342.4,434.8L343.0,435.8L343.0,435.9L343.3,437.0L343.1,438.1L343.0,438.6L342.6,439.2L342.0,440.1L341.6,440.3L341.1,440.6L340.1,440.7L339.1,440.5L338.4,440.3L338.2,440.2L337.2,439.9L336.2,439.7L335.3,439.6L334.3,439.7L333.3,439.7L332.4,439.7L331.4,439.6L330.5,439.4L329.9,439.2L329.5,439.0L328.5,438.2L328.4,438.1L327.8,437.0L327.6,435.9L327.6,434.8L327.8,433.7L328.1,432.5L328.2,431.4L328.0,430.3L327.7,429.2L327.6,429.0L327.2,428.1L326.6,427.0ZM339.7,437.0L340.1,438.1L340.1,438.1L341.1,438.2L341.2,438.1L341.6,437.0L341.1,436.1L340.1,435.9Z" fill="#4b2a8b" stroke="#311b5b" stroke-width="0.45"/>
<path d="M333.3,427.0L334.3,427.0L335.3,427.0L336.2,427.0L337.2,427.0L338.2,427.0L339.1,427.0L339.7,427.0L339.1,427.8L338.5,428.1L338.2,428.2L337.2,428.4L336.2,428.3L335.3,428.2L335.1,428.1L334.3,427.9L333.3,427.4L332.7,427.0ZM340.1,435.9L341.1,436.1L341.6,437.0L341.2,438.1L341.1,438.2L340.1,438.1L340.1,438.1L339.7,437.0Z" fill="#502989" stroke="#341b5a" stroke-width="0.45"/>
</g>
<path d="M320.2,430.1 L338.3,429.6 L366.9,442.6 L366.6,460 C366.3,467 364.5,473 361.7,477.8 L356.5,485.6 L340.9,485.8 C336.5,481.5 332.5,478.5 330.5,475.8 C326.5,470.5 323,463 321.2,458 C319.3,452 318.6,444 318.7,437 C318.8,434 319.3,431.5 320.2,430.1 Z" fill="none" stroke="#333" stroke-width="0.5"/>
<path d="M338.3,429.6 L366.9,442.6" stroke="#111" stroke-width="1.5" fill="none"/>
<text x="311.8" y="483" font-size="6.8" fill="#333" stroke="#333" stroke-width="0.1" textLength="8.7" lengthAdjust="spacingAndGlyphs" >RV</text>
<polygon points="328.5,471.1 329.23,472.99 331.26,473.1 329.69,474.39 330.2,476.35 328.5,475.25 326.8,476.35 327.31,474.39 325.74,473.1 327.77,472.99" fill="#fff" stroke="#333" stroke-width="0.5"/>
<polygon points="352.8,477.7 353.53,479.59 355.56,479.7 353.99,480.99 354.5,482.95 352.8,481.85 351.1,482.95 351.61,480.99 350.04,479.7 352.07,479.59" fill="#fff" stroke="#333" stroke-width="0.5"/>
<rect x="387.4" y="426.3" width="64.4" height="60.6" fill="#fff" stroke="#8a8a8a" stroke-width="0.9" />
<clipPath id="clipR"><path d="M395.5,439 L414,431.7 L436.3,434.3 C439.5,436 441.5,438.5 442.5,441 C444,445 444.6,449 444.7,455 L444.6,466 C443.5,471 442,474 440.5,476.5 C438.5,480 436.5,483 434.2,485 L417.2,486.2 C413.5,483 411,480.5 408.8,477.5 C405.5,472.5 403.8,469 402.4,465.9 C400,460 398.5,455 397.6,450 C396.8,447 396,443 395.5,439 Z"/></clipPath>
<g clip-path="url(#clipR)">
<path d="M395.5,439 L414,431.7 L436.3,434.3 C439.5,436 441.5,438.5 442.5,441 C444,445 444.6,449 444.7,455 L444.6,466 C443.5,471 442,474 440.5,476.5 C438.5,480 436.5,483 434.2,485 L417.2,486.2 C413.5,483 411,480.5 408.8,477.5 C405.5,472.5 403.8,469 402.4,465.9 C400,460 398.5,455 397.6,450 C396.8,447 396,443 395.5,439 Z" fill="#6fb04a"/>
<path d="M396.9,461.6L397.9,461.3L398.8,461.6L397.9,462.7L397.9,462.7L397.0,463.7L396.9,463.8L395.9,464.6L395.7,464.8L395.0,465.2L394.0,465.2L393.7,464.8L394.0,463.7L394.0,463.7L394.9,462.7L395.0,462.6L395.9,462.1L396.7,461.6Z" fill="#bd151a" stroke="#7c0d11" stroke-width="0.45"/>
<path d="M398.9,459.5L399.9,459.3L400.9,459.5L400.9,459.5L401.3,460.6L400.9,461.4L400.7,461.6L399.9,462.5L399.7,462.7L398.9,463.7L398.9,463.7L398.1,464.8L397.9,465.1L397.3,465.9L396.9,466.3L396.4,466.9L395.9,467.4L395.3,468.0L395.0,468.3L394.0,469.0L394.0,469.0L393.0,469.6L393.0,469.0L393.0,468.0L393.0,466.9L393.0,465.9L393.0,464.8L393.0,463.7L393.0,462.7L393.0,462.4L394.0,461.6L394.0,461.6L395.0,461.2L395.9,460.7L396.2,460.6L396.9,460.3L397.9,459.9L398.7,459.5ZM396.7,461.6L395.9,462.1L395.0,462.6L394.9,462.7L394.0,463.7L394.0,463.7L393.7,464.8L394.0,465.2L395.0,465.2L395.7,464.8L395.9,464.6L396.9,463.8L397.0,463.7L397.9,462.7L397.9,462.7L398.8,461.6L397.9,461.3L396.9,461.6Z" fill="#c61e1f" stroke="#821314" stroke-width="0.45"/>
<path d="M397.9,459.3L398.9,458.9L399.9,458.6L400.9,458.8L401.8,459.3L402.1,459.5L402.4,460.6L401.9,461.6L401.8,461.7L400.9,462.7L400.9,462.7L400.0,463.7L399.9,464.0L399.3,464.8L398.9,465.6L398.7,465.9L398.1,466.9L397.9,467.3L397.4,468.0L396.9,468.7L396.6,469.0L395.9,469.9L395.7,470.1L395.0,470.9L394.7,471.1L394.0,471.9L393.6,472.2L393.0,472.8L393.0,472.2L393.0,471.1L393.0,470.1L393.0,469.6L394.0,469.0L394.0,469.0L395.0,468.3L395.3,468.0L395.9,467.4L396.4,466.9L396.9,466.3L397.3,465.9L397.9,465.1L398.1,464.8L398.9,463.7L398.9,463.7L399.7,462.7L399.9,462.5L400.7,461.6L400.9,461.4L401.3,460.6L400.9,459.5L400.9,459.5L399.9,459.3L398.9,459.5L398.7,459.5L397.9,459.9L396.9,460.3L396.2,460.6L395.9,460.7L395.0,461.2L394.0,461.6L394.0,461.6L393.0,462.4L393.0,461.6L393.0,461.3L394.0,460.8L394.3,460.6L395.0,460.4L395.9,460.0L396.9,459.6L397.1,459.5Z" fill="#d53920" stroke="#8c2515" stroke-width="0.45"/>
<path d="M398.9,458.4L399.9,458.2L400.9,458.3L401.6,458.5L401.8,458.6L402.8,459.2L403.2,459.5L403.4,460.6L402.9,461.6L402.8,461.8L401.9,462.7L401.8,462.8L401.0,463.7L400.9,463.9L400.3,464.8L399.9,465.8L399.8,465.9L399.4,466.9L398.9,468.0L398.9,468.0L398.4,469.0L397.9,469.8L397.7,470.1L397.0,471.1L396.9,471.2L396.1,472.2L395.9,472.4L395.3,473.2L395.0,473.7L394.5,474.3L394.0,475.0L393.7,475.3L393.0,476.4L393.0,475.3L393.0,474.3L393.0,473.2L393.0,472.8L393.6,472.2L394.0,471.9L394.7,471.1L395.0,470.9L395.7,470.1L395.9,469.9L396.6,469.0L396.9,468.7L397.4,468.0L397.9,467.3L398.1,466.9L398.7,465.9L398.9,465.6L399.3,464.8L399.9,464.0L400.0,463.7L400.9,462.7L400.9,462.7L401.8,461.7L401.9,461.6L402.4,460.6L402.1,459.5L401.8,459.3L400.9,458.8L399.9,458.6L398.9,458.9L397.9,459.3L397.1,459.5L396.9,459.6L395.9,460.0L395.0,460.4L394.3,460.6L394.0,460.8L393.0,461.3L393.0,460.6L393.0,460.5L394.0,460.1L395.0,459.8L395.7,459.5L395.9,459.5L396.9,459.2L397.9,458.8L398.7,458.5Z" fill="#e36020" stroke="#953f15" stroke-width="0.45"/>
<path d="M397.9,458.4L398.9,458.1L399.9,457.9L400.9,458.0L401.8,458.2L402.8,458.5L402.9,458.5L403.8,459.2L404.1,459.5L404.4,460.6L404.0,461.6L403.8,461.9L403.1,462.7L402.8,462.9L401.9,463.7L401.8,463.8L401.3,464.8L400.9,465.9L400.9,466.0L400.6,466.9L400.2,468.0L399.9,469.0L399.9,469.0L399.4,470.1L398.9,471.0L398.8,471.1L398.1,472.2L397.9,472.5L397.4,473.2L396.9,474.0L396.7,474.3L396.1,475.3L395.9,475.7L395.5,476.4L395.0,477.5L395.0,477.6L394.6,478.5L394.1,479.6L394.0,480.0L393.7,480.6L393.4,481.7L393.0,482.7L393.0,482.9L393.0,482.7L393.0,481.7L393.0,480.6L393.0,479.6L393.0,478.5L393.0,477.5L393.0,476.4L393.0,476.4L393.7,475.3L394.0,475.0L394.5,474.3L395.0,473.7L395.3,473.2L395.9,472.4L396.1,472.2L396.9,471.2L397.0,471.1L397.7,470.1L397.9,469.8L398.4,469.0L398.9,468.0L398.9,468.0L399.4,466.9L399.8,465.9L399.9,465.8L400.3,464.8L400.9,463.9L401.0,463.7L401.8,462.8L401.9,462.7L402.8,461.8L402.9,461.6L403.4,460.6L403.2,459.5L402.8,459.2L401.8,458.6L401.6,458.5L400.9,458.3L399.9,458.2L398.9,458.4L398.7,458.5L397.9,458.8L396.9,459.2L395.9,459.5L395.7,459.5L395.0,459.8L394.0,460.1L393.0,460.5L393.0,460.0L394.0,459.6L394.2,459.5L395.0,459.3L395.9,459.1L396.9,458.7L397.6,458.5ZM431.3,482.4L432.3,482.5L432.6,482.7L433.3,483.4L433.5,483.8L433.9,484.8L434.0,485.9L433.7,486.9L433.3,487.4L432.3,487.3L431.8,486.9L431.3,486.7L430.8,485.9L430.3,485.0L430.3,484.8L430.2,483.8L430.3,483.4L430.8,482.7Z" fill="#f19520" stroke="#9f6215" stroke-width="0.45"/>
<path d="M396.9,458.4L397.9,458.1L398.9,457.8L399.9,457.6L400.9,457.6L401.8,457.8L402.8,458.1L403.8,458.4L404.0,458.5L404.8,459.2L405.1,459.5L405.3,460.6L405.0,461.6L404.8,462.0L404.3,462.7L403.8,463.2L403.2,463.7L402.8,464.2L402.4,464.8L402.0,465.9L401.8,466.6L401.8,466.9L401.6,468.0L401.4,469.0L401.1,470.1L400.9,470.6L400.6,471.1L400.0,472.2L399.9,472.4L399.4,473.2L398.9,474.0L398.7,474.3L398.2,475.3L397.9,476.0L397.7,476.4L397.4,477.5L397.0,478.5L396.9,478.9L396.8,479.6L396.5,480.6L396.3,481.7L396.1,482.7L395.9,483.6L395.9,483.8L395.8,484.8L395.7,485.9L395.6,486.9L395.6,488.0L395.0,488.0L394.0,488.0L393.0,488.0L393.0,486.9L393.0,485.9L393.0,484.8L393.0,483.8L393.0,482.9L393.0,482.7L393.4,481.7L393.7,480.6L394.0,480.0L394.1,479.6L394.6,478.5L395.0,477.6L395.0,477.5L395.5,476.4L395.9,475.7L396.1,475.3L396.7,474.3L396.9,474.0L397.4,473.2L397.9,472.5L398.1,472.2L398.8,471.1L398.9,471.0L399.4,470.1L399.9,469.0L399.9,469.0L400.2,468.0L400.6,466.9L400.9,466.0L400.9,465.9L401.3,464.8L401.8,463.8L401.9,463.7L402.8,462.9L403.1,462.7L403.8,461.9L404.0,461.6L404.4,460.6L404.1,459.5L403.8,459.2L402.9,458.5L402.8,458.5L401.8,458.2L400.9,458.0L399.9,457.9L398.9,458.1L397.9,458.4L397.6,458.5L396.9,458.7L395.9,459.1L395.0,459.3L394.2,459.5L394.0,459.6L393.0,460.0L393.0,459.5L393.0,459.5L394.0,459.2L395.0,458.9L395.9,458.7L396.5,458.5ZM431.3,480.4L432.3,480.5L432.4,480.6L433.3,481.2L433.6,481.7L434.2,482.5L434.3,482.7L435.0,483.8L435.2,484.2L435.6,484.8L436.1,485.9L436.2,486.1L436.6,486.9L436.9,488.0L436.2,488.0L435.2,488.0L434.2,488.0L433.3,488.0L432.3,488.0L431.3,488.0L430.3,488.0L430.3,488.0L429.9,486.9L429.5,485.9L429.3,485.4L429.2,484.8L429.0,483.8L429.0,482.7L429.3,481.9L429.5,481.7L430.3,480.8L430.8,480.6ZM430.8,482.7L430.3,483.4L430.2,483.8L430.3,484.8L430.3,485.0L430.8,485.9L431.3,486.7L431.8,486.9L432.3,487.3L433.3,487.4L433.7,486.9L434.0,485.9L433.9,484.8L433.5,483.8L433.3,483.4L432.6,482.7L432.3,482.5L431.3,482.4Z" fill="#f4bb2b" stroke="#a17b1c" stroke-width="0.45"/>
<path d="M399.9,457.3L400.9,457.3L401.6,457.4L401.8,457.5L402.8,457.7L403.8,458.0L404.8,458.4L405.0,458.5L405.8,459.3L406.0,459.5L406.3,460.6L406.1,461.6L405.8,462.2L405.5,462.7L404.8,463.6L404.6,463.7L403.8,464.8L403.8,464.8L403.4,465.9L403.2,466.9L403.1,468.0L403.1,469.0L403.0,470.1L402.8,470.6L402.7,471.1L402.2,472.2L401.8,472.9L401.6,473.2L401.0,474.3L400.9,474.5L400.4,475.3L400.0,476.4L399.9,477.0L399.8,477.5L399.6,478.5L399.4,479.6L399.2,480.6L399.1,481.7L399.0,482.7L399.0,483.8L398.9,484.8L398.9,485.9L399.0,486.9L399.0,488.0L398.9,488.0L397.9,488.0L396.9,488.0L395.9,488.0L395.6,488.0L395.6,486.9L395.7,485.9L395.8,484.8L395.9,483.8L395.9,483.6L396.1,482.7L396.3,481.7L396.5,480.6L396.8,479.6L396.9,478.9L397.0,478.5L397.4,477.5L397.7,476.4L397.9,476.0L398.2,475.3L398.7,474.3L398.9,474.0L399.4,473.2L399.9,472.4L400.0,472.2L400.6,471.1L400.9,470.6L401.1,470.1L401.4,469.0L401.6,468.0L401.8,466.9L401.8,466.6L402.0,465.9L402.4,464.8L402.8,464.2L403.2,463.7L403.8,463.2L404.3,462.7L404.8,462.0L405.0,461.6L405.3,460.6L405.1,459.5L404.8,459.2L404.0,458.5L403.8,458.4L402.8,458.1L401.8,457.8L400.9,457.6L399.9,457.6L398.9,457.8L397.9,458.1L396.9,458.4L396.5,458.5L395.9,458.7L395.0,458.9L394.0,459.2L393.0,459.5L393.0,459.1L394.0,458.8L395.0,458.5L395.2,458.5L395.9,458.3L396.9,458.1L397.9,457.8L398.9,457.5L399.3,457.4ZM431.3,478.4L432.3,478.3L432.9,478.5L433.3,478.6L434.2,479.6L434.2,479.6L434.7,480.6L435.2,481.7L435.2,481.7L435.8,482.7L436.2,483.2L436.8,483.8L437.2,484.3L437.8,484.8L438.2,485.3L438.8,485.9L439.1,486.2L439.9,486.9L440.1,487.2L441.1,487.9L441.2,488.0L441.1,488.0L440.1,488.0L439.1,488.0L438.2,488.0L437.2,488.0L436.9,488.0L436.6,486.9L436.2,486.1L436.1,485.9L435.6,484.8L435.2,484.2L435.0,483.8L434.3,482.7L434.2,482.5L433.6,481.7L433.3,481.2L432.4,480.6L432.3,480.5L431.3,480.4L430.8,480.6L430.3,480.8L429.5,481.7L429.3,481.9L429.0,482.7L429.0,483.8L429.2,484.8L429.3,485.4L429.5,485.9L429.9,486.9L430.3,488.0L429.3,488.0L428.8,488.0L428.6,486.9L428.4,485.9L428.3,485.6L428.0,484.8L427.7,483.8L427.7,482.7L427.9,481.7L428.3,480.7L428.4,480.6L429.3,479.6L429.4,479.6L430.3,478.9L431.1,478.5Z" fill="#ecd040" stroke="#9b892a" stroke-width="0.45"/>
<path d="M398.9,457.3L399.9,457.1L400.9,457.1L401.8,457.2L402.8,457.3L403.4,457.4L403.8,457.5L404.8,457.9L405.8,458.4L405.9,458.5L406.7,459.3L407.0,459.5L407.4,460.6L407.2,461.6L406.7,462.6L406.7,462.7L406.0,463.7L405.8,464.1L405.4,464.8L405.0,465.9L404.8,466.9L404.8,468.0L404.9,469.0L405.0,470.1L404.9,471.1L404.8,471.7L404.7,472.2L404.3,473.2L403.9,474.3L403.8,474.6L403.5,475.3L403.1,476.4L402.8,477.5L402.8,477.5L402.6,478.5L402.5,479.6L402.4,480.6L402.4,481.7L402.3,482.7L402.3,483.8L402.4,484.8L402.4,485.9L402.5,486.9L402.7,488.0L401.8,488.0L400.9,488.0L399.9,488.0L399.0,488.0L399.0,486.9L398.9,485.9L398.9,484.8L399.0,483.8L399.0,482.7L399.1,481.7L399.2,480.6L399.4,479.6L399.6,478.5L399.8,477.5L399.9,477.0L400.0,476.4L400.4,475.3L400.9,474.5L401.0,474.3L401.6,473.2L401.8,472.9L402.2,472.2L402.7,471.1L402.8,470.6L403.0,470.1L403.1,469.0L403.1,468.0L403.2,466.9L403.4,465.9L403.8,464.8L403.8,464.8L404.6,463.7L404.8,463.6L405.5,462.7L405.8,462.2L406.1,461.6L406.3,460.6L406.0,459.5L405.8,459.3L405.0,458.5L404.8,458.4L403.8,458.0L402.8,457.7L401.8,457.5L401.6,457.4L400.9,457.3L399.9,457.3L399.3,457.4L398.9,457.5L397.9,457.8L396.9,458.1L395.9,458.3L395.2,458.5L395.0,458.5L394.0,458.8L393.0,459.1L393.0,458.7L393.7,458.5L394.0,458.4L395.0,458.2L395.9,458.0L396.9,457.8L397.9,457.5L398.2,457.4ZM432.3,476.3L433.3,476.4L433.3,476.4L434.2,476.7L435.2,477.3L435.5,477.5L436.2,478.4L436.3,478.5L436.8,479.6L437.0,480.6L437.2,480.9L437.7,481.7L438.2,482.0L439.1,482.7L439.3,482.7L440.1,483.1L441.1,483.6L441.7,483.8L442.1,483.9L443.1,484.2L444.1,484.4L445.0,484.5L446.0,484.6L447.0,484.5L447.0,484.8L447.0,485.9L447.0,486.9L447.0,488.0L446.0,488.0L445.0,488.0L444.1,488.0L443.1,488.0L442.1,488.0L441.2,488.0L441.1,487.9L440.1,487.2L439.9,486.9L439.1,486.2L438.8,485.9L438.2,485.3L437.8,484.8L437.2,484.3L436.8,483.8L436.2,483.2L435.8,482.7L435.2,481.7L435.2,481.7L434.7,480.6L434.2,479.6L434.2,479.6L433.3,478.6L432.9,478.5L432.3,478.3L431.3,478.4L431.1,478.5L430.3,478.9L429.4,479.6L429.3,479.6L428.4,480.6L428.3,480.7L427.9,481.7L427.7,482.7L427.7,483.8L428.0,484.8L428.3,485.6L428.4,485.9L428.6,486.9L428.8,488.0L428.3,488.0L427.4,488.0L427.1,488.0L427.2,486.9L427.0,485.9L426.6,484.8L426.4,483.9L426.3,483.8L426.2,482.7L426.4,481.7L426.4,481.6L426.8,480.6L427.4,479.8L427.5,479.6L428.3,478.7L428.5,478.5L429.3,477.8L429.8,477.5L430.3,477.1L431.3,476.6L431.8,476.4Z" fill="#f2dc34" stroke="#9f9122" stroke-width="0.45"/>
<path d="M397.9,457.3L398.9,457.1L399.9,456.9L400.9,456.9L401.8,457.0L402.8,457.1L403.8,457.2L404.8,457.4L404.8,457.4L405.8,457.9L406.7,458.4L407.0,458.5L407.7,459.2L408.2,459.5L408.5,460.6L408.4,461.6L408.0,462.7L407.7,463.2L407.4,463.7L406.9,464.8L406.7,465.5L406.7,465.9L406.6,466.9L406.7,468.0L406.7,468.0L406.9,469.0L407.1,470.1L407.1,471.1L407.1,472.2L406.9,473.2L406.8,474.3L406.7,474.6L406.6,475.3L406.5,476.4L406.3,477.5L406.2,478.5L406.2,479.6L406.2,480.6L406.3,481.7L406.4,482.7L406.5,483.8L406.6,484.8L406.7,485.9L406.7,486.6L406.8,486.9L407.0,488.0L406.7,488.0L405.8,488.0L404.8,488.0L403.8,488.0L402.8,488.0L402.7,488.0L402.5,486.9L402.4,485.9L402.4,484.8L402.3,483.8L402.3,482.7L402.4,481.7L402.4,480.6L402.5,479.6L402.6,478.5L402.8,477.5L402.8,477.5L403.1,476.4L403.5,475.3L403.8,474.6L403.9,474.3L404.3,473.2L404.7,472.2L404.8,471.7L404.9,471.1L405.0,470.1L404.9,469.0L404.8,468.0L404.8,466.9L405.0,465.9L405.4,464.8L405.8,464.1L406.0,463.7L406.7,462.7L406.7,462.6L407.2,461.6L407.4,460.6L407.0,459.5L406.7,459.3L405.9,458.5L405.8,458.4L404.8,457.9L403.8,457.5L403.4,457.4L402.8,457.3L401.8,457.2L400.9,457.1L399.9,457.1L398.9,457.3L398.2,457.4L397.9,457.5L396.9,457.8L395.9,458.0L395.0,458.2L394.0,458.4L393.7,458.5L393.0,458.7L393.0,458.5L393.0,458.3L394.0,458.1L395.0,457.9L395.9,457.7L396.9,457.5L397.2,457.4ZM431.3,475.2L432.3,475.0L433.3,474.9L434.2,475.0L435.2,475.1L436.2,475.3L436.9,475.3L437.2,475.4L438.2,475.6L439.1,475.9L440.1,476.3L440.5,476.4L441.1,476.7L442.1,477.2L442.9,477.5L443.1,477.5L444.1,477.8L445.0,477.9L446.0,478.0L447.0,478.0L447.0,478.5L447.0,479.6L447.0,480.6L447.0,481.7L447.0,482.7L447.0,483.8L447.0,484.5L446.0,484.6L445.0,484.5L444.1,484.4L443.1,484.2L442.1,483.9L441.7,483.8L441.1,483.6L440.1,483.1L439.3,482.7L439.1,482.7L438.2,482.0L437.7,481.7L437.2,480.9L437.0,480.6L436.8,479.6L436.3,478.5L436.2,478.4L435.5,477.5L435.2,477.3L434.2,476.7L433.3,476.4L433.3,476.4L432.3,476.3L431.8,476.4L431.3,476.6L430.3,477.1L429.8,477.5L429.3,477.8L428.5,478.5L428.3,478.7L427.5,479.6L427.4,479.8L426.8,480.6L426.4,481.6L426.4,481.7L426.2,482.7L426.3,483.8L426.4,483.9L426.6,484.8L427.0,485.9L427.2,486.9L427.1,488.0L426.4,488.0L425.4,488.0L424.7,488.0L424.8,486.9L424.8,485.9L424.7,484.8L424.6,483.8L424.6,482.7L424.8,481.7L425.2,480.6L425.4,480.3L425.9,479.6L426.4,478.9L426.8,478.5L427.4,477.9L427.8,477.5L428.3,477.0L429.1,476.4L429.3,476.2L430.3,475.6L430.9,475.3Z" fill="#ded438" stroke="#928b24" stroke-width="0.45"/>
<path d="M395.9,457.4L396.9,457.2L397.9,457.0L398.9,456.9L399.9,456.7L400.9,456.7L401.8,456.7L402.8,456.8L403.8,456.9L404.8,457.1L405.8,457.4L405.9,457.4L406.7,457.8L407.7,458.2L408.3,458.5L408.7,458.8L409.5,459.5L409.7,460.2L409.8,460.6L409.7,461.6L409.7,461.6L409.3,462.7L408.8,463.7L408.7,464.2L408.5,464.8L408.4,465.9L408.5,466.9L408.7,467.6L408.8,468.0L409.2,469.0L409.5,470.1L409.5,471.1L409.4,472.2L409.3,473.2L409.1,474.3L409.1,475.3L409.1,476.4L409.2,477.5L409.4,478.5L409.7,479.3L409.8,479.6L410.5,480.6L410.7,480.9L411.6,481.7L411.7,481.8L412.6,482.5L413.1,482.7L413.6,483.4L413.9,483.8L414.3,484.8L414.6,485.5L414.8,485.9L415.4,486.9L415.6,487.1L416.6,487.8L417.2,488.0L416.6,488.0L415.6,488.0L414.6,488.0L413.6,488.0L412.6,488.0L411.7,488.0L410.7,488.0L409.7,488.0L408.7,488.0L407.7,488.0L407.0,488.0L406.8,486.9L406.7,486.6L406.7,485.9L406.6,484.8L406.5,483.8L406.4,482.7L406.3,481.7L406.2,480.6L406.2,479.6L406.2,478.5L406.3,477.5L406.5,476.4L406.6,475.3L406.7,474.6L406.8,474.3L406.9,473.2L407.1,472.2L407.1,471.1L407.1,470.1L406.9,469.0L406.7,468.0L406.7,468.0L406.6,466.9L406.7,465.9L406.7,465.5L406.9,464.8L407.4,463.7L407.7,463.2L408.0,462.7L408.4,461.6L408.5,460.6L408.2,459.5L407.7,459.2L407.0,458.5L406.7,458.4L405.8,457.9L404.8,457.4L404.8,457.4L403.8,457.2L402.8,457.1L401.8,457.0L400.9,456.9L399.9,456.9L398.9,457.1L397.9,457.3L397.2,457.4L396.9,457.5L395.9,457.7L395.0,457.9L394.0,458.1L393.0,458.3L393.0,457.9L394.0,457.8L395.0,457.6L395.9,457.4ZM442.1,472.1L443.1,471.9L444.1,471.8L445.0,471.7L446.0,471.6L447.0,471.5L447.0,472.2L447.0,473.2L447.0,474.3L447.0,475.3L447.0,476.4L447.0,477.5L447.0,478.0L446.0,478.0L445.0,477.9L444.1,477.8L443.1,477.5L442.9,477.5L442.1,477.2L441.1,476.7L440.5,476.4L440.1,476.3L439.1,475.9L438.2,475.6L437.2,475.4L436.9,475.3L436.2,475.3L435.2,475.1L434.2,475.0L433.3,474.9L432.3,475.0L431.3,475.2L430.9,475.3L430.3,475.6L429.3,476.2L429.1,476.4L428.3,477.0L427.8,477.5L427.4,477.9L426.8,478.5L426.4,478.9L425.9,479.6L425.4,480.3L425.2,480.6L424.8,481.7L424.6,482.7L424.6,483.8L424.7,484.8L424.8,485.9L424.8,486.9L424.7,488.0L424.4,488.0L423.4,488.0L422.5,488.0L421.5,488.0L420.5,488.0L419.5,488.0L418.8,488.0L419.5,487.8L420.5,487.2L420.7,486.9L421.4,485.9L421.5,485.8L421.9,484.8L422.2,483.8L422.5,483.1L422.6,482.7L422.9,481.7L423.4,480.6L423.4,480.6L424.0,479.6L424.4,479.1L424.9,478.5L425.4,478.0L426.0,477.5L426.4,477.1L427.2,476.4L427.4,476.3L428.3,475.5L428.6,475.3L429.3,474.9L430.3,474.4L430.6,474.3L431.3,474.0L432.3,473.8L433.3,473.7L434.2,473.7L435.2,473.6L436.2,473.5L437.2,473.4L437.8,473.2L438.2,473.1L439.1,472.9L440.1,472.6L441.1,472.3L441.7,472.2Z" fill="#c2c640" stroke="#80822a" stroke-width="0.45"/>
<path d="M395.0,457.3L395.9,457.2L396.9,457.0L397.9,456.8L398.9,456.6L399.9,456.5L400.9,456.5L401.8,456.5L402.8,456.5L403.8,456.6L404.8,456.8L405.8,457.0L406.7,457.3L407.3,457.4L407.7,457.6L408.7,458.0L409.7,458.4L409.8,458.5L410.7,459.4L410.8,459.5L411.2,460.6L411.1,461.6L410.8,462.7L410.7,463.1L410.4,463.7L410.2,464.8L410.4,465.9L410.7,466.9L410.7,466.9L411.1,468.0L411.6,469.0L411.7,469.4L411.8,470.1L411.8,471.1L411.7,472.2L411.7,472.2L411.4,473.2L411.2,474.3L411.2,475.3L411.2,476.4L411.6,477.5L411.7,477.6L412.3,478.5L412.6,478.8L413.6,479.5L413.7,479.6L414.6,480.0L415.6,480.5L415.8,480.6L416.6,481.1L417.5,481.5L418.3,481.7L418.5,481.7L419.0,481.7L419.5,481.6L420.5,480.9L420.7,480.6L421.5,479.7L421.6,479.6L422.5,478.6L422.5,478.5L423.4,477.7L423.7,477.5L424.4,476.9L425.1,476.4L425.4,476.2L426.4,475.4L426.5,475.3L427.4,474.7L428.0,474.3L428.3,474.1L429.3,473.6L430.2,473.2L430.3,473.2L431.3,472.9L432.3,472.7L433.3,472.6L434.2,472.5L435.2,472.3L435.5,472.2L436.2,472.0L437.2,471.5L438.0,471.1L438.2,471.0L439.1,470.3L439.5,470.1L440.1,469.7L441.1,469.1L441.3,469.0L442.1,468.5L443.0,468.0L443.1,467.9L444.1,467.2L444.4,466.9L445.0,466.2L445.4,465.9L446.0,465.1L446.3,464.8L447.0,463.8L447.0,464.8L447.0,465.9L447.0,466.9L447.0,468.0L447.0,469.0L447.0,470.1L447.0,471.1L447.0,471.5L446.0,471.6L445.0,471.7L444.1,471.8L443.1,471.9L442.1,472.1L441.7,472.2L441.1,472.3L440.1,472.6L439.1,472.9L438.2,473.1L437.8,473.2L437.2,473.4L436.2,473.5L435.2,473.6L434.2,473.7L433.3,473.7L432.3,473.8L431.3,474.0L430.6,474.3L430.3,474.4L429.3,474.9L428.6,475.3L428.3,475.5L427.4,476.3L427.2,476.4L426.4,477.1L426.0,477.5L425.4,478.0L424.9,478.5L424.4,479.1L424.0,479.6L423.4,480.6L423.4,480.6L422.9,481.7L422.6,482.7L422.5,483.1L422.2,483.8L421.9,484.8L421.5,485.8L421.4,485.9L420.7,486.9L420.5,487.2L419.5,487.8L418.8,488.0L418.5,488.0L417.5,488.0L417.2,488.0L416.6,487.8L415.6,487.1L415.4,486.9L414.8,485.9L414.6,485.5L414.3,484.8L413.9,483.8L413.6,483.4L413.1,482.7L412.6,482.5L411.7,481.8L411.6,481.7L410.7,480.9L410.5,480.6L409.8,479.6L409.7,479.3L409.4,478.5L409.2,477.5L409.1,476.4L409.1,475.3L409.1,474.3L409.3,473.2L409.4,472.2L409.5,471.1L409.5,470.1L409.2,469.0L408.8,468.0L408.7,467.6L408.5,466.9L408.4,465.9L408.5,464.8L408.7,464.2L408.8,463.7L409.3,462.7L409.7,461.6L409.7,461.6L409.8,460.6L409.7,460.2L409.5,459.5L408.7,458.8L408.3,458.5L407.7,458.2L406.7,457.8L405.9,457.4L405.8,457.4L404.8,457.1L403.8,456.9L402.8,456.8L401.8,456.7L400.9,456.7L399.9,456.7L398.9,456.9L397.9,457.0L396.9,457.2L395.9,457.4L395.9,457.4L395.0,457.6L394.0,457.8L393.0,457.9L393.0,457.6L394.0,457.4L394.1,457.4Z" fill="#b1c040" stroke="#747e2a" stroke-width="0.45"/>
<path d="M446.0,449.7L447.0,449.5L447.0,450.0L447.0,451.1L447.0,452.1L447.0,453.2L447.0,454.3L447.0,455.3L447.0,456.4L447.0,457.4L447.0,458.5L447.0,459.5L447.0,460.6L447.0,461.6L447.0,462.7L447.0,463.7L447.0,463.8L446.3,464.8L446.0,465.1L445.4,465.9L445.0,466.2L444.4,466.9L444.1,467.2L443.1,467.9L443.0,468.0L442.1,468.5L441.3,469.0L441.1,469.1L440.1,469.7L439.5,470.1L439.1,470.3L438.2,471.0L438.0,471.1L437.2,471.5L436.2,472.0L435.5,472.2L435.2,472.3L434.2,472.5L433.3,472.6L432.3,472.7L431.3,472.9L430.3,473.2L430.2,473.2L429.3,473.6L428.3,474.1L428.0,474.3L427.4,474.7L426.5,475.3L426.4,475.4L425.4,476.2L425.1,476.4L424.4,476.9L423.7,477.5L423.4,477.7L422.5,478.5L422.5,478.6L421.6,479.6L421.5,479.7L420.7,480.6L420.5,480.9L419.5,481.6L419.0,481.7L418.5,481.7L418.3,481.7L417.5,481.5L416.6,481.1L415.8,480.6L415.6,480.5L414.6,480.0L413.7,479.6L413.6,479.5L412.6,478.8L412.3,478.5L411.7,477.6L411.6,477.5L411.2,476.4L411.2,475.3L411.2,474.3L411.4,473.2L411.7,472.2L411.7,472.2L411.8,471.1L411.8,470.1L411.7,469.4L411.6,469.0L411.1,468.0L410.7,466.9L410.7,466.9L410.4,465.9L410.2,464.8L410.4,463.7L410.7,463.1L410.8,462.7L411.1,461.6L411.2,460.6L410.8,459.5L410.7,459.4L409.8,458.5L409.7,458.4L408.7,458.0L407.7,457.6L407.3,457.4L406.7,457.3L405.8,457.0L404.8,456.8L403.8,456.6L402.8,456.5L401.8,456.5L400.9,456.5L399.9,456.5L398.9,456.6L397.9,456.8L396.9,457.0L395.9,457.2L395.0,457.3L394.1,457.4L394.0,457.4L393.0,457.6L393.0,457.4L393.0,457.3L394.0,457.2L395.0,457.0L395.9,456.9L396.9,456.8L397.9,456.6L398.9,456.4L399.4,456.4L399.9,456.3L400.9,456.3L401.8,456.2L402.8,456.3L403.8,456.3L404.3,456.4L404.8,456.4L405.8,456.6L406.7,456.9L407.7,457.1L408.7,457.4L409.0,457.4L409.7,457.7L410.7,458.2L411.2,458.5L411.7,459.0L412.1,459.5L412.6,460.6L412.6,461.0L412.7,461.6L412.6,462.5L412.6,462.7L412.5,463.7L412.5,464.8L412.6,465.4L412.8,465.9L413.3,466.9L413.6,467.6L413.9,468.0L414.5,469.0L414.6,469.3L414.9,470.1L414.9,471.1L414.6,472.0L414.6,472.2L414.1,473.2L413.6,474.2L413.6,474.3L413.4,475.3L413.6,476.4L413.6,476.5L414.6,477.3L414.9,477.5L415.6,477.7L416.6,477.9L417.5,477.9L418.5,477.7L419.1,477.5L419.5,477.3L420.5,476.8L421.1,476.4L421.5,476.2L422.5,475.7L423.1,475.3L423.4,475.2L424.4,474.7L425.1,474.3L425.4,474.1L426.4,473.6L427.0,473.2L427.4,473.1L428.3,472.6L429.3,472.3L429.6,472.2L430.3,471.9L431.3,471.7L432.3,471.5L433.3,471.4L434.2,471.2L434.5,471.1L435.2,470.8L436.2,470.3L436.5,470.1L437.2,469.6L437.8,469.0L438.2,468.7L439.0,468.0L439.1,467.8L440.1,467.0L440.2,466.9L441.1,466.1L441.3,465.9L442.1,464.8L442.1,464.8L442.8,463.7L443.1,463.1L443.3,462.7L443.8,461.6L444.1,461.0L444.2,460.6L444.5,459.5L444.8,458.5L445.0,457.4L445.0,457.0L445.1,456.4L445.3,455.3L445.3,454.3L445.3,453.2L445.3,452.1L445.4,451.1L445.8,450.0Z" fill="#92b840" stroke="#60792a" stroke-width="0.45"/>
<path d="M443.1,443.6L444.1,443.0L445.0,442.8L446.0,443.0L447.0,443.5L447.0,443.7L447.0,444.8L447.0,445.8L447.0,446.9L447.0,447.9L447.0,449.0L447.0,449.5L446.0,449.7L445.8,450.0L445.4,451.1L445.3,452.1L445.3,453.2L445.3,454.3L445.3,455.3L445.1,456.4L445.0,457.0L445.0,457.4L444.8,458.5L444.5,459.5L444.2,460.6L444.1,461.0L443.8,461.6L443.3,462.7L443.1,463.1L442.8,463.7L442.1,464.8L442.1,464.8L441.3,465.9L441.1,466.1L440.2,466.9L440.1,467.0L439.1,467.8L439.0,468.0L438.2,468.7L437.8,469.0L437.2,469.6L436.5,470.1L436.2,470.3L435.2,470.8L434.5,471.1L434.2,471.2L433.3,471.4L432.3,471.5L431.3,471.7L430.3,471.9L429.6,472.2L429.3,472.3L428.3,472.6L427.4,473.1L427.0,473.2L426.4,473.6L425.4,474.1L425.1,474.3L424.4,474.7L423.4,475.2L423.1,475.3L422.5,475.7L421.5,476.2L421.1,476.4L420.5,476.8L419.5,477.3L419.1,477.5L418.5,477.7L417.5,477.9L416.6,477.9L415.6,477.7L414.9,477.5L414.6,477.3L413.6,476.5L413.6,476.4L413.4,475.3L413.6,474.3L413.6,474.2L414.1,473.2L414.6,472.2L414.6,472.0L414.9,471.1L414.9,470.1L414.6,469.3L414.5,469.0L413.9,468.0L413.6,467.6L413.3,466.9L412.8,465.9L412.6,465.4L412.5,464.8L412.5,463.7L412.6,462.7L412.6,462.5L412.7,461.6L412.6,461.0L412.6,460.6L412.1,459.5L411.7,459.0L411.2,458.5L410.7,458.2L409.7,457.7L409.0,457.4L408.7,457.4L407.7,457.1L406.7,456.9L405.8,456.6L404.8,456.4L404.3,456.4L403.8,456.3L402.8,456.3L401.8,456.2L400.9,456.3L399.9,456.3L399.4,456.4L398.9,456.4L397.9,456.6L396.9,456.8L395.9,456.9L395.0,457.0L394.0,457.2L393.0,457.3L393.0,457.0L394.0,456.9L395.0,456.8L395.9,456.7L396.9,456.5L397.9,456.4L398.0,456.4L398.9,456.2L399.9,456.1L400.9,456.1L401.8,456.0L402.8,456.0L403.8,456.1L404.8,456.1L405.8,456.3L406.4,456.4L406.7,456.4L407.7,456.7L408.7,456.9L409.7,457.1L410.7,457.4L410.8,457.4L411.7,457.9L412.6,458.5L412.6,458.5L413.6,459.5L413.7,459.5L414.2,460.6L414.5,461.6L414.5,462.7L414.6,463.6L414.6,463.7L414.9,464.8L415.4,465.9L415.6,466.1L416.3,466.9L416.6,467.3L417.2,468.0L417.5,468.4L418.0,469.0L418.5,469.9L418.7,470.1L419.3,471.1L419.5,471.4L420.5,472.1L420.7,472.2L421.5,472.4L422.5,472.4L423.4,472.4L424.3,472.2L424.4,472.2L425.4,471.9L426.4,471.6L427.4,471.3L428.1,471.1L428.3,471.0L429.3,470.7L430.3,470.5L431.3,470.3L432.3,470.1L432.8,470.1L433.3,470.0L434.2,469.6L435.1,469.0L435.2,468.9L436.2,468.0L436.2,467.9L437.1,466.9L437.2,466.8L438.1,465.9L438.2,465.8L439.0,464.8L439.1,464.7L439.9,463.7L440.1,463.2L440.4,462.7L440.8,461.6L441.1,460.8L441.2,460.6L441.5,459.5L441.7,458.5L441.8,457.4L441.9,456.4L441.9,455.3L441.8,454.3L441.8,453.2L441.7,452.1L441.6,451.1L441.4,450.0L441.3,449.0L441.3,447.9L441.4,446.9L441.7,445.8L442.1,444.8L442.1,444.8L442.9,443.7Z" fill="#7ab247" stroke="#50752e" stroke-width="0.45"/>
<path d="M445.0,435.2L446.0,435.0L447.0,434.9L447.0,435.3L447.0,436.3L447.0,437.4L447.0,438.4L447.0,439.5L447.0,440.5L447.0,441.6L447.0,442.7L447.0,443.5L446.0,443.0L445.0,442.8L444.1,443.0L443.1,443.6L442.9,443.7L442.1,444.8L442.1,444.8L441.7,445.8L441.4,446.9L441.3,447.9L441.3,449.0L441.4,450.0L441.6,451.1L441.7,452.1L441.8,453.2L441.8,454.3L441.9,455.3L441.9,456.4L441.8,457.4L441.7,458.5L441.5,459.5L441.2,460.6L441.1,460.8L440.8,461.6L440.4,462.7L440.1,463.2L439.9,463.7L439.1,464.7L439.0,464.8L438.2,465.8L438.1,465.9L437.2,466.8L437.1,466.9L436.2,467.9L436.2,468.0L435.2,468.9L435.1,469.0L434.2,469.6L433.3,470.0L432.8,470.1L432.3,470.1L431.3,470.3L430.3,470.5L429.3,470.7L428.3,471.0L428.1,471.1L427.4,471.3L426.4,471.6L425.4,471.9L424.4,472.2L424.3,472.2L423.4,472.4L422.5,472.4L421.5,472.4L420.7,472.2L420.5,472.1L419.5,471.4L419.3,471.1L418.7,470.1L418.5,469.9L418.0,469.0L417.5,468.4L417.2,468.0L416.6,467.3L416.3,466.9L415.6,466.1L415.4,465.9L414.9,464.8L414.6,463.7L414.6,463.6L414.5,462.7L414.5,461.6L414.2,460.6L413.7,459.5L413.6,459.5L412.6,458.5L412.6,458.5L411.7,457.9L410.8,457.4L410.7,457.4L409.7,457.1L408.7,456.9L407.7,456.7L406.7,456.4L406.4,456.4L405.8,456.3L404.8,456.1L403.8,456.1L402.8,456.0L401.8,456.0L400.9,456.1L399.9,456.1L398.9,456.2L398.0,456.4L397.9,456.4L396.9,456.5L395.9,456.7L395.0,456.8L394.0,456.9L393.0,457.0L393.0,456.7L394.0,456.6L395.0,456.5L395.9,456.4L396.4,456.4L396.9,456.3L397.9,456.2L398.9,456.1L399.9,455.9L400.9,455.9L401.8,455.8L402.8,455.8L403.8,455.8L404.8,455.9L405.8,455.9L406.7,456.1L407.7,456.2L408.5,456.4L408.7,456.4L409.7,456.6L410.7,456.8L411.7,457.2L412.4,457.4L412.6,457.6L413.6,458.1L414.4,458.5L414.6,458.6L415.5,459.5L415.6,459.6L416.1,460.6L416.5,461.6L416.6,461.9L416.8,462.7L417.2,463.7L417.5,464.3L418.0,464.8L418.5,465.4L419.0,465.9L419.5,466.3L420.2,466.9L420.5,467.1L421.5,467.9L421.6,468.0L422.5,468.5L423.4,468.8L424.3,469.0L424.4,469.0L425.4,469.1L426.4,469.1L427.3,469.0L427.4,469.0L428.3,468.8L429.3,468.5L430.3,468.3L431.3,468.0L431.5,468.0L432.3,467.6L433.3,467.0L433.3,466.9L434.2,465.9L434.2,465.9L435.0,464.8L435.2,464.5L435.8,463.7L436.2,463.2L436.5,462.7L437.2,461.7L437.2,461.6L437.7,460.6L438.1,459.5L438.2,459.3L438.4,458.5L438.5,457.4L438.5,456.4L438.5,455.3L438.5,454.3L438.4,453.2L438.3,452.1L438.2,451.3L438.1,451.1L438.0,450.0L437.9,449.0L437.9,447.9L438.1,446.9L438.2,446.6L438.3,445.8L438.6,444.8L439.0,443.7L439.1,443.5L439.6,442.7L440.1,441.8L440.3,441.6L441.0,440.5L441.1,440.4L441.6,439.5L442.1,438.5L442.1,438.4L442.7,437.4L443.1,436.7L443.4,436.3L444.1,435.7L444.9,435.3Z" fill="#6fb04a" stroke="#497430" stroke-width="0.45"/>
<path d="M447.0,431.0L447.0,431.1L447.0,432.1L447.0,433.2L447.0,434.2L447.0,434.9L446.0,435.0L445.0,435.2L444.9,435.3L444.1,435.7L443.4,436.3L443.1,436.7L442.7,437.4L442.1,438.4L442.1,438.5L441.6,439.5L441.1,440.4L441.0,440.5L440.3,441.6L440.1,441.8L439.6,442.7L439.1,443.5L439.0,443.7L438.6,444.8L438.3,445.8L438.2,446.6L438.1,446.9L437.9,447.9L437.9,449.0L438.0,450.0L438.1,451.1L438.2,451.3L438.3,452.1L438.4,453.2L438.5,454.3L438.5,455.3L438.5,456.4L438.5,457.4L438.4,458.5L438.2,459.3L438.1,459.5L437.7,460.6L437.2,461.6L437.2,461.7L436.5,462.7L436.2,463.2L435.8,463.7L435.2,464.5L435.0,464.8L434.2,465.9L434.2,465.9L433.3,466.9L433.3,467.0L432.3,467.6L431.5,468.0L431.3,468.0L430.3,468.3L429.3,468.5L428.3,468.8L427.4,469.0L427.3,469.0L426.4,469.1L425.4,469.1L424.4,469.0L424.3,469.0L423.4,468.8L422.5,468.5L421.6,468.0L421.5,467.9L420.5,467.1L420.2,466.9L419.5,466.3L419.0,465.9L418.5,465.4L418.0,464.8L417.5,464.3L417.2,463.7L416.8,462.7L416.6,461.9L416.5,461.6L416.1,460.6L415.6,459.6L415.5,459.5L414.6,458.6L414.4,458.5L413.6,458.1L412.6,457.6L412.4,457.4L411.7,457.2L410.7,456.8L409.7,456.6L408.7,456.4L408.5,456.4L407.7,456.2L406.7,456.1L405.8,455.9L404.8,455.9L403.8,455.8L402.8,455.8L401.8,455.8L400.9,455.9L399.9,455.9L398.9,456.1L397.9,456.2L396.9,456.3L396.4,456.4L395.9,456.4L395.0,456.5L394.0,456.6L393.0,456.7L393.0,456.4L393.0,456.4L394.0,456.3L395.0,456.3L395.9,456.2L396.9,456.1L397.9,456.0L398.9,455.9L399.9,455.8L400.9,455.7L401.8,455.6L402.8,455.6L403.8,455.6L404.8,455.6L405.8,455.6L406.7,455.7L407.7,455.9L408.7,456.0L409.7,456.1L410.7,456.3L411.0,456.4L411.7,456.5L412.6,456.8L413.6,457.1L414.6,457.4L414.7,457.4L415.6,457.8L416.6,458.4L416.7,458.5L417.5,459.4L417.6,459.5L418.4,460.6L418.5,460.8L419.2,461.6L419.5,462.1L420.2,462.7L420.5,463.0L421.5,463.6L421.8,463.7L422.5,464.1L423.4,464.4L424.4,464.6L425.4,464.6L426.4,464.5L427.4,464.1L428.3,463.7L428.3,463.7L429.3,463.3L430.3,462.8L430.4,462.7L431.3,462.0L431.6,461.6L432.3,460.9L432.5,460.6L433.2,459.5L433.3,459.4L433.7,458.5L434.0,457.4L434.1,456.4L434.2,455.3L434.1,454.3L434.0,453.2L434.0,452.1L434.0,451.1L434.1,450.0L434.1,449.0L434.1,447.9L434.0,446.9L433.9,445.8L433.9,444.8L433.9,443.7L433.8,442.7L433.7,441.6L433.5,440.5L433.3,439.9L433.0,439.5L432.3,438.5L432.2,438.4L432.3,438.4L433.3,438.1L434.2,437.8L435.1,437.4L435.2,437.4L436.2,436.8L436.8,436.3L437.2,436.1L438.0,435.3L438.2,435.2L439.1,434.2L439.1,434.2L440.1,433.3L440.3,433.2L441.1,432.5L441.7,432.1L442.1,431.9L443.1,431.6L444.1,431.4L445.0,431.2L446.0,431.1L446.3,431.1Z" fill="#6eb04b" stroke="#487431" stroke-width="0.45"/>
<path d="M440.1,430.8L441.1,430.3L441.7,430.0L442.1,430.0L443.1,430.0L444.1,430.0L445.0,430.0L446.0,430.0L447.0,430.0L447.0,431.0L446.3,431.1L446.0,431.1L445.0,431.2L444.1,431.4L443.1,431.6L442.1,431.9L441.7,432.1L441.1,432.5L440.3,433.2L440.1,433.3L439.1,434.2L439.1,434.2L438.2,435.2L438.0,435.3L437.2,436.1L436.8,436.3L436.2,436.8L435.2,437.4L435.1,437.4L434.2,437.8L433.3,438.1L432.3,438.4L432.2,438.4L432.3,438.5L433.0,439.5L433.3,439.9L433.5,440.5L433.7,441.6L433.8,442.7L433.9,443.7L433.9,444.8L433.9,445.8L434.0,446.9L434.1,447.9L434.1,449.0L434.1,450.0L434.0,451.1L434.0,452.1L434.0,453.2L434.1,454.3L434.2,455.3L434.1,456.4L434.0,457.4L433.7,458.5L433.3,459.4L433.2,459.5L432.5,460.6L432.3,460.9L431.6,461.6L431.3,462.0L430.4,462.7L430.3,462.8L429.3,463.3L428.3,463.7L428.3,463.7L427.4,464.1L426.4,464.5L425.4,464.6L424.4,464.6L423.4,464.4L422.5,464.1L421.8,463.7L421.5,463.6L420.5,463.0L420.2,462.7L419.5,462.1L419.2,461.6L418.5,460.8L418.4,460.6L417.6,459.5L417.5,459.4L416.7,458.5L416.6,458.4L415.6,457.8L414.7,457.4L414.6,457.4L413.6,457.1L412.6,456.8L411.7,456.5L411.0,456.4L410.7,456.3L409.7,456.1L408.7,456.0L407.7,455.9L406.7,455.7L405.8,455.6L404.8,455.6L403.8,455.6L402.8,455.6L401.8,455.6L400.9,455.7L399.9,455.8L398.9,455.9L397.9,456.0L396.9,456.1L395.9,456.2L395.0,456.3L394.0,456.3L393.0,456.4L393.0,456.1L394.0,456.0L395.0,456.0L395.9,456.0L396.9,455.9L397.9,455.8L398.9,455.7L399.9,455.6L400.9,455.5L401.8,455.4L402.8,455.4L403.7,455.3L403.8,455.3L404.8,455.3L405.8,455.3L405.8,455.3L406.7,455.4L407.7,455.5L408.7,455.6L409.7,455.7L410.7,455.8L411.7,456.0L412.6,456.2L413.6,456.3L413.9,456.4L414.6,456.5L415.6,456.7L416.6,457.0L417.5,457.4L417.5,457.4L418.5,458.1L419.0,458.5L419.5,458.9L420.2,459.5L420.5,459.8L421.5,460.4L422.0,460.6L422.5,460.8L423.4,461.0L424.4,461.0L425.4,460.8L425.9,460.6L426.4,460.4L427.4,459.9L427.9,459.5L428.3,459.2L429.1,458.5L429.3,458.2L429.9,457.4L430.3,456.7L430.5,456.4L430.9,455.3L431.2,454.3L431.3,453.8L431.4,453.2L431.6,452.1L431.7,451.1L431.8,450.0L431.9,449.0L431.9,447.9L431.8,446.9L431.7,445.8L431.5,444.8L431.3,444.3L431.1,443.7L430.6,442.7L430.3,442.3L429.8,441.6L429.3,441.0L429.0,440.5L428.4,439.5L428.3,439.4L428.1,438.4L428.0,437.4L428.1,436.3L428.3,435.8L428.7,435.3L429.3,434.9L430.3,434.5L431.3,434.4L432.3,434.3L432.9,434.2L433.3,434.2L434.2,434.0L435.2,433.7L436.2,433.2L436.3,433.2L437.2,432.7L438.1,432.1L438.2,432.1L439.1,431.4L439.7,431.1Z" fill="#6cb04c" stroke="#477432" stroke-width="0.45"/>
<path d="M437.2,430.8L438.2,430.2L438.5,430.0L439.1,430.0L440.1,430.0L441.1,430.0L441.7,430.0L441.1,430.3L440.1,430.8L439.7,431.1L439.1,431.4L438.2,432.1L438.1,432.1L437.2,432.7L436.3,433.2L436.2,433.2L435.2,433.7L434.2,434.0L433.3,434.2L432.9,434.2L432.3,434.3L431.3,434.4L430.3,434.5L429.3,434.9L428.7,435.3L428.3,435.8L428.1,436.3L428.0,437.4L428.1,438.4L428.3,439.4L428.4,439.5L429.0,440.5L429.3,441.0L429.8,441.6L430.3,442.3L430.6,442.7L431.1,443.7L431.3,444.3L431.5,444.8L431.7,445.8L431.8,446.9L431.9,447.9L431.9,449.0L431.8,450.0L431.7,451.1L431.6,452.1L431.4,453.2L431.3,453.8L431.2,454.3L430.9,455.3L430.5,456.4L430.3,456.7L429.9,457.4L429.3,458.2L429.1,458.5L428.3,459.2L427.9,459.5L427.4,459.9L426.4,460.4L425.9,460.6L425.4,460.8L424.4,461.0L423.4,461.0L422.5,460.8L422.0,460.6L421.5,460.4L420.5,459.8L420.2,459.5L419.5,458.9L419.0,458.5L418.5,458.1L417.5,457.4L417.5,457.4L416.6,457.0L415.6,456.7L414.6,456.5L413.9,456.4L413.6,456.3L412.6,456.2L411.7,456.0L410.7,455.8L409.7,455.7L408.7,455.6L407.7,455.5L406.7,455.4L405.8,455.3L405.8,455.3L404.8,455.3L403.8,455.3L403.7,455.3L402.8,455.4L401.8,455.4L400.9,455.5L399.9,455.6L398.9,455.7L397.9,455.8L396.9,455.9L395.9,456.0L395.0,456.0L394.0,456.0L393.0,456.1L393.0,455.8L394.0,455.8L395.0,455.8L395.9,455.7L396.9,455.7L397.9,455.6L398.9,455.5L399.9,455.4L400.8,455.3L400.9,455.3L401.8,455.2L402.8,455.1L403.8,455.1L404.8,455.0L405.8,455.0L406.7,455.0L407.7,455.1L408.7,455.2L409.7,455.3L409.9,455.3L410.7,455.4L411.7,455.5L412.6,455.6L413.6,455.6L414.6,455.7L415.6,455.8L416.6,455.9L417.5,456.1L418.5,456.3L418.6,456.4L419.5,456.7L420.5,457.2L421.0,457.4L421.5,457.7L422.5,458.0L423.4,458.0L424.4,457.7L425.0,457.4L425.4,457.2L426.4,456.5L426.6,456.4L427.4,455.6L427.6,455.3L428.3,454.4L428.4,454.3L429.0,453.2L429.3,452.5L429.5,452.1L429.8,451.1L430.0,450.0L430.1,449.0L430.2,447.9L430.1,446.9L430.0,445.8L429.7,444.8L429.3,444.0L429.2,443.7L428.6,442.7L428.3,442.3L427.9,441.6L427.4,440.7L427.3,440.5L426.9,439.5L426.6,438.4L426.6,437.4L426.7,436.3L427.1,435.3L427.4,434.9L427.9,434.2L428.3,433.9L429.3,433.5L430.3,433.2L430.5,433.2L431.3,433.0L432.3,432.8L433.3,432.5L434.2,432.2L434.5,432.1L435.2,431.8L436.2,431.3L436.7,431.1Z" fill="#74b55e" stroke="#4c773e" stroke-width="0.45"/>
<path d="M434.2,430.8L435.2,430.4L435.9,430.0L436.2,430.0L437.2,430.0L438.2,430.0L438.5,430.0L438.2,430.2L437.2,430.8L436.7,431.1L436.2,431.3L435.2,431.8L434.5,432.1L434.2,432.2L433.3,432.5L432.3,432.8L431.3,433.0L430.5,433.2L430.3,433.2L429.3,433.5L428.3,433.9L427.9,434.2L427.4,434.9L427.1,435.3L426.7,436.3L426.6,437.4L426.6,438.4L426.9,439.5L427.3,440.5L427.4,440.7L427.9,441.6L428.3,442.3L428.6,442.7L429.2,443.7L429.3,444.0L429.7,444.8L430.0,445.8L430.1,446.9L430.2,447.9L430.1,449.0L430.0,450.0L429.8,451.1L429.5,452.1L429.3,452.5L429.0,453.2L428.4,454.3L428.3,454.4L427.6,455.3L427.4,455.6L426.6,456.4L426.4,456.5L425.4,457.2L425.0,457.4L424.4,457.7L423.4,458.0L422.5,458.0L421.5,457.7L421.0,457.4L420.5,457.2L419.5,456.7L418.6,456.4L418.5,456.3L417.5,456.1L416.6,455.9L415.6,455.8L414.6,455.7L413.6,455.6L412.6,455.6L411.7,455.5L410.7,455.4L409.9,455.3L409.7,455.3L408.7,455.2L407.7,455.1L406.7,455.0L405.8,455.0L404.8,455.0L403.8,455.1L402.8,455.1L401.8,455.2L400.9,455.3L400.8,455.3L399.9,455.4L398.9,455.5L397.9,455.6L396.9,455.7L395.9,455.7L395.0,455.8L394.0,455.8L393.0,455.8L393.0,455.5L394.0,455.5L395.0,455.5L395.9,455.5L396.9,455.5L397.9,455.4L398.9,455.3L398.9,455.3L399.9,455.2L400.9,455.1L401.8,455.0L402.8,454.9L403.8,454.8L404.8,454.7L405.8,454.7L406.7,454.7L407.7,454.7L408.7,454.8L409.7,454.9L410.7,454.9L411.7,455.0L412.6,455.0L413.6,455.0L414.6,455.0L415.6,454.9L416.6,454.9L417.5,454.9L418.5,454.9L419.5,454.9L420.5,454.9L421.5,454.8L422.5,454.6L423.4,454.3L423.6,454.3L424.4,454.0L425.4,453.5L425.8,453.2L426.4,452.7L426.9,452.1L427.4,451.6L427.7,451.1L428.1,450.0L428.3,449.2L428.4,449.0L428.6,447.9L428.6,446.9L428.5,445.8L428.3,445.4L428.1,444.8L427.7,443.7L427.4,443.2L427.1,442.7L426.5,441.6L426.4,441.3L426.0,440.5L425.7,439.5L425.5,438.4L425.5,437.4L425.6,436.3L426.0,435.3L426.4,434.8L426.8,434.2L427.4,433.7L428.1,433.2L428.3,433.0L429.3,432.6L430.3,432.2L430.7,432.1L431.3,431.9L432.3,431.6L433.3,431.2L433.7,431.1Z" fill="#84c083" stroke="#577e56" stroke-width="0.45"/>
<path d="M431.3,431.0L432.3,430.6L433.3,430.1L433.5,430.0L434.2,430.0L435.2,430.0L435.9,430.0L435.2,430.4L434.2,430.8L433.7,431.1L433.3,431.2L432.3,431.6L431.3,431.9L430.7,432.1L430.3,432.2L429.3,432.6L428.3,433.0L428.1,433.2L427.4,433.7L426.8,434.2L426.4,434.8L426.0,435.3L425.6,436.3L425.5,437.4L425.5,438.4L425.7,439.5L426.0,440.5L426.4,441.3L426.5,441.6L427.1,442.7L427.4,443.2L427.7,443.7L428.1,444.8L428.3,445.4L428.5,445.8L428.6,446.9L428.6,447.9L428.4,449.0L428.3,449.2L428.1,450.0L427.7,451.1L427.4,451.6L426.9,452.1L426.4,452.7L425.8,453.2L425.4,453.5L424.4,454.0L423.6,454.3L423.4,454.3L422.5,454.6L421.5,454.8L420.5,454.9L419.5,454.9L418.5,454.9L417.5,454.9L416.6,454.9L415.6,454.9L414.6,455.0L413.6,455.0L412.6,455.0L411.7,455.0L410.7,454.9L409.7,454.9L408.7,454.8L407.7,454.7L406.7,454.7L405.8,454.7L404.8,454.7L403.8,454.8L402.8,454.9L401.8,455.0L400.9,455.1L399.9,455.2L398.9,455.3L398.9,455.3L397.9,455.4L396.9,455.5L395.9,455.5L395.0,455.5L394.0,455.5L393.0,455.5L393.0,455.3L393.0,455.2L394.0,455.2L395.0,455.3L395.9,455.3L396.9,455.3L397.9,455.2L398.9,455.1L399.9,455.0L400.9,454.9L401.8,454.8L402.8,454.7L403.8,454.6L404.8,454.5L405.8,454.4L406.7,454.4L407.7,454.4L408.7,454.4L409.7,454.5L410.7,454.5L411.7,454.5L412.6,454.4L413.6,454.3L414.4,454.3L414.6,454.2L415.6,454.1L416.6,453.9L417.5,453.7L418.5,453.5L419.5,453.2L419.6,453.2L420.5,452.9L421.5,452.4L422.1,452.1L422.5,452.0L423.4,451.7L424.4,451.2L424.7,451.1L425.4,450.6L425.9,450.0L426.4,449.3L426.6,449.0L426.9,447.9L427.1,446.9L427.0,445.8L426.7,444.8L426.4,443.9L426.3,443.7L425.8,442.7L425.4,441.8L425.3,441.6L424.9,440.5L424.6,439.5L424.5,438.4L424.5,437.4L424.7,436.3L425.1,435.3L425.4,434.8L425.8,434.2L426.4,433.6L426.9,433.2L427.4,432.8L428.3,432.2L428.6,432.1L429.3,431.8L430.3,431.4L431.1,431.1Z" fill="#90cbb0" stroke="#5f8574" stroke-width="0.45"/>
<path d="M429.3,431.0L430.3,430.6L431.3,430.1L431.5,430.0L432.3,430.0L433.3,430.0L433.5,430.0L433.3,430.1L432.3,430.6L431.3,431.0L431.1,431.1L430.3,431.4L429.3,431.8L428.6,432.1L428.3,432.2L427.4,432.8L426.9,433.2L426.4,433.6L425.8,434.2L425.4,434.8L425.1,435.3L424.7,436.3L424.5,437.4L424.5,438.4L424.6,439.5L424.9,440.5L425.3,441.6L425.4,441.8L425.8,442.7L426.3,443.7L426.4,443.9L426.7,444.8L427.0,445.8L427.1,446.9L426.9,447.9L426.6,449.0L426.4,449.3L425.9,450.0L425.4,450.6L424.7,451.1L424.4,451.2L423.4,451.7L422.5,452.0L422.1,452.1L421.5,452.4L420.5,452.9L419.6,453.2L419.5,453.2L418.5,453.5L417.5,453.7L416.6,453.9L415.6,454.1L414.6,454.2L414.4,454.3L413.6,454.3L412.6,454.4L411.7,454.5L410.7,454.5L409.7,454.5L408.7,454.4L407.7,454.4L406.7,454.4L405.8,454.4L404.8,454.5L403.8,454.6L402.8,454.7L401.8,454.8L400.9,454.9L399.9,455.0L398.9,455.1L397.9,455.2L396.9,455.3L395.9,455.3L395.0,455.3L394.0,455.2L393.0,455.2L393.0,454.9L394.0,455.0L395.0,455.0L395.9,455.1L396.9,455.1L397.9,455.0L398.9,455.0L399.9,454.9L400.9,454.8L401.8,454.6L402.8,454.5L403.8,454.3L404.3,454.3L404.8,454.2L405.8,454.1L406.7,454.0L407.7,454.0L408.7,454.0L409.7,454.1L410.7,454.0L411.7,454.0L412.6,453.8L413.6,453.7L414.6,453.5L415.6,453.2L415.7,453.2L416.6,452.9L417.5,452.5L418.5,452.1L418.5,452.1L419.5,451.6L420.5,451.2L420.6,451.1L421.5,450.7L422.5,450.3L422.9,450.0L423.4,449.8L424.4,449.0L424.4,449.0L425.2,447.9L425.4,447.3L425.5,446.9L425.6,445.8L425.4,444.9L425.4,444.8L425.0,443.7L424.6,442.7L424.4,442.1L424.2,441.6L423.9,440.5L423.6,439.5L423.5,438.4L423.6,437.4L423.7,436.3L424.1,435.3L424.4,434.9L424.9,434.2L425.4,433.7L425.9,433.2L426.4,432.8L427.4,432.1L427.4,432.1L428.3,431.6L429.3,431.1Z" fill="#8ccecc" stroke="#5c8786" stroke-width="0.45"/>
<path d="M428.3,430.9L429.3,430.3L429.9,430.0L430.3,430.0L431.3,430.0L431.5,430.0L431.3,430.1L430.3,430.6L429.3,431.0L429.3,431.1L428.3,431.6L427.4,432.1L427.4,432.1L426.4,432.8L425.9,433.2L425.4,433.7L424.9,434.2L424.4,434.9L424.1,435.3L423.7,436.3L423.6,437.4L423.5,438.4L423.6,439.5L423.9,440.5L424.2,441.6L424.4,442.1L424.6,442.7L425.0,443.7L425.4,444.8L425.4,444.9L425.6,445.8L425.5,446.9L425.4,447.3L425.2,447.9L424.4,449.0L424.4,449.0L423.4,449.8L422.9,450.0L422.5,450.3L421.5,450.7L420.6,451.1L420.5,451.2L419.5,451.6L418.5,452.1L418.5,452.1L417.5,452.5L416.6,452.9L415.7,453.2L415.6,453.2L414.6,453.5L413.6,453.7L412.6,453.8L411.7,454.0L410.7,454.0L409.7,454.1L408.7,454.0L407.7,454.0L406.7,454.0L405.8,454.1L404.8,454.2L404.3,454.3L403.8,454.3L402.8,454.5L401.8,454.6L400.9,454.8L399.9,454.9L398.9,455.0L397.9,455.0L396.9,455.1L395.9,455.1L395.0,455.0L394.0,455.0L393.0,454.9L393.0,454.6L394.0,454.7L395.0,454.8L395.9,454.8L396.9,454.9L397.9,454.8L398.9,454.8L399.9,454.7L400.9,454.6L401.8,454.4L402.8,454.3L402.8,454.3L403.8,454.1L404.8,453.9L405.8,453.7L406.7,453.7L407.7,453.6L408.7,453.6L409.7,453.6L410.7,453.6L411.7,453.5L412.6,453.3L412.9,453.2L413.6,453.0L414.6,452.6L415.6,452.3L415.9,452.1L416.6,451.8L417.5,451.2L417.8,451.1L418.5,450.6L419.5,450.1L419.6,450.0L420.5,449.6L421.5,449.1L421.8,449.0L422.5,448.6L423.3,447.9L423.4,447.7L424.0,446.9L424.2,445.8L424.1,444.8L423.8,443.7L423.5,442.7L423.4,442.6L423.1,441.6L422.9,440.5L422.7,439.5L422.6,438.4L422.7,437.4L422.8,436.3L423.2,435.3L423.4,434.9L423.9,434.2L424.4,433.7L425.0,433.2L425.4,432.8L426.3,432.1L426.4,432.1L427.4,431.5L428.0,431.1Z" fill="#7fc7d9" stroke="#53838f" stroke-width="0.45"/>
<path d="M427.4,430.8L428.3,430.2L428.7,430.0L429.3,430.0L429.9,430.0L429.3,430.3L428.3,430.9L428.0,431.1L427.4,431.5L426.4,432.1L426.3,432.1L425.4,432.8L425.0,433.2L424.4,433.7L423.9,434.2L423.4,434.9L423.2,435.3L422.8,436.3L422.7,437.4L422.6,438.4L422.7,439.5L422.9,440.5L423.1,441.6L423.4,442.6L423.5,442.7L423.8,443.7L424.1,444.8L424.2,445.8L424.0,446.9L423.4,447.7L423.3,447.9L422.5,448.6L421.8,449.0L421.5,449.1L420.5,449.6L419.6,450.0L419.5,450.1L418.5,450.6L417.8,451.1L417.5,451.2L416.6,451.8L415.9,452.1L415.6,452.3L414.6,452.6L413.6,453.0L412.9,453.2L412.6,453.3L411.7,453.5L410.7,453.6L409.7,453.6L408.7,453.6L407.7,453.6L406.7,453.7L405.8,453.7L404.8,453.9L403.8,454.1L402.8,454.3L402.8,454.3L401.8,454.4L400.9,454.6L399.9,454.7L398.9,454.8L397.9,454.8L396.9,454.9L395.9,454.8L395.0,454.8L394.0,454.7L393.0,454.6L393.0,454.3L394.0,454.4L395.0,454.5L395.9,454.6L396.9,454.6L397.9,454.6L398.9,454.6L399.9,454.5L400.9,454.4L401.7,454.3L401.8,454.2L402.8,454.0L403.8,453.8L404.8,453.6L405.8,453.4L406.7,453.3L407.7,453.3L408.7,453.2L409.7,453.2L410.0,453.2L410.7,453.1L411.7,452.9L412.6,452.6L413.6,452.2L413.8,452.1L414.6,451.7L415.6,451.1L415.6,451.1L416.6,450.3L416.9,450.0L417.5,449.5L418.3,449.0L418.5,448.8L419.5,448.3L420.5,447.9L420.5,447.9L421.5,447.4L422.2,446.9L422.5,446.4L422.7,445.8L422.7,444.8L422.5,443.7L422.5,443.5L422.3,442.7L422.0,441.6L421.8,440.5L421.7,439.5L421.7,438.4L421.8,437.4L422.0,436.3L422.3,435.3L422.5,435.0L423.0,434.2L423.4,433.7L424.0,433.2L424.4,432.8L425.4,432.1L425.4,432.1L426.4,431.4L427.0,431.1Z" fill="#7ac2de" stroke="#508092" stroke-width="0.45"/>
<path d="M426.4,430.8L427.4,430.2L427.6,430.0L428.3,430.0L428.7,430.0L428.3,430.2L427.4,430.8L427.0,431.1L426.4,431.4L425.4,432.1L425.4,432.1L424.4,432.8L424.0,433.2L423.4,433.7L423.0,434.2L422.5,435.0L422.3,435.3L422.0,436.3L421.8,437.4L421.7,438.4L421.7,439.5L421.8,440.5L422.0,441.6L422.3,442.7L422.5,443.5L422.5,443.7L422.7,444.8L422.7,445.8L422.5,446.4L422.2,446.9L421.5,447.4L420.5,447.9L420.5,447.9L419.5,448.3L418.5,448.8L418.3,449.0L417.5,449.5L416.9,450.0L416.6,450.3L415.6,451.1L415.6,451.1L414.6,451.7L413.8,452.1L413.6,452.2L412.6,452.6L411.7,452.9L410.7,453.1L410.0,453.2L409.7,453.2L408.7,453.2L407.7,453.3L406.7,453.3L405.8,453.4L404.8,453.6L403.8,453.8L402.8,454.0L401.8,454.2L401.7,454.3L400.9,454.4L399.9,454.5L398.9,454.6L397.9,454.6L396.9,454.6L395.9,454.6L395.0,454.5L394.0,454.4L393.0,454.3L393.0,454.3L393.0,454.0L394.0,454.1L394.7,454.3L395.0,454.3L395.9,454.4L396.9,454.4L397.9,454.5L398.9,454.4L399.9,454.3L400.5,454.3L400.9,454.2L401.8,454.0L402.8,453.8L403.8,453.5L404.8,453.3L405.2,453.2L405.8,453.1L406.7,452.9L407.7,452.8L408.7,452.8L409.7,452.7L410.7,452.6L411.7,452.3L412.1,452.1L412.6,451.8L413.6,451.2L413.9,451.1L414.6,450.4L415.0,450.0L415.6,449.3L415.9,449.0L416.6,448.0L416.7,447.9L417.5,447.1L418.0,446.9L418.5,446.6L419.5,446.2L420.1,445.8L420.5,445.4L420.8,444.8L420.9,443.7L420.9,442.7L420.9,441.6L420.8,440.5L420.8,439.5L420.8,438.4L420.9,437.4L421.1,436.3L421.4,435.3L421.5,435.2L422.0,434.2L422.5,433.7L423.0,433.2L423.4,432.8L424.4,432.1L424.4,432.1L425.4,431.5L426.0,431.1Z" fill="#6bb3e0" stroke="#467693" stroke-width="0.45"/>
<path d="M425.4,430.8L426.4,430.2L426.6,430.0L427.4,430.0L427.6,430.0L427.4,430.2L426.4,430.8L426.0,431.1L425.4,431.5L424.4,432.1L424.4,432.1L423.4,432.8L423.0,433.2L422.5,433.7L422.0,434.2L421.5,435.2L421.4,435.3L421.1,436.3L420.9,437.4L420.8,438.4L420.8,439.5L420.8,440.5L420.9,441.6L420.9,442.7L420.9,443.7L420.8,444.8L420.5,445.4L420.1,445.8L419.5,446.2L418.5,446.6L418.0,446.9L417.5,447.1L416.7,447.9L416.6,448.0L415.9,449.0L415.6,449.3L415.0,450.0L414.6,450.4L413.9,451.1L413.6,451.2L412.6,451.8L412.1,452.1L411.7,452.3L410.7,452.6L409.7,452.7L408.7,452.8L407.7,452.8L406.7,452.9L405.8,453.1L405.2,453.2L404.8,453.3L403.8,453.5L402.8,453.8L401.8,454.0L400.9,454.2L400.5,454.3L399.9,454.3L398.9,454.4L397.9,454.5L396.9,454.4L395.9,454.4L395.0,454.3L394.7,454.3L394.0,454.1L393.0,454.0L393.0,453.7L394.0,453.8L395.0,454.0L395.9,454.2L396.9,454.2L397.5,454.3L397.9,454.3L398.2,454.3L398.9,454.2L399.9,454.1L400.9,454.0L401.8,453.8L402.8,453.5L403.8,453.2L404.0,453.2L404.8,452.9L405.8,452.7L406.7,452.5L407.7,452.4L408.7,452.3L409.7,452.3L410.2,452.1L410.7,452.0L411.7,451.5L412.4,451.1L412.6,450.9L413.5,450.0L413.6,449.9L414.3,449.0L414.6,448.3L414.8,447.9L415.3,446.9L415.6,446.3L415.9,445.8L416.6,445.3L417.5,444.8L417.6,444.8L418.5,444.1L418.9,443.7L419.4,442.7L419.5,442.3L419.7,441.6L419.8,440.5L419.9,439.5L419.9,438.4L420.0,437.4L420.2,436.3L420.5,435.5L420.5,435.3L421.1,434.2L421.5,433.7L421.9,433.2L422.5,432.7L423.3,432.1L423.4,432.0L424.4,431.4L425.0,431.1Z" fill="#5893d4" stroke="#3a618b" stroke-width="0.45"/>
<path d="M424.4,430.8L425.4,430.2L425.7,430.0L426.4,430.0L426.6,430.0L426.4,430.2L425.4,430.8L425.0,431.1L424.4,431.4L423.4,432.0L423.3,432.1L422.5,432.7L421.9,433.2L421.5,433.7L421.1,434.2L420.5,435.3L420.5,435.5L420.2,436.3L420.0,437.4L419.9,438.4L419.9,439.5L419.8,440.5L419.7,441.6L419.5,442.3L419.4,442.7L418.9,443.7L418.5,444.1L417.6,444.8L417.5,444.8L416.6,445.3L415.9,445.8L415.6,446.3L415.3,446.9L414.8,447.9L414.6,448.3L414.3,449.0L413.6,449.9L413.5,450.0L412.6,450.9L412.4,451.1L411.7,451.5L410.7,452.0L410.2,452.1L409.7,452.3L408.7,452.3L407.7,452.4L406.7,452.5L405.8,452.7L404.8,452.9L404.0,453.2L403.8,453.2L402.8,453.5L401.8,453.8L400.9,454.0L399.9,454.1L398.9,454.2L398.2,454.3L397.9,454.3L397.5,454.3L396.9,454.2L395.9,454.2L395.0,454.0L394.0,453.8L393.0,453.7L393.0,453.3L394.0,453.6L395.0,453.7L395.9,453.9L396.9,454.0L397.9,454.1L398.9,454.0L399.9,453.9L400.9,453.8L401.8,453.6L402.8,453.3L403.1,453.2L403.8,452.9L404.8,452.6L405.8,452.3L406.3,452.1L406.7,452.0L407.7,451.8L408.7,451.7L409.7,451.6L410.7,451.2L410.9,451.1L411.7,450.5L412.2,450.0L412.6,449.3L412.9,449.0L413.4,447.9L413.6,447.2L413.7,446.9L414.2,445.8L414.6,445.2L415.0,444.8L415.6,444.2L416.4,443.7L416.6,443.6L417.5,442.8L417.7,442.7L418.3,441.6L418.5,441.1L418.7,440.5L418.9,439.5L419.0,438.4L419.1,437.4L419.3,436.3L419.5,435.7L419.6,435.3L420.1,434.2L420.5,433.7L420.9,433.2L421.5,432.6L422.1,432.1L422.5,431.9L423.4,431.3L423.9,431.1Z" fill="#4363b8" stroke="#2c4179" stroke-width="0.45"/>
<path d="M423.4,430.6L424.4,430.1L424.6,430.0L425.4,430.0L425.7,430.0L425.4,430.2L424.4,430.8L423.9,431.1L423.4,431.3L422.5,431.9L422.1,432.1L421.5,432.6L420.9,433.2L420.5,433.7L420.1,434.2L419.6,435.3L419.5,435.7L419.3,436.3L419.1,437.4L419.0,438.4L418.9,439.5L418.7,440.5L418.5,441.1L418.3,441.6L417.7,442.7L417.5,442.8L416.6,443.6L416.4,443.7L415.6,444.2L415.0,444.8L414.6,445.2L414.2,445.8L413.7,446.9L413.6,447.2L413.4,447.9L412.9,449.0L412.6,449.3L412.2,450.0L411.7,450.5L410.9,451.1L410.7,451.2L409.7,451.6L408.7,451.7L407.7,451.8L406.7,452.0L406.3,452.1L405.8,452.3L404.8,452.6L403.8,452.9L403.1,453.2L402.8,453.3L401.8,453.6L400.9,453.8L399.9,453.9L398.9,454.0L397.9,454.1L396.9,454.0L395.9,453.9L395.0,453.7L394.0,453.6L393.0,453.3L393.0,453.2L393.0,453.0L393.7,453.2L394.0,453.3L395.0,453.5L395.9,453.7L396.9,453.8L397.9,453.9L398.9,453.8L399.9,453.8L400.9,453.6L401.8,453.4L402.4,453.2L402.8,453.0L403.8,452.6L404.8,452.2L405.0,452.1L405.8,451.8L406.7,451.4L407.7,451.2L408.4,451.1L408.7,451.0L409.7,450.7L410.7,450.0L410.7,450.0L411.5,449.0L411.7,448.6L411.9,447.9L412.2,446.9L412.5,445.8L412.6,445.6L413.0,444.8L413.6,444.0L413.9,443.7L414.6,443.2L415.4,442.7L415.6,442.5L416.6,441.8L416.8,441.6L417.5,440.5L417.5,440.3L417.8,439.5L417.9,438.4L418.1,437.4L418.3,436.3L418.5,435.7L418.7,435.3L419.1,434.2L419.5,433.7L419.9,433.2L420.5,432.5L421.0,432.1L421.5,431.7L422.5,431.1L422.6,431.1ZM398.9,436.2L399.9,436.1L400.9,436.3L400.9,436.3L401.8,437.1L402.1,437.4L402.4,438.4L402.2,439.5L401.8,439.8L400.9,440.3L399.9,440.5L398.9,440.4L397.9,439.9L397.5,439.5L397.3,438.4L397.6,437.4L397.9,436.9L398.7,436.3Z" fill="#3c52ad" stroke="#273672" stroke-width="0.45"/>
<path d="M421.5,430.9L422.5,430.3L423.2,430.0L423.4,430.0L424.4,430.0L424.6,430.0L424.4,430.1L423.4,430.6L422.6,431.1L422.5,431.1L421.5,431.7L421.0,432.1L420.5,432.5L419.9,433.2L419.5,433.7L419.1,434.2L418.7,435.3L418.5,435.7L418.3,436.3L418.1,437.4L417.9,438.4L417.8,439.5L417.5,440.3L417.5,440.5L416.8,441.6L416.6,441.8L415.6,442.5L415.4,442.7L414.6,443.2L413.9,443.7L413.6,444.0L413.0,444.8L412.6,445.6L412.5,445.8L412.2,446.9L411.9,447.9L411.7,448.6L411.5,449.0L410.7,450.0L410.7,450.0L409.7,450.7L408.7,451.0L408.4,451.1L407.7,451.2L406.7,451.4L405.8,451.8L405.0,452.1L404.8,452.2L403.8,452.6L402.8,453.0L402.4,453.2L401.8,453.4L400.9,453.6L399.9,453.8L398.9,453.8L397.9,453.9L396.9,453.8L395.9,453.7L395.0,453.5L394.0,453.3L393.7,453.2L393.0,453.0L393.0,452.6L394.0,452.9L394.9,453.2L395.0,453.2L395.9,453.4L396.9,453.6L397.9,453.7L398.9,453.6L399.9,453.6L400.9,453.4L401.6,453.2L401.8,453.1L402.8,452.7L403.8,452.3L404.1,452.1L404.8,451.7L405.8,451.2L406.2,451.1L406.7,450.7L407.7,450.3L408.5,450.0L408.7,449.9L409.7,449.0L409.7,449.0L410.2,447.9L410.4,446.9L410.5,445.8L410.3,444.8L410.0,443.7L409.7,443.0L408.7,442.8L407.7,442.9L406.7,443.0L405.8,443.0L404.8,442.8L404.3,442.7L403.8,442.5L402.8,442.2L401.8,442.0L400.9,441.9L399.9,441.7L399.2,441.6L398.9,441.5L397.9,441.2L396.9,440.5L396.9,440.5L396.2,439.5L395.9,438.7L395.9,438.4L395.9,437.4L395.9,437.0L396.2,436.3L396.9,435.3L396.9,435.2L397.9,434.5L398.5,434.2L398.9,434.1L399.9,434.0L400.9,434.1L401.4,434.2L401.8,434.4L402.8,434.9L403.4,435.3L403.8,435.7L404.4,436.3L404.8,436.8L405.3,437.4L405.8,438.1L406.1,438.4L406.7,439.2L407.1,439.5L407.7,440.1L408.5,440.5L408.7,440.8L409.7,441.5L409.8,441.6L410.7,442.0L411.7,442.0L412.6,441.8L413.3,441.6L413.6,441.5L414.6,441.2L415.6,440.7L415.8,440.5L416.5,439.5L416.6,439.2L416.7,438.4L416.9,437.4L417.2,436.3L417.5,435.3L417.5,435.3L418.0,434.2L418.5,433.5L418.8,433.2L419.5,432.3L419.7,432.1L420.5,431.5L421.2,431.1ZM398.7,436.3L397.9,436.9L397.6,437.4L397.3,438.4L397.5,439.5L397.9,439.9L398.9,440.4L399.9,440.5L400.9,440.3L401.8,439.8L402.2,439.5L402.4,438.4L402.1,437.4L401.8,437.1L400.9,436.3L400.9,436.3L399.9,436.1L398.9,436.2Z" fill="#3c4aa8" stroke="#27306e" stroke-width="0.45"/>
<path d="M420.5,430.6L421.5,430.0L421.5,430.0L422.5,430.0L423.2,430.0L422.5,430.3L421.5,430.9L421.2,431.1L420.5,431.5L419.7,432.1L419.5,432.3L418.8,433.2L418.5,433.5L418.0,434.2L417.5,435.3L417.5,435.3L417.2,436.3L416.9,437.4L416.7,438.4L416.6,439.2L416.5,439.5L415.8,440.5L415.6,440.7L414.6,441.2L413.6,441.5L413.3,441.6L412.6,441.8L411.7,442.0L410.7,442.0L409.8,441.6L409.7,441.5L408.7,440.8L408.5,440.5L407.7,440.1L407.1,439.5L406.7,439.2L406.1,438.4L405.8,438.1L405.3,437.4L404.8,436.8L404.4,436.3L403.8,435.7L403.4,435.3L402.8,434.9L401.8,434.4L401.4,434.2L400.9,434.1L399.9,434.0L398.9,434.1L398.5,434.2L397.9,434.5L396.9,435.2L396.9,435.3L396.2,436.3L395.9,437.0L395.9,437.4L395.9,438.4L395.9,438.7L396.2,439.5L396.9,440.5L396.9,440.5L397.9,441.2L398.9,441.5L399.2,441.6L399.9,441.7L400.9,441.9L401.8,442.0L402.8,442.2L403.8,442.5L404.3,442.7L404.8,442.8L405.8,443.0L406.7,443.0L407.7,442.9L408.7,442.8L409.7,443.0L410.0,443.7L410.3,444.8L410.5,445.8L410.4,446.9L410.2,447.9L409.7,449.0L409.7,449.0L408.7,449.9L408.5,450.0L407.7,450.3L406.7,450.7L406.2,451.1L405.8,451.2L404.8,451.7L404.1,452.1L403.8,452.3L402.8,452.7L401.8,453.1L401.6,453.2L400.9,453.4L399.9,453.6L398.9,453.6L397.9,453.7L396.9,453.6L395.9,453.4L395.0,453.2L394.9,453.2L394.0,452.9L393.0,452.6L393.0,452.2L394.0,452.6L395.0,452.9L395.9,453.2L396.1,453.2L396.9,453.4L397.9,453.4L398.9,453.5L399.9,453.4L400.9,453.2L400.9,453.2L401.8,452.8L402.8,452.4L403.4,452.1L403.8,451.8L404.8,451.2L405.0,451.1L405.8,450.4L406.4,450.0L406.7,449.6L407.4,449.0L407.6,447.9L407.2,446.9L406.7,446.6L405.8,446.0L405.4,445.8L404.8,445.5L403.8,444.8L403.8,444.7L402.8,443.9L402.5,443.7L401.8,443.4L400.9,443.0L399.9,442.7L399.7,442.7L398.9,442.4L397.9,442.1L397.0,441.6L396.9,441.6L395.9,440.8L395.7,440.5L395.0,439.5L395.0,439.3L394.6,438.4L394.5,437.4L394.7,436.3L395.0,435.4L395.0,435.3L395.7,434.2L395.9,433.9L396.8,433.2L396.9,433.1L397.9,432.6L398.9,432.4L399.9,432.3L400.9,432.3L401.8,432.5L402.8,432.9L403.5,433.2L403.8,433.4L404.8,434.0L405.0,434.2L405.8,434.9L406.1,435.3L406.7,435.9L407.3,436.3L407.7,436.7L408.7,437.3L408.9,437.4L409.7,437.8L410.7,438.2L411.4,438.4L411.7,438.5L412.6,438.8L413.6,438.8L414.4,438.4L414.6,438.3L415.2,437.4L415.6,436.6L415.7,436.3L416.1,435.3L416.6,434.6L416.7,434.2L417.5,433.2L417.5,433.1L418.4,432.1L418.5,432.0L419.5,431.2L419.7,431.1Z" fill="#3b42a1" stroke="#262b6a" stroke-width="0.45"/>
<path d="M397.9,430.9L398.9,430.7L399.9,430.7L400.9,430.7L401.8,430.9L402.5,431.1L402.8,431.1L403.8,431.5L404.8,432.0L404.9,432.1L405.8,432.7L406.3,433.2L406.7,433.6L407.5,434.2L407.7,434.4L408.7,435.2L408.9,435.3L409.7,435.7L410.7,436.0L411.7,436.1L412.6,436.1L413.6,435.6L414.0,435.3L414.6,434.7L415.0,434.2L415.6,433.5L415.9,433.2L416.6,432.5L416.9,432.1L417.5,431.5L418.1,431.1L418.5,430.8L419.5,430.1L419.7,430.0L420.5,430.0L421.5,430.0L421.5,430.0L421.5,430.0L420.5,430.6L419.7,431.1L419.5,431.2L418.5,432.0L418.4,432.1L417.5,433.1L417.5,433.2L416.7,434.2L416.6,434.6L416.1,435.3L415.7,436.3L415.6,436.6L415.2,437.4L414.6,438.3L414.4,438.4L413.6,438.8L412.6,438.8L411.7,438.5L411.4,438.4L410.7,438.2L409.7,437.8L408.9,437.4L408.7,437.3L407.7,436.7L407.3,436.3L406.7,435.9L406.1,435.3L405.8,434.9L405.0,434.2L404.8,434.0L403.8,433.4L403.5,433.2L402.8,432.9L401.8,432.5L400.9,432.3L399.9,432.3L398.9,432.4L397.9,432.6L396.9,433.1L396.8,433.2L395.9,433.9L395.7,434.2L395.0,435.3L395.0,435.4L394.7,436.3L394.5,437.4L394.6,438.4L395.0,439.3L395.0,439.5L395.7,440.5L395.9,440.8L396.9,441.6L397.0,441.6L397.9,442.1L398.9,442.4L399.7,442.7L399.9,442.7L400.9,443.0L401.8,443.4L402.5,443.7L402.8,443.9L403.8,444.7L403.8,444.8L404.8,445.5L405.4,445.8L405.8,446.0L406.7,446.6L407.2,446.9L407.6,447.9L407.4,449.0L406.7,449.6L406.4,450.0L405.8,450.4L405.0,451.1L404.8,451.2L403.8,451.8L403.4,452.1L402.8,452.4L401.8,452.8L400.9,453.2L400.9,453.2L399.9,453.4L398.9,453.5L397.9,453.4L396.9,453.4L396.1,453.2L395.9,453.2L395.0,452.9L394.0,452.6L393.0,452.2L393.0,452.1L393.0,451.8L393.7,452.1L394.0,452.2L395.0,452.6L395.9,452.9L396.9,453.1L397.5,453.2L397.9,453.2L398.9,453.3L399.6,453.2L399.9,453.2L400.9,452.9L401.8,452.6L402.7,452.1L402.8,452.1L403.8,451.3L404.2,451.1L404.8,450.4L405.2,450.0L405.7,449.0L405.5,447.9L404.8,447.1L404.6,446.9L403.8,446.2L403.4,445.8L402.8,445.2L402.3,444.8L401.8,444.5L400.9,443.9L400.3,443.7L399.9,443.5L398.9,443.2L397.9,442.8L397.5,442.7L396.9,442.4L395.9,441.8L395.6,441.6L395.0,441.0L394.5,440.5L394.0,439.7L393.8,439.5L393.4,438.4L393.3,437.4L393.3,436.3L393.5,435.3L393.9,434.2L394.0,434.1L394.6,433.2L395.0,432.7L395.6,432.1L395.9,431.9L396.9,431.3L397.6,431.1Z" fill="#3b3a9a" stroke="#262665" stroke-width="0.45"/>
<path d="M395.0,430.6L395.9,430.0L396.0,430.0L396.9,430.0L397.9,430.0L398.9,430.0L399.9,430.0L400.9,430.0L401.8,430.0L402.8,430.0L403.8,430.0L404.1,430.0L404.8,430.3L405.8,430.8L406.1,431.1L406.7,431.5L407.6,432.1L407.7,432.2L408.7,433.0L409.0,433.2L409.7,433.6L410.7,433.9L411.7,433.9L412.6,433.6L413.4,433.2L413.6,433.1L414.6,432.3L414.9,432.1L415.6,431.6L416.2,431.1L416.6,430.8L417.5,430.2L417.8,430.0L418.5,430.0L419.5,430.0L419.7,430.0L419.5,430.1L418.5,430.8L418.1,431.1L417.5,431.5L416.9,432.1L416.6,432.5L415.9,433.2L415.6,433.5L415.0,434.2L414.6,434.7L414.0,435.3L413.6,435.6L412.6,436.1L411.7,436.1L410.7,436.0L409.7,435.7L408.9,435.3L408.7,435.2L407.7,434.4L407.5,434.2L406.7,433.6L406.3,433.2L405.8,432.7L404.9,432.1L404.8,432.0L403.8,431.5L402.8,431.1L402.5,431.1L401.8,430.9L400.9,430.7L399.9,430.7L398.9,430.7L397.9,430.9L397.6,431.1L396.9,431.3L395.9,431.9L395.6,432.1L395.0,432.7L394.6,433.2L394.0,434.1L393.9,434.2L393.5,435.3L393.3,436.3L393.3,437.4L393.4,438.4L393.8,439.5L394.0,439.7L394.5,440.5L395.0,441.0L395.6,441.6L395.9,441.8L396.9,442.4L397.5,442.7L397.9,442.8L398.9,443.2L399.9,443.5L400.3,443.7L400.9,443.9L401.8,444.5L402.3,444.8L402.8,445.2L403.4,445.8L403.8,446.2L404.6,446.9L404.8,447.1L405.5,447.9L405.7,449.0L405.2,450.0L404.8,450.4L404.2,451.1L403.8,451.3L402.8,452.1L402.7,452.1L401.8,452.6L400.9,452.9L399.9,453.2L399.6,453.2L398.9,453.3L397.9,453.2L397.5,453.2L396.9,453.1L395.9,452.9L395.0,452.6L394.0,452.2L393.7,452.1L393.0,451.8L393.0,451.3L394.0,451.8L394.7,452.1L395.0,452.2L395.9,452.6L396.9,452.8L397.9,453.0L398.9,453.0L399.9,452.9L400.9,452.7L401.8,452.3L402.1,452.1L402.8,451.6L403.5,451.1L403.8,450.6L404.3,450.0L404.6,449.0L404.3,447.9L403.8,447.4L403.4,446.9L402.8,446.3L402.3,445.8L401.8,445.4L400.9,444.8L400.8,444.8L399.9,444.3L398.9,443.9L398.3,443.7L397.9,443.6L396.9,443.2L395.9,442.7L395.8,442.7L395.0,442.1L394.3,441.6L394.0,441.3L393.2,440.5L393.0,440.2L393.0,439.5L393.0,438.4L393.0,437.4L393.0,436.3L393.0,435.3L393.0,434.2L393.0,433.2L393.0,432.6L393.3,432.1L394.0,431.4L394.4,431.1Z" fill="#3e3391" stroke="#28215f" stroke-width="0.45"/>
<path d="M394.0,430.0L395.0,430.0L395.9,430.0L396.0,430.0L395.9,430.0L395.0,430.6L394.4,431.1L394.0,431.4L393.3,432.1L393.0,432.6L393.0,432.1L393.0,431.1L393.0,430.0L393.0,430.0ZM404.8,430.0L405.8,430.0L406.7,430.0L407.6,430.0L407.7,430.1L408.7,430.6L409.6,431.1L409.7,431.1L410.7,431.4L411.7,431.5L412.6,431.2L413.1,431.1L413.6,430.9L414.6,430.4L415.3,430.0L415.6,430.0L416.6,430.0L417.5,430.0L417.8,430.0L417.5,430.2L416.6,430.8L416.2,431.1L415.6,431.6L414.9,432.1L414.6,432.3L413.6,433.1L413.4,433.2L412.6,433.6L411.7,433.9L410.7,433.9L409.7,433.6L409.0,433.2L408.7,433.0L407.7,432.2L407.6,432.1L406.7,431.5L406.1,431.1L405.8,430.8L404.8,430.3L404.1,430.0ZM393.2,440.5L394.0,441.3L394.3,441.6L395.0,442.1L395.8,442.7L395.9,442.7L396.9,443.2L397.9,443.6L398.3,443.7L398.9,443.9L399.9,444.3L400.8,444.8L400.9,444.8L401.8,445.4L402.3,445.8L402.8,446.3L403.4,446.9L403.8,447.4L404.3,447.9L404.6,449.0L404.3,450.0L403.8,450.6L403.5,451.1L402.8,451.6L402.1,452.1L401.8,452.3L400.9,452.7L399.9,452.9L398.9,453.0L397.9,453.0L396.9,452.8L395.9,452.6L395.0,452.2L394.7,452.1L394.0,451.8L393.0,451.3L393.0,451.1L393.0,450.8L393.4,451.1L394.0,451.4L395.0,451.8L395.6,452.1L395.9,452.3L396.9,452.6L397.9,452.7L398.9,452.8L399.9,452.7L400.9,452.4L401.6,452.1L401.8,451.9L402.8,451.1L402.9,451.1L403.6,450.0L403.7,449.0L403.3,447.9L402.8,447.3L402.5,446.9L401.8,446.3L401.2,445.8L400.9,445.5L399.9,445.0L399.2,444.8L398.9,444.6L397.9,444.3L396.9,443.9L396.3,443.7L395.9,443.5L395.0,443.1L394.2,442.7L394.0,442.5L393.0,441.8L393.0,441.6L393.0,440.5L393.0,440.2Z" fill="#452d8d" stroke="#2d1d5d" stroke-width="0.45"/>
<path d="M393.0,430.0L393.0,430.0L393.0,430.0ZM407.7,430.0L408.7,430.0L409.7,430.0L410.7,430.0L411.7,430.0L412.6,430.0L413.6,430.0L414.6,430.0L415.3,430.0L414.6,430.4L413.6,430.9L413.1,431.1L412.6,431.2L411.7,431.5L410.7,431.4L409.7,431.1L409.6,431.1L408.7,430.6L407.7,430.1L407.6,430.0ZM394.0,442.5L394.2,442.7L395.0,443.1L395.9,443.5L396.3,443.7L396.9,443.9L397.9,444.3L398.9,444.6L399.2,444.8L399.9,445.0L400.9,445.5L401.2,445.8L401.8,446.3L402.5,446.9L402.8,447.3L403.3,447.9L403.7,449.0L403.6,450.0L402.9,451.1L402.8,451.1L401.8,451.9L401.6,452.1L400.9,452.4L399.9,452.7L398.9,452.8L397.9,452.7L396.9,452.6L395.9,452.3L395.6,452.1L395.0,451.8L394.0,451.4L393.4,451.1L393.0,450.8L393.0,450.2L394.0,450.8L394.3,451.1L395.0,451.4L395.9,451.9L396.5,452.1L396.9,452.3L397.9,452.5L398.9,452.5L399.9,452.4L400.9,452.2L401.0,452.1L401.8,451.5L402.3,451.1L402.8,450.2L402.9,450.0L403.0,449.0L402.8,448.6L402.5,447.9L401.8,447.1L401.6,446.9L400.9,446.3L400.0,445.8L399.9,445.7L398.9,445.3L397.9,445.0L397.1,444.8L396.9,444.7L395.9,444.4L395.0,444.0L394.3,443.7L394.0,443.6L393.0,443.1L393.0,442.7L393.0,441.8Z" fill="#4b2a8b" stroke="#311b5b" stroke-width="0.45"/>
<path d="M394.0,443.6L394.3,443.7L395.0,444.0L395.9,444.4L396.9,444.7L397.1,444.8L397.9,445.0L398.9,445.3L399.9,445.7L400.0,445.8L400.9,446.3L401.6,446.9L401.8,447.1L402.5,447.9L402.8,448.6L403.0,449.0L402.9,450.0L402.8,450.2L402.3,451.1L401.8,451.5L401.0,452.1L400.9,452.2L399.9,452.4L398.9,452.5L397.9,452.5L396.9,452.3L396.5,452.1L395.9,451.9L395.0,451.4L394.3,451.1L394.0,450.8L393.0,450.2L393.0,450.0L393.0,449.3L393.8,450.0L394.0,450.2L395.0,450.9L395.2,451.1L395.9,451.5L396.9,451.8L397.5,452.1L397.9,452.2L398.9,452.3L399.9,452.2L400.0,452.1L400.9,451.7L401.7,451.1L401.8,450.9L402.3,450.0L402.3,449.0L401.8,448.1L401.7,447.9L400.9,447.1L400.5,446.9L399.9,446.5L398.9,446.1L398.2,445.8L397.9,445.7L396.9,445.5L395.9,445.2L395.0,445.0L394.2,444.8L394.0,444.7L393.0,444.5L393.0,443.7L393.0,443.1Z" fill="#502989" stroke="#341b5a" stroke-width="0.45"/>
<path d="M394.0,444.7L394.2,444.8L395.0,445.0L395.9,445.2L396.9,445.5L397.9,445.7L398.2,445.8L398.9,446.1L399.9,446.5L400.5,446.9L400.9,447.1L401.7,447.9L401.8,448.1L402.3,449.0L402.3,450.0L401.8,450.9L401.7,451.1L400.9,451.7L400.0,452.1L399.9,452.2L398.9,452.3L397.9,452.2L397.5,452.1L396.9,451.8L395.9,451.5L395.2,451.1L395.0,450.9L394.0,450.2L393.8,450.0L393.0,449.3L393.0,449.0L393.0,447.9L393.0,446.9L393.0,445.8L393.0,444.8L393.0,444.5Z" fill="#39195a" stroke="#25103b" stroke-width="0.45"/>
</g>
<path d="M395.5,439 L414,431.7 L436.3,434.3 C439.5,436 441.5,438.5 442.5,441 C444,445 444.6,449 444.7,455 L444.6,466 C443.5,471 442,474 440.5,476.5 C438.5,480 436.5,483 434.2,485 L417.2,486.2 C413.5,483 411,480.5 408.8,477.5 C405.5,472.5 403.8,469 402.4,465.9 C400,460 398.5,455 397.6,450 C396.8,447 396,443 395.5,439 Z" fill="none" stroke="#222" stroke-width="0.7"/>
<text x="390.6" y="435.4" font-size="8" fill="#333" stroke="#333" stroke-width="0.2" textLength="6.8" lengthAdjust="spacingAndGlyphs" >LV</text>
<path d="M403.2,462.8 C407,472 426,474 432.8,459 C436.5,450 430,441.8 420,441.4 C414.5,441.2 411,441.6 409.2,442.4 L404.6,453.2" stroke="#fff" stroke-width="2.9" fill="none" stroke-linecap="round" stroke-linejoin="round"/>
<path d="M394.2,442.2 L404.6,453.2" stroke="#fff" stroke-width="2.4" fill="none" stroke-linecap="round"/>
<rect x="460.3" y="426.8" width="10.2" height="61.2" fill="#000" stroke="none" stroke-width="1" />
<rect x="461.2" y="428.52" width="8.4" height="1.5" fill="#39195a" stroke="none" stroke-width="1" />
<rect x="461.2" y="430.26" width="8.4" height="1.5" fill="#502989" stroke="none" stroke-width="1" />
<rect x="461.2" y="432" width="8.4" height="1.5" fill="#4b2a8b" stroke="none" stroke-width="1" />
<rect x="461.2" y="433.74" width="8.4" height="1.5" fill="#452d8d" stroke="none" stroke-width="1" />
<rect x="461.2" y="435.48" width="8.4" height="1.5" fill="#3e3391" stroke="none" stroke-width="1" />
<rect x="461.2" y="437.23" width="8.4" height="1.5" fill="#3b3a9a" stroke="none" stroke-width="1" />
<rect x="461.2" y="438.97" width="8.4" height="1.5" fill="#3b42a1" stroke="none" stroke-width="1" />
<rect x="461.2" y="440.71" width="8.4" height="1.5" fill="#3c4aa8" stroke="none" stroke-width="1" />
<rect x="461.2" y="442.45" width="8.4" height="1.5" fill="#3c52ad" stroke="none" stroke-width="1" />
<rect x="461.2" y="444.19" width="8.4" height="1.5" fill="#4363b8" stroke="none" stroke-width="1" />
<rect x="461.2" y="445.93" width="8.4" height="1.5" fill="#5893d4" stroke="none" stroke-width="1" />
<rect x="461.2" y="447.67" width="8.4" height="1.5" fill="#6bb3e0" stroke="none" stroke-width="1" />
<rect x="461.2" y="449.41" width="8.4" height="1.5" fill="#7ac2de" stroke="none" stroke-width="1" />
<rect x="461.2" y="451.16" width="8.4" height="1.5" fill="#7fc7d9" stroke="none" stroke-width="1" />
<rect x="461.2" y="452.9" width="8.4" height="1.5" fill="#8ccecc" stroke="none" stroke-width="1" />
<rect x="461.2" y="454.64" width="8.4" height="1.5" fill="#90cbb0" stroke="none" stroke-width="1" />
<rect x="461.2" y="456.38" width="8.4" height="1.5" fill="#84c083" stroke="none" stroke-width="1" />
<rect x="461.2" y="458.12" width="8.4" height="1.5" fill="#74b55e" stroke="none" stroke-width="1" />
<rect x="461.2" y="459.86" width="8.4" height="1.5" fill="#6cb04c" stroke="none" stroke-width="1" />
<rect x="461.2" y="461.6" width="8.4" height="1.5" fill="#6eb04b" stroke="none" stroke-width="1" />
<rect x="461.2" y="463.34" width="8.4" height="1.5" fill="#6fb04a" stroke="none" stroke-width="1" />
<rect x="461.2" y="465.08" width="8.4" height="1.5" fill="#7ab247" stroke="none" stroke-width="1" />
<rect x="461.2" y="466.83" width="8.4" height="1.5" fill="#92b840" stroke="none" stroke-width="1" />
<rect x="461.2" y="468.57" width="8.4" height="1.5" fill="#b1c040" stroke="none" stroke-width="1" />
<rect x="461.2" y="470.31" width="8.4" height="1.5" fill="#c2c640" stroke="none" stroke-width="1" />
<rect x="461.2" y="472.05" width="8.4" height="1.5" fill="#ded438" stroke="none" stroke-width="1" />
<rect x="461.2" y="473.79" width="8.4" height="1.5" fill="#f2dc34" stroke="none" stroke-width="1" />
<rect x="461.2" y="475.53" width="8.4" height="1.5" fill="#ecd040" stroke="none" stroke-width="1" />
<rect x="461.2" y="477.27" width="8.4" height="1.5" fill="#f4bb2b" stroke="none" stroke-width="1" />
<rect x="461.2" y="479.01" width="8.4" height="1.5" fill="#f19520" stroke="none" stroke-width="1" />
<rect x="461.2" y="480.76" width="8.4" height="1.5" fill="#e36020" stroke="none" stroke-width="1" />
<rect x="461.2" y="482.5" width="8.4" height="1.5" fill="#d53920" stroke="none" stroke-width="1" />
<rect x="461.2" y="484.24" width="8.4" height="1.5" fill="#c61e1f" stroke="none" stroke-width="1" />
<rect x="461.2" y="485.98" width="8.4" height="1.5" fill="#bd151a" stroke="none" stroke-width="1" />
<text x="472.5" y="429.7" font-size="7.4" fill="#222" stroke="#222" stroke-width="0.1" textLength="24.6" lengthAdjust="spacingAndGlyphs" >50.0 ms</text>
<text x="472.5" y="490.4" font-size="7.4" fill="#222" stroke="#222" stroke-width="0.1" textLength="20.6" lengthAdjust="spacingAndGlyphs" >0.0 ms</text>
<rect x="0.5" y="0.5" width="519" height="501" fill="none" stroke="#000" stroke-width="1.2"/>
</svg>
</body></html>
